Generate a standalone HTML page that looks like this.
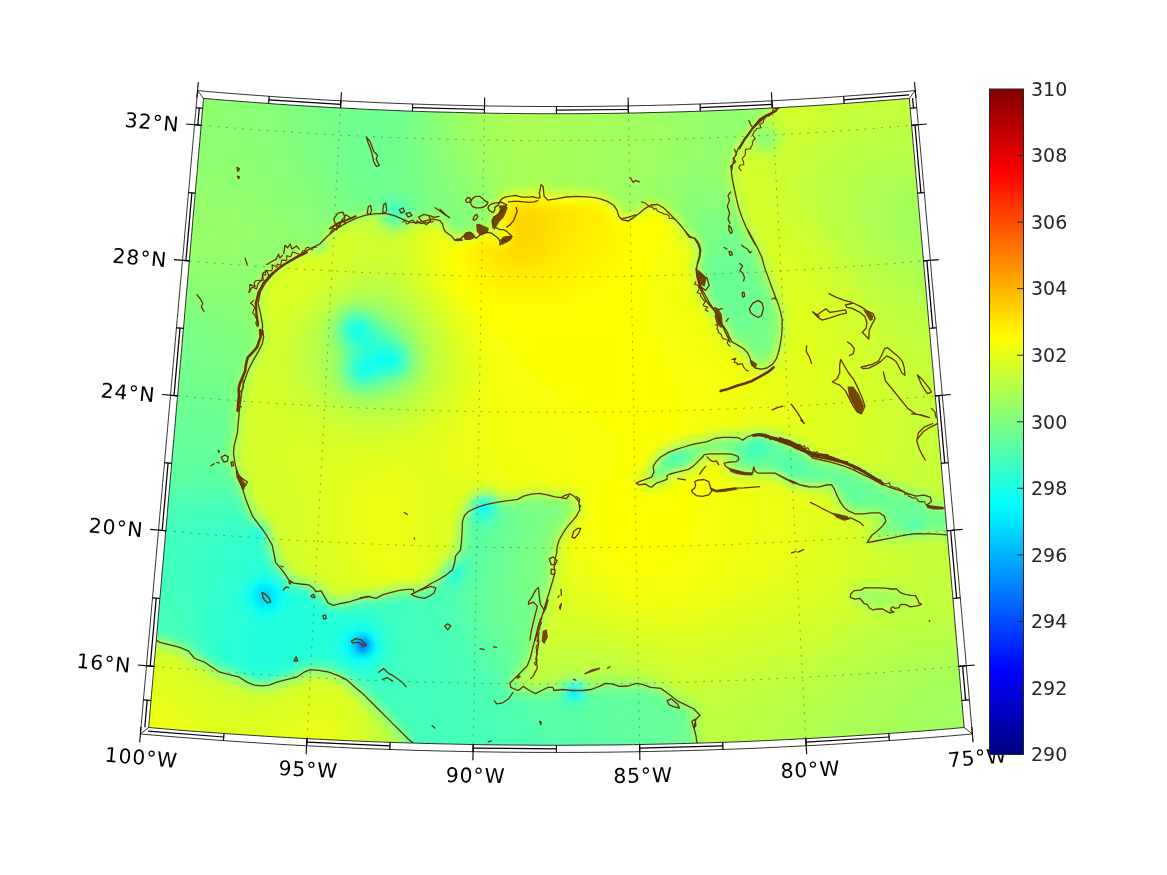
<!DOCTYPE html>
<html><head><meta charset="utf-8"><style>html,body{margin:0;padding:0;background:#fff;width:1167px;height:875px;overflow:hidden}svg{display:block}</style></head>
<body><svg width="1167" height="875" viewBox="0 0 1167 875">
<defs>
<linearGradient id="jet" x1="0" y1="0" x2="0" y2="1"><stop offset="0" stop-color="#800000"/><stop offset="0.125" stop-color="#ff0000"/><stop offset="0.375" stop-color="#ffff00"/><stop offset="0.625" stop-color="#00ffff"/><stop offset="0.875" stop-color="#0000ff"/><stop offset="1" stop-color="#000080"/></linearGradient>
<clipPath id="mc"><polygon points="203.5,98.4 215.4,99.4 227.4,100.4 239.3,101.3 251.2,102.2 263.2,103.1 275.1,104 287.1,104.8 299,105.6 311,106.3 323,107 334.9,107.7 346.9,108.3 358.8,108.9 370.8,109.5 382.8,110 394.7,110.5 406.7,111 418.7,111.4 430.7,111.8 442.6,112.1 454.6,112.4 466.6,112.7 478.5,113 490.5,113.2 502.5,113.4 514.5,113.5 526.5,113.6 538.4,113.7 550.4,113.7 562.4,113.7 574.4,113.7 586.3,113.6 598.3,113.5 610.3,113.4 622.3,113.2 634.3,113 646.2,112.7 658.2,112.4 670.2,112.1 682.1,111.8 694.1,111.4 706.1,111 718.1,110.5 730,110 742,109.5 754,108.9 765.9,108.3 777.9,107.7 789.8,107 801.8,106.3 813.8,105.6 825.7,104.8 837.7,104 849.6,103.1 861.6,102.2 873.5,101.3 885.4,100.4 897.4,99.4 909.3,98.4 909.3,98.4 910.2,109.1 911.2,119.8 912.1,130.6 913,141.3 914,152 914.9,162.7 915.8,173.4 916.8,184.1 917.7,194.7 918.6,205.4 919.6,216.1 920.5,226.7 921.4,237.4 922.4,248.1 923.3,258.7 924.2,269.3 925.1,280 926.1,290.6 927,301.2 927.9,311.9 928.8,322.5 929.8,333.1 930.7,343.7 931.6,354.4 932.6,365 933.5,375.6 934.4,386.2 935.3,396.8 936.3,407.5 937.2,418.1 938.1,428.7 939,439.3 940,449.9 940.9,460.5 941.8,471.2 942.7,481.8 943.7,492.4 944.6,503.1 945.5,513.7 946.4,524.3 947.4,535 948.3,545.6 949.2,556.3 950.2,566.9 951.1,577.6 952,588.2 953,598.9 953.9,609.6 954.8,620.3 955.7,631 956.7,641.7 957.6,652.4 958.5,663.1 959.5,673.8 960.4,684.5 961.4,695.3 962.3,706 963.2,716.8 964.2,727.5 964.2,727.5 950.4,728.7 936.6,729.9 922.8,731 909,732 895.2,733 881.4,734 867.6,734.9 853.8,735.8 839.9,736.7 826.1,737.5 812.3,738.3 798.5,739 784.7,739.7 770.8,740.4 757,741 743.2,741.6 729.4,742.1 715.5,742.6 701.7,743 687.9,743.4 674,743.8 660.2,744.1 646.4,744.4 632.5,744.7 618.7,744.9 604.8,745 591,745.1 577.2,745.2 563.3,745.3 549.5,745.3 535.6,745.2 521.8,745.1 508,745 494.1,744.9 480.3,744.7 466.4,744.4 452.6,744.1 438.8,743.8 424.9,743.4 411.1,743 397.3,742.6 383.4,742.1 369.6,741.6 355.8,741 342,740.4 328.1,739.7 314.3,739 300.5,738.3 286.7,737.5 272.9,736.7 259,735.8 245.2,734.9 231.4,734 217.6,733 203.8,732 190,731 176.2,729.9 162.4,728.7 148.6,727.5 148.6,727.5 149.6,716.8 150.5,706 151.4,695.3 152.4,684.5 153.3,673.8 154.3,663.1 155.2,652.4 156.1,641.7 157.1,631 158,620.3 158.9,609.6 159.8,598.9 160.8,588.2 161.7,577.6 162.6,566.9 163.6,556.3 164.5,545.6 165.4,535 166.4,524.3 167.3,513.7 168.2,503.1 169.1,492.4 170.1,481.8 171,471.2 171.9,460.5 172.8,449.9 173.8,439.3 174.7,428.7 175.6,418.1 176.5,407.5 177.5,396.8 178.4,386.2 179.3,375.6 180.2,365 181.2,354.4 182.1,343.7 183,333.1 184,322.5 184.9,311.9 185.8,301.2 186.7,290.6 187.7,280 188.6,269.3 189.5,258.7 190.4,248.1 191.4,237.4 192.3,226.7 193.2,216.1 194.2,205.4 195.1,194.7 196,184.1 197,173.4 197.9,162.7 198.8,152 199.8,141.3 200.7,130.6 201.6,119.8 202.6,109.1 203.5,98.4"/></clipPath>
<filter id="bl" x="-5%" y="-5%" width="110%" height="110%"><feGaussianBlur stdDeviation="3"/></filter>
</defs>
<g clip-path="url(#mc)"><g filter="url(#bl)"><path fill="#8fff70" d="M132 78h90v6h-90zM438 78h6v6h-6zM714 78h24v6h-24zM132 84h90v6h-90zM438 84h6v6h-6zM714 84h24v6h-24zM132 90h90v6h-90zM438 90h6v6h-6zM714 90h30v6h-30zM756 90h6v6h-6zM132 96h90v6h-90zM438 96h6v6h-6zM720 96h24v6h-24zM756 96h6v6h-6zM132 102h90v6h-90zM438 102h6v6h-6zM720 102h42v6h-42zM132 108h90v6h-90zM438 108h6v6h-6zM720 108h36v6h-36zM132 114h90v6h-90zM726 114h18v6h-18zM132 120h90v6h-90zM726 120h12v6h-12zM132 126h90v6h-90zM444 126h6v6h-6zM132 132h90v6h-90zM444 132h6v6h-6zM132 138h90v6h-90zM444 138h6v6h-6zM132 144h96v6h-96zM132 150h96v6h-96zM450 150h6v6h-6zM132 156h102v6h-102zM450 156h6v6h-6zM132 162h102v6h-102zM132 168h108v6h-108zM456 168h6v6h-6zM714 168h6v6h-6zM210 174h36v6h-36zM702 174h18v6h-18zM222 180h30v6h-30zM462 180h6v6h-6zM696 180h12v6h-12zM234 186h24v6h-24zM468 186h6v6h-6zM690 186h12v6h-12zM246 192h18v6h-18zM468 192h6v6h-6zM684 192h12v6h-12zM252 198h18v6h-18zM474 198h6v6h-6zM678 198h6v6h-6zM726 198h6v6h-6zM258 204h18v6h-18zM678 204h6v6h-6zM264 210h18v6h-18zM480 210h6v6h-6zM270 216h18v6h-18zM276 222h18v6h-18zM384 222h6v6h-6zM282 228h18v6h-18zM282 234h30v6h-30zM132 258h18v6h-18zM150 264h30v6h-30zM174 270h78v6h-78zM198 276h54v6h-54zM234 282h18v6h-18zM246 288h6v6h-6zM768 294h6v6h-6zM246 300h6v6h-6zM246 306h6v6h-6zM336 312h6v6h-6zM390 318h6v6h-6zM774 318h6v6h-6zM774 324h6v6h-6zM252 330h6v6h-6zM330 330h6v6h-6zM402 330h6v6h-6zM252 336h6v6h-6zM342 384h6v6h-6zM234 396h6v6h-6zM756 432h6v6h-6zM684 444h6v6h-6zM762 468h6v6h-6zM780 474h6v6h-6zM798 480h6v6h-6zM498 498h6v6h-6zM546 498h6v6h-6zM924 498h6v6h-6zM564 510h6v6h-6zM966 528h6v6h-6zM546 552h6v6h-6zM396 588h6v6h-6zM324 594h6v6h-6zM360 594h6v6h-6zM528 642h6v6h-6zM222 672h6v6h-6zM330 672h6v6h-6zM564 678h6v6h-6zM516 684h6v6h-6z"/><path fill="#8cff73" d="M222 78h24v6h-24zM738 78h18v6h-18zM222 84h24v6h-24zM738 84h18v6h-18zM222 90h24v6h-24zM744 90h12v6h-12zM222 96h24v6h-24zM744 96h12v6h-12zM222 102h24v6h-24zM222 108h24v6h-24zM222 114h24v6h-24zM438 114h6v6h-6zM222 120h24v6h-24zM438 120h6v6h-6zM222 126h24v6h-24zM438 126h6v6h-6zM222 132h30v6h-30zM438 132h6v6h-6zM222 138h30v6h-30zM228 144h24v6h-24zM444 144h6v6h-6zM228 150h24v6h-24zM444 150h6v6h-6zM234 156h24v6h-24zM234 162h24v6h-24zM450 162h6v6h-6zM240 168h24v6h-24zM450 168h6v6h-6zM246 174h24v6h-24zM456 174h6v6h-6zM252 180h18v6h-18zM456 180h6v6h-6zM708 180h12v6h-12zM258 186h18v6h-18zM462 186h6v6h-6zM702 186h12v6h-12zM720 186h6v6h-6zM264 192h18v6h-18zM696 192h6v6h-6zM270 198h18v6h-18zM468 198h6v6h-6zM684 198h12v6h-12zM276 204h18v6h-18zM474 204h6v6h-6zM282 210h18v6h-18zM288 216h18v6h-18zM336 216h6v6h-6zM684 216h6v6h-6zM294 222h12v6h-12zM324 222h6v6h-6zM300 228h18v6h-18zM312 234h6v6h-6zM696 234h6v6h-6zM750 246h6v6h-6zM132 264h18v6h-18zM150 270h24v6h-24zM168 276h30v6h-30zM192 282h42v6h-42zM702 282h6v6h-6zM216 288h30v6h-30zM240 294h6v6h-6zM378 312h6v6h-6zM396 324h6v6h-6zM240 366h6v6h-6zM336 372h6v6h-6zM234 390h6v6h-6zM372 390h6v6h-6zM714 438h6v6h-6zM726 450h6v6h-6zM810 456h6v6h-6zM732 462h6v6h-6zM888 486h6v6h-6zM906 492h6v6h-6zM522 498h6v6h-6zM840 498h6v6h-6zM246 504h6v6h-6zM564 504h6v6h-6zM846 504h6v6h-6zM930 504h6v6h-6zM948 504h6v6h-6zM552 528h6v6h-6zM930 528h18v6h-18zM954 528h12v6h-12zM546 546h6v6h-6zM534 612h6v6h-6zM144 636h6v6h-6zM168 642h6v6h-6zM522 660h6v6h-6zM210 666h6v6h-6zM282 678h6v6h-6zM690 720h6v6h-6zM690 726h6v6h-6z"/><path fill="#8aff75" d="M246 78h18v6h-18zM432 78h6v6h-6zM246 84h18v6h-18zM432 84h6v6h-6zM246 90h18v6h-18zM432 90h6v6h-6zM246 96h18v6h-18zM432 96h6v6h-6zM246 102h18v6h-18zM432 102h6v6h-6zM246 108h18v6h-18zM432 108h6v6h-6zM246 114h18v6h-18zM432 114h6v6h-6zM246 120h18v6h-18zM432 120h6v6h-6zM246 126h18v6h-18zM252 132h12v6h-12zM252 138h12v6h-12zM438 138h6v6h-6zM252 144h18v6h-18zM438 144h6v6h-6zM252 150h18v6h-18zM438 150h6v6h-6zM258 156h12v6h-12zM444 156h6v6h-6zM258 162h18v6h-18zM444 162h6v6h-6zM264 168h18v6h-18zM270 174h12v6h-12zM450 174h6v6h-6zM270 180h18v6h-18zM450 180h6v6h-6zM276 186h18v6h-18zM456 186h6v6h-6zM714 186h6v6h-6zM282 192h18v6h-18zM462 192h6v6h-6zM702 192h24v6h-24zM288 198h12v6h-12zM462 198h6v6h-6zM696 198h12v6h-12zM294 204h12v6h-12zM468 204h6v6h-6zM684 204h12v6h-12zM726 204h6v6h-6zM300 210h12v6h-12zM354 210h6v6h-6zM432 210h6v6h-6zM474 210h6v6h-6zM684 210h6v6h-6zM306 216h6v6h-6zM444 216h6v6h-6zM474 216h6v6h-6zM732 216h6v6h-6zM306 222h18v6h-18zM468 222h6v6h-6zM132 270h18v6h-18zM150 276h18v6h-18zM168 282h24v6h-24zM192 288h24v6h-24zM210 294h30v6h-30zM222 300h24v6h-24zM240 306h6v6h-6zM366 306h6v6h-6zM246 312h6v6h-6zM246 318h6v6h-6zM744 342h6v6h-6zM246 348h6v6h-6zM336 348h6v6h-6zM768 348h6v6h-6zM336 354h6v6h-6zM336 360h6v6h-6zM336 366h6v6h-6zM408 372h6v6h-6zM402 378h6v6h-6zM390 384h6v6h-6zM354 390h6v6h-6zM228 450h6v6h-6zM234 474h6v6h-6zM654 474h6v6h-6zM822 480h6v6h-6zM540 498h6v6h-6zM558 516h6v6h-6zM882 516h6v6h-6zM882 522h6v6h-6zM948 528h6v6h-6zM408 588h6v6h-6zM540 588h6v6h-6zM366 594h6v6h-6zM690 714h6v6h-6zM690 732h6v6h-6z"/><path fill="#87ff78" d="M264 78h12v6h-12zM426 78h6v6h-6zM264 84h12v6h-12zM264 90h12v6h-12zM264 96h12v6h-12zM264 102h12v6h-12zM264 108h12v6h-12zM264 114h12v6h-12zM264 120h12v6h-12zM264 126h12v6h-12zM432 126h6v6h-6zM264 132h18v6h-18zM432 132h6v6h-6zM264 138h18v6h-18zM432 138h6v6h-6zM270 144h12v6h-12zM270 150h12v6h-12zM270 156h18v6h-18zM438 156h6v6h-6zM276 162h12v6h-12zM438 162h6v6h-6zM282 168h12v6h-12zM444 168h6v6h-6zM282 174h12v6h-12zM444 174h6v6h-6zM288 180h12v6h-12zM294 186h12v6h-12zM450 186h6v6h-6zM300 192h6v6h-6zM456 192h6v6h-6zM300 198h12v6h-12zM456 198h6v6h-6zM708 198h18v6h-18zM306 204h6v6h-6zM462 204h6v6h-6zM696 204h12v6h-12zM312 210h6v6h-6zM426 210h6v6h-6zM438 210h6v6h-6zM468 210h6v6h-6zM690 210h6v6h-6zM312 216h12v6h-12zM330 216h6v6h-6zM468 216h6v6h-6zM450 222h6v6h-6zM690 222h6v6h-6zM738 228h6v6h-6zM132 276h18v6h-18zM150 282h18v6h-18zM168 288h24v6h-24zM186 294h24v6h-24zM204 300h18v6h-18zM216 306h24v6h-24zM234 312h12v6h-12zM240 318h6v6h-6zM246 324h6v6h-6zM408 342h6v6h-6zM750 348h6v6h-6zM234 384h6v6h-6zM366 390h6v6h-6zM228 444h6v6h-6zM690 444h6v6h-6zM666 450h6v6h-6zM228 456h6v6h-6zM768 468h6v6h-6zM804 480h6v6h-6zM816 480h6v6h-6zM528 498h12v6h-12zM954 504h6v6h-6zM462 516h6v6h-6zM882 528h6v6h-6zM924 528h6v6h-6zM546 540h6v6h-6zM306 582h6v6h-6zM540 582h6v6h-6zM402 588h6v6h-6zM414 588h6v6h-6zM528 636h6v6h-6zM510 678h6v6h-6zM588 684h12v6h-12zM642 684h6v6h-6zM660 690h6v6h-6zM678 702h6v6h-6z"/><path fill="#85ff7a" d="M276 78h12v6h-12zM276 84h12v6h-12zM426 84h6v6h-6zM276 90h12v6h-12zM426 90h6v6h-6zM276 96h12v6h-12zM426 96h6v6h-6zM276 102h12v6h-12zM426 102h6v6h-6zM276 108h12v6h-12zM426 108h6v6h-6zM276 114h12v6h-12zM426 114h6v6h-6zM276 120h12v6h-12zM426 120h6v6h-6zM276 126h12v6h-12zM426 126h6v6h-6zM282 132h6v6h-6zM426 132h6v6h-6zM762 132h6v6h-6zM282 138h12v6h-12zM762 138h6v6h-6zM282 144h12v6h-12zM432 144h6v6h-6zM282 150h12v6h-12zM432 150h6v6h-6zM288 156h12v6h-12zM432 156h6v6h-6zM288 162h12v6h-12zM294 168h12v6h-12zM438 168h6v6h-6zM294 174h12v6h-12zM438 174h6v6h-6zM300 180h12v6h-12zM444 180h6v6h-6zM306 186h6v6h-6zM444 186h6v6h-6zM306 192h12v6h-12zM450 192h6v6h-6zM312 198h6v6h-6zM450 198h6v6h-6zM312 204h12v6h-12zM456 204h6v6h-6zM708 204h18v6h-18zM318 210h6v6h-6zM348 210h6v6h-6zM462 210h6v6h-6zM696 210h12v6h-12zM324 216h6v6h-6zM408 216h6v6h-6zM690 216h6v6h-6zM462 222h6v6h-6zM756 264h6v6h-6zM702 276h6v6h-6zM138 282h12v6h-12zM762 282h6v6h-6zM156 288h12v6h-12zM168 294h18v6h-18zM186 300h18v6h-18zM768 300h6v6h-6zM198 306h18v6h-18zM348 306h6v6h-6zM210 312h24v6h-24zM222 318h18v6h-18zM384 318h6v6h-6zM234 324h12v6h-12zM726 324h6v6h-6zM246 330h6v6h-6zM246 336h6v6h-6zM246 342h6v6h-6zM768 342h6v6h-6zM756 354h12v6h-12zM240 360h6v6h-6zM384 384h6v6h-6zM360 390h6v6h-6zM228 438h6v6h-6zM720 438h6v6h-6zM774 438h6v6h-6zM732 456h6v6h-6zM684 462h6v6h-6zM828 462h6v6h-6zM846 468h6v6h-6zM810 480h6v6h-6zM240 492h6v6h-6zM486 492h6v6h-6zM558 504h6v6h-6zM960 504h6v6h-6zM558 510h6v6h-6zM552 522h6v6h-6zM546 534h6v6h-6zM270 546h6v6h-6zM288 576h6v6h-6zM372 594h6v6h-6zM534 606h6v6h-6zM240 678h6v6h-6zM402 750h6v6h-6zM402 756h6v6h-6z"/><path fill="#82ff7d" d="M288 78h12v6h-12zM420 78h6v6h-6zM288 84h12v6h-12zM420 84h6v6h-6zM288 90h12v6h-12zM420 90h6v6h-6zM288 96h12v6h-12zM420 96h6v6h-6zM288 102h12v6h-12zM420 102h6v6h-6zM288 108h12v6h-12zM288 114h12v6h-12zM288 120h12v6h-12zM288 126h12v6h-12zM288 132h12v6h-12zM294 138h6v6h-6zM426 138h6v6h-6zM294 144h12v6h-12zM426 144h6v6h-6zM294 150h12v6h-12zM426 150h6v6h-6zM300 156h6v6h-6zM426 156h6v6h-6zM300 162h12v6h-12zM432 162h6v6h-6zM306 168h6v6h-6zM432 168h6v6h-6zM306 174h6v6h-6zM432 174h6v6h-6zM312 180h6v6h-6zM438 180h6v6h-6zM312 186h6v6h-6zM438 186h6v6h-6zM318 192h6v6h-6zM444 192h6v6h-6zM318 198h6v6h-6zM444 198h6v6h-6zM324 204h6v6h-6zM450 204h6v6h-6zM324 210h6v6h-6zM420 210h6v6h-6zM444 210h6v6h-6zM456 210h6v6h-6zM708 210h12v6h-12zM726 210h6v6h-6zM450 216h18v6h-18zM696 216h12v6h-12zM396 222h6v6h-6zM456 222h6v6h-6zM696 228h6v6h-6zM318 240h6v6h-6zM744 240h6v6h-6zM702 246h6v6h-6zM702 252h6v6h-6zM132 282h6v6h-6zM138 288h18v6h-18zM156 294h12v6h-12zM708 294h6v6h-6zM168 300h18v6h-18zM186 306h12v6h-12zM360 306h6v6h-6zM198 312h12v6h-12zM720 312h6v6h-6zM210 318h12v6h-12zM216 324h18v6h-18zM390 324h6v6h-6zM228 330h18v6h-18zM240 336h6v6h-6zM738 336h6v6h-6zM240 354h6v6h-6zM234 378h6v6h-6zM726 438h12v6h-12zM696 444h6v6h-6zM228 462h6v6h-6zM858 474h6v6h-6zM870 480h6v6h-6zM834 486h6v6h-6zM900 492h6v6h-6zM552 504h6v6h-6zM966 504h6v6h-6zM252 516h6v6h-6zM552 516h6v6h-6zM546 528h6v6h-6zM888 528h6v6h-6zM450 558h6v6h-6zM540 558h6v6h-6zM444 564h6v6h-6zM540 564h6v6h-6zM282 570h6v6h-6zM540 570h6v6h-6zM540 576h6v6h-6zM528 630h6v6h-6zM192 654h6v6h-6zM516 666h6v6h-6zM618 684h12v6h-12zM690 738h6v6h-6zM402 744h6v6h-6z"/><path fill="#80ff80" d="M300 78h12v6h-12zM300 84h12v6h-12zM300 90h12v6h-12zM300 96h12v6h-12zM300 102h6v6h-6zM300 108h6v6h-6zM420 108h6v6h-6zM300 114h6v6h-6zM420 114h6v6h-6zM300 120h6v6h-6zM420 120h6v6h-6zM300 126h12v6h-12zM420 126h6v6h-6zM300 132h12v6h-12zM420 132h6v6h-6zM300 138h12v6h-12zM420 138h6v6h-6zM306 144h6v6h-6zM420 144h6v6h-6zM306 150h6v6h-6zM306 156h6v6h-6zM312 162h6v6h-6zM426 162h6v6h-6zM312 168h6v6h-6zM426 168h6v6h-6zM312 174h12v6h-12zM426 174h6v6h-6zM318 180h6v6h-6zM432 180h6v6h-6zM318 186h6v6h-6zM432 186h6v6h-6zM324 192h6v6h-6zM438 192h6v6h-6zM324 198h6v6h-6zM438 198h6v6h-6zM330 204h6v6h-6zM438 204h12v6h-12zM330 210h18v6h-18zM450 210h6v6h-6zM720 210h6v6h-6zM708 216h12v6h-12zM726 216h6v6h-6zM696 222h12v6h-12zM732 222h6v6h-6zM702 240h6v6h-6zM750 252h6v6h-6zM132 288h6v6h-6zM138 294h18v6h-18zM150 300h18v6h-18zM168 306h18v6h-18zM354 306h6v6h-6zM180 312h18v6h-18zM192 318h18v6h-18zM204 324h12v6h-12zM210 330h18v6h-18zM396 330h6v6h-6zM222 336h18v6h-18zM402 336h6v6h-6zM768 336h6v6h-6zM228 342h18v6h-18zM336 342h6v6h-6zM240 348h6v6h-6zM234 372h6v6h-6zM228 432h6v6h-6zM738 438h6v6h-6zM702 444h6v6h-6zM798 450h6v6h-6zM660 456h6v6h-6zM654 468h6v6h-6zM828 480h6v6h-6zM882 486h6v6h-6zM918 498h6v6h-6zM546 504h6v6h-6zM972 504h6v6h-6zM552 510h6v6h-6zM546 516h6v6h-6zM546 522h6v6h-6zM894 528h6v6h-6zM540 540h6v6h-6zM540 546h6v6h-6zM540 552h6v6h-6zM336 600h6v6h-6zM534 600h6v6h-6zM528 624h6v6h-6zM150 636h6v6h-6zM522 654h6v6h-6zM558 684h6v6h-6zM600 684h6v6h-6zM630 684h12v6h-12zM666 696h6v6h-6zM690 744h6v6h-6z"/><path fill="#7dff82" d="M312 78h6v6h-6zM414 78h6v6h-6zM312 84h6v6h-6zM414 84h6v6h-6zM312 90h6v6h-6zM414 90h6v6h-6zM312 96h6v6h-6zM414 96h6v6h-6zM306 102h12v6h-12zM414 102h6v6h-6zM306 108h12v6h-12zM414 108h6v6h-6zM306 114h12v6h-12zM414 114h6v6h-6zM306 120h12v6h-12zM414 120h6v6h-6zM312 126h6v6h-6zM414 126h6v6h-6zM312 132h6v6h-6zM414 132h6v6h-6zM312 138h6v6h-6zM414 138h6v6h-6zM312 144h6v6h-6zM312 150h6v6h-6zM420 150h6v6h-6zM312 156h12v6h-12zM420 156h6v6h-6zM318 162h6v6h-6zM420 162h6v6h-6zM318 168h6v6h-6zM420 168h6v6h-6zM324 174h6v6h-6zM324 180h6v6h-6zM426 180h6v6h-6zM324 186h6v6h-6zM426 186h6v6h-6zM330 192h6v6h-6zM432 192h6v6h-6zM330 198h6v6h-6zM432 198h6v6h-6zM336 204h6v6h-6zM432 204h6v6h-6zM378 210h6v6h-6zM720 216h6v6h-6zM708 222h12v6h-12zM702 228h6v6h-6zM702 234h6v6h-6zM738 234h6v6h-6zM312 240h6v6h-6zM702 258h6v6h-6zM702 270h6v6h-6zM756 270h6v6h-6zM762 288h6v6h-6zM132 294h6v6h-6zM132 300h18v6h-18zM144 306h24v6h-24zM768 306h6v6h-6zM162 312h18v6h-18zM372 312h6v6h-6zM174 318h18v6h-18zM186 324h18v6h-18zM192 330h18v6h-18zM732 330h6v6h-6zM768 330h6v6h-6zM204 336h18v6h-18zM216 342h12v6h-12zM222 348h18v6h-18zM762 348h6v6h-6zM234 354h6v6h-6zM234 360h6v6h-6zM234 366h6v6h-6zM342 378h6v6h-6zM708 444h6v6h-6zM786 444h6v6h-6zM666 468h6v6h-6zM480 492h6v6h-6zM540 504h6v6h-6zM852 504h6v6h-6zM978 504h6v6h-6zM540 510h12v6h-12zM882 510h6v6h-6zM540 516h6v6h-6zM462 522h6v6h-6zM540 522h6v6h-6zM540 528h6v6h-6zM540 534h6v6h-6zM534 540h6v6h-6zM534 546h6v6h-6zM534 552h6v6h-6zM534 558h6v6h-6zM534 564h6v6h-6zM534 570h6v6h-6zM534 576h6v6h-6zM534 582h6v6h-6zM534 588h6v6h-6zM534 594h6v6h-6zM228 672h6v6h-6zM576 678h6v6h-6zM510 684h6v6h-6zM612 684h6v6h-6zM360 690h6v6h-6zM534 690h6v6h-6zM366 696h6v6h-6zM372 702h6v6h-6zM378 708h6v6h-6zM684 708h6v6h-6zM384 714h6v6h-6zM402 738h6v6h-6z"/><path fill="#7aff85" d="M318 78h12v6h-12zM318 84h12v6h-12zM318 90h6v6h-6zM318 96h6v6h-6zM318 102h6v6h-6zM318 108h6v6h-6zM318 114h6v6h-6zM318 120h6v6h-6zM318 126h6v6h-6zM318 132h6v6h-6zM318 138h6v6h-6zM318 144h6v6h-6zM414 144h6v6h-6zM318 150h12v6h-12zM414 150h6v6h-6zM324 156h6v6h-6zM414 156h6v6h-6zM324 162h6v6h-6zM414 162h6v6h-6zM324 168h6v6h-6zM414 168h6v6h-6zM330 174h6v6h-6zM420 174h6v6h-6zM330 180h6v6h-6zM420 180h6v6h-6zM330 186h6v6h-6zM420 186h6v6h-6zM336 192h6v6h-6zM426 192h6v6h-6zM336 198h6v6h-6zM426 198h6v6h-6zM342 204h6v6h-6zM366 204h6v6h-6zM426 204h6v6h-6zM390 222h6v6h-6zM720 222h12v6h-12zM708 228h12v6h-12zM732 228h6v6h-6zM714 300h6v6h-6zM132 306h12v6h-12zM132 312h30v6h-30zM768 312h6v6h-6zM144 318h30v6h-30zM336 318h6v6h-6zM768 318h6v6h-6zM162 324h24v6h-24zM768 324h6v6h-6zM168 330h24v6h-24zM180 336h24v6h-24zM192 342h24v6h-24zM750 342h6v6h-6zM204 348h18v6h-18zM408 348h6v6h-6zM756 348h6v6h-6zM210 354h24v6h-24zM222 360h12v6h-12zM228 366h6v6h-6zM408 366h6v6h-6zM396 378h6v6h-6zM348 384h6v6h-6zM378 384h6v6h-6zM228 420h6v6h-6zM228 426h6v6h-6zM714 444h6v6h-6zM696 450h6v6h-6zM690 456h6v6h-6zM822 462h6v6h-6zM774 468h6v6h-6zM510 504h6v6h-6zM534 504h6v6h-6zM858 504h18v6h-18zM924 504h6v6h-6zM534 510h6v6h-6zM534 516h6v6h-6zM534 522h6v6h-6zM978 522h6v6h-6zM462 528h6v6h-6zM534 528h6v6h-6zM534 534h6v6h-6zM528 540h6v6h-6zM528 546h6v6h-6zM456 552h6v6h-6zM528 552h6v6h-6zM528 558h6v6h-6zM528 564h6v6h-6zM528 570h6v6h-6zM378 594h6v6h-6zM528 618h6v6h-6zM174 642h6v6h-6zM522 648h6v6h-6zM510 672h6v6h-6zM606 684h6v6h-6zM528 690h6v6h-6zM654 690h6v6h-6zM672 702h6v6h-6zM690 750h6v6h-6z"/><path fill="#78ff87" d="M330 78h6v6h-6zM408 78h6v6h-6zM330 84h6v6h-6zM408 84h6v6h-6zM324 90h12v6h-12zM408 90h6v6h-6zM324 96h12v6h-12zM408 96h6v6h-6zM324 102h6v6h-6zM408 102h6v6h-6zM324 108h6v6h-6zM408 108h6v6h-6zM324 114h6v6h-6zM408 114h6v6h-6zM324 120h6v6h-6zM408 120h6v6h-6zM324 126h6v6h-6zM408 126h6v6h-6zM324 132h6v6h-6zM408 132h6v6h-6zM324 138h6v6h-6zM408 138h6v6h-6zM324 144h12v6h-12zM408 144h6v6h-6zM330 150h6v6h-6zM408 150h6v6h-6zM330 156h6v6h-6zM408 156h6v6h-6zM330 162h6v6h-6zM408 162h6v6h-6zM330 168h6v6h-6zM408 168h6v6h-6zM336 174h6v6h-6zM414 174h6v6h-6zM336 180h6v6h-6zM414 180h6v6h-6zM336 186h6v6h-6zM414 186h6v6h-6zM420 192h6v6h-6zM342 198h6v6h-6zM420 198h6v6h-6zM348 204h18v6h-18zM420 204h6v6h-6zM414 210h6v6h-6zM720 228h12v6h-12zM708 234h12v6h-12zM744 246h6v6h-6zM750 258h6v6h-6zM702 264h6v6h-6zM132 318h12v6h-12zM378 318h6v6h-6zM726 318h6v6h-6zM132 324h30v6h-30zM132 330h36v6h-36zM144 336h36v6h-36zM744 336h6v6h-6zM762 336h6v6h-6zM156 342h36v6h-36zM756 342h12v6h-12zM168 348h36v6h-36zM186 354h24v6h-24zM198 360h24v6h-24zM210 366h18v6h-18zM222 372h12v6h-12zM228 378h6v6h-6zM228 384h6v6h-6zM228 390h6v6h-6zM228 396h6v6h-6zM228 408h6v6h-6zM228 414h6v6h-6zM840 468h6v6h-6zM894 492h6v6h-6zM912 498h6v6h-6zM516 504h18v6h-18zM528 510h6v6h-6zM936 510h12v6h-12zM528 516h6v6h-6zM528 522h6v6h-6zM888 522h6v6h-6zM972 522h6v6h-6zM528 528h6v6h-6zM900 528h6v6h-6zM462 534h6v6h-6zM528 534h6v6h-6zM522 546h6v6h-6zM522 552h6v6h-6zM522 558h6v6h-6zM522 564h6v6h-6zM522 570h6v6h-6zM522 576h12v6h-12zM528 582h6v6h-6zM420 588h6v6h-6zM528 588h6v6h-6zM528 594h6v6h-6zM330 600h6v6h-6zM342 600h6v6h-6zM528 600h6v6h-6zM528 606h6v6h-6zM528 612h6v6h-6zM186 648h6v6h-6zM204 660h6v6h-6zM336 672h6v6h-6zM276 678h6v6h-6zM540 690h6v6h-6zM390 720h6v6h-6zM690 756h6v6h-6z"/><path fill="#75ff8a" d="M336 78h6v6h-6zM402 78h6v6h-6zM336 84h6v6h-6zM402 84h6v6h-6zM336 90h6v6h-6zM402 90h6v6h-6zM336 96h6v6h-6zM402 96h6v6h-6zM330 102h12v6h-12zM402 102h6v6h-6zM330 108h12v6h-12zM402 108h6v6h-6zM330 114h12v6h-12zM402 114h6v6h-6zM330 120h12v6h-12zM402 120h6v6h-6zM330 126h12v6h-12zM402 126h6v6h-6zM330 132h12v6h-12zM402 132h6v6h-6zM330 138h12v6h-12zM402 138h6v6h-6zM336 144h6v6h-6zM402 144h6v6h-6zM336 150h6v6h-6zM402 150h6v6h-6zM336 156h6v6h-6zM402 156h6v6h-6zM336 162h6v6h-6zM402 162h6v6h-6zM336 168h6v6h-6zM402 168h6v6h-6zM342 174h6v6h-6zM402 174h12v6h-12zM342 180h6v6h-6zM408 180h6v6h-6zM342 186h6v6h-6zM408 186h6v6h-6zM342 192h6v6h-6zM414 192h6v6h-6zM348 198h6v6h-6zM414 198h6v6h-6zM372 204h6v6h-6zM720 234h18v6h-18zM708 240h12v6h-12zM738 240h6v6h-6zM708 246h6v6h-6zM756 276h6v6h-6zM708 288h6v6h-6zM762 294h6v6h-6zM720 306h6v6h-6zM342 312h6v6h-6zM762 324h6v6h-6zM756 330h12v6h-12zM132 336h12v6h-12zM336 336h6v6h-6zM750 336h12v6h-12zM132 342h24v6h-24zM132 348h36v6h-36zM132 354h54v6h-54zM144 360h54v6h-54zM168 366h42v6h-42zM192 372h30v6h-30zM210 378h18v6h-18zM228 402h6v6h-6zM768 438h6v6h-6zM720 444h6v6h-6zM732 450h6v6h-6zM804 456h6v6h-6zM228 468h6v6h-6zM234 480h6v6h-6zM840 492h6v6h-6zM504 504h6v6h-6zM876 504h6v6h-6zM522 510h6v6h-6zM930 510h6v6h-6zM948 510h6v6h-6zM522 516h6v6h-6zM888 516h6v6h-6zM522 522h6v6h-6zM930 522h18v6h-18zM960 522h12v6h-12zM522 528h6v6h-6zM522 534h6v6h-6zM522 540h6v6h-6zM516 558h6v6h-6zM516 564h6v6h-6zM516 570h6v6h-6zM516 576h6v6h-6zM522 582h6v6h-6zM522 588h6v6h-6zM522 594h6v6h-6zM522 600h6v6h-6zM522 642h6v6h-6zM294 672h6v6h-6zM354 684h6v6h-6zM396 726h6v6h-6z"/><path fill="#73ff8c" d="M342 78h12v6h-12zM396 78h6v6h-6zM342 84h12v6h-12zM396 84h6v6h-6zM342 90h6v6h-6zM396 90h6v6h-6zM342 96h6v6h-6zM396 96h6v6h-6zM342 102h6v6h-6zM396 102h6v6h-6zM342 108h6v6h-6zM396 108h6v6h-6zM342 114h6v6h-6zM396 114h6v6h-6zM342 120h6v6h-6zM396 120h6v6h-6zM342 126h6v6h-6zM396 126h6v6h-6zM342 132h6v6h-6zM396 132h6v6h-6zM342 138h6v6h-6zM396 138h6v6h-6zM342 144h6v6h-6zM396 144h6v6h-6zM342 150h6v6h-6zM396 150h6v6h-6zM342 156h6v6h-6zM396 156h6v6h-6zM342 162h6v6h-6zM396 162h6v6h-6zM342 168h12v6h-12zM396 168h6v6h-6zM348 174h6v6h-6zM396 174h6v6h-6zM348 180h6v6h-6zM396 180h12v6h-12zM348 186h6v6h-6zM402 186h6v6h-6zM348 192h12v6h-12zM408 192h6v6h-6zM354 198h6v6h-6zM414 204h6v6h-6zM384 216h6v6h-6zM720 240h18v6h-18zM714 246h6v6h-6zM738 246h6v6h-6zM708 252h6v6h-6zM744 252h6v6h-6zM750 264h6v6h-6zM756 282h6v6h-6zM762 300h6v6h-6zM762 306h6v6h-6zM762 312h6v6h-6zM756 318h12v6h-12zM384 324h6v6h-6zM732 324h6v6h-6zM750 324h12v6h-12zM738 330h18v6h-18zM342 354h6v6h-6zM408 354h6v6h-6zM132 360h12v6h-12zM132 366h36v6h-36zM132 372h60v6h-60zM156 378h54v6h-54zM192 384h36v6h-36zM222 390h6v6h-6zM738 462h6v6h-6zM816 462h6v6h-6zM852 474h6v6h-6zM864 480h6v6h-6zM876 486h6v6h-6zM888 492h6v6h-6zM240 498h6v6h-6zM846 498h6v6h-6zM906 498h6v6h-6zM468 504h6v6h-6zM246 510h6v6h-6zM516 510h6v6h-6zM954 510h12v6h-12zM516 522h6v6h-6zM948 522h12v6h-12zM516 528h6v6h-6zM918 528h6v6h-6zM516 534h6v6h-6zM462 540h6v6h-6zM516 540h6v6h-6zM516 546h6v6h-6zM270 552h6v6h-6zM516 552h6v6h-6zM276 564h6v6h-6zM510 570h6v6h-6zM510 576h6v6h-6zM300 582h6v6h-6zM516 582h6v6h-6zM516 588h6v6h-6zM516 594h6v6h-6zM516 600h6v6h-6zM516 606h12v6h-12zM522 612h6v6h-6zM522 618h6v6h-6zM522 624h6v6h-6zM522 630h6v6h-6zM156 636h6v6h-6zM522 636h6v6h-6zM516 660h6v6h-6zM570 678h6v6h-6zM522 690h6v6h-6zM546 690h6v6h-6zM648 690h6v6h-6zM660 696h6v6h-6zM684 714h6v6h-6zM684 720h6v6h-6zM684 726h6v6h-6z"/><path fill="#70ff8f" d="M354 78h12v6h-12zM390 78h6v6h-6zM354 84h12v6h-12zM390 84h6v6h-6zM348 90h12v6h-12zM390 90h6v6h-6zM348 96h12v6h-12zM390 96h6v6h-6zM348 102h12v6h-12zM390 102h6v6h-6zM348 108h12v6h-12zM390 108h6v6h-6zM348 114h12v6h-12zM384 114h12v6h-12zM348 120h12v6h-12zM384 120h12v6h-12zM348 126h12v6h-12zM384 126h12v6h-12zM348 132h12v6h-12zM384 132h12v6h-12zM348 138h12v6h-12zM384 138h12v6h-12zM348 144h12v6h-12zM384 144h12v6h-12zM348 150h12v6h-12zM384 150h12v6h-12zM348 156h12v6h-12zM384 156h12v6h-12zM348 162h12v6h-12zM384 162h12v6h-12zM354 168h6v6h-6zM384 168h12v6h-12zM354 174h6v6h-6zM384 174h12v6h-12zM354 180h12v6h-12zM390 180h6v6h-6zM354 186h12v6h-12zM396 186h6v6h-6zM360 192h6v6h-6zM360 198h12v6h-12zM720 246h18v6h-18zM714 252h30v6h-30zM708 258h6v6h-6zM744 258h6v6h-6zM750 270h6v6h-6zM708 282h6v6h-6zM756 288h6v6h-6zM756 300h6v6h-6zM756 306h6v6h-6zM726 312h6v6h-6zM750 312h12v6h-12zM744 318h12v6h-12zM738 324h12v6h-12zM390 330h6v6h-6zM342 348h6v6h-6zM408 360h6v6h-6zM342 372h6v6h-6zM402 372h6v6h-6zM132 378h24v6h-24zM132 384h60v6h-60zM372 384h6v6h-6zM168 390h54v6h-54zM204 396h24v6h-24zM222 402h6v6h-6zM726 444h6v6h-6zM786 474h6v6h-6zM918 504h6v6h-6zM888 510h6v6h-6zM924 510h6v6h-6zM966 510h18v6h-18zM516 516h6v6h-6zM936 516h6v6h-6zM894 522h6v6h-6zM924 522h6v6h-6zM510 534h6v6h-6zM510 540h6v6h-6zM510 546h6v6h-6zM510 552h6v6h-6zM510 558h6v6h-6zM510 564h6v6h-6zM438 576h6v6h-6zM432 582h6v6h-6zM510 582h6v6h-6zM510 588h6v6h-6zM510 594h6v6h-6zM510 600h6v6h-6zM510 606h6v6h-6zM510 612h12v6h-12zM516 618h6v6h-6zM516 624h6v6h-6zM312 666h6v6h-6zM552 690h6v6h-6zM678 708h6v6h-6zM684 732h6v6h-6z"/><path fill="#6eff91" d="M366 78h24v6h-24zM366 84h24v6h-24zM360 90h30v6h-30zM360 96h30v6h-30zM360 102h30v6h-30zM360 108h30v6h-30zM360 114h24v6h-24zM360 120h24v6h-24zM360 126h24v6h-24zM360 132h24v6h-24zM360 138h24v6h-24zM360 144h24v6h-24zM360 150h24v6h-24zM360 156h24v6h-24zM360 162h24v6h-24zM360 168h24v6h-24zM360 174h24v6h-24zM366 180h24v6h-24zM366 186h30v6h-30zM366 192h12v6h-12zM402 192h6v6h-6zM372 198h6v6h-6zM408 198h6v6h-6zM402 216h6v6h-6zM714 258h30v6h-30zM708 264h6v6h-6zM738 264h12v6h-12zM708 270h6v6h-6zM708 276h6v6h-6zM750 276h6v6h-6zM750 282h6v6h-6zM750 288h6v6h-6zM714 294h6v6h-6zM750 294h12v6h-12zM744 300h12v6h-12zM744 306h12v6h-12zM366 312h6v6h-6zM738 312h12v6h-12zM732 318h12v6h-12zM336 324h6v6h-6zM402 342h6v6h-6zM342 360h6v6h-6zM390 378h6v6h-6zM132 390h36v6h-36zM132 396h72v6h-72zM180 402h42v6h-42zM222 408h6v6h-6zM222 414h6v6h-6zM744 438h6v6h-6zM222 444h6v6h-6zM780 444h6v6h-6zM222 450h6v6h-6zM792 450h6v6h-6zM678 462h6v6h-6zM660 468h6v6h-6zM834 468h6v6h-6zM834 480h6v6h-6zM900 498h6v6h-6zM882 504h6v6h-6zM510 510h6v6h-6zM510 516h6v6h-6zM894 516h6v6h-6zM930 516h6v6h-6zM942 516h42v6h-42zM510 522h6v6h-6zM510 528h6v6h-6zM504 540h6v6h-6zM504 546h6v6h-6zM504 552h6v6h-6zM504 558h6v6h-6zM504 564h6v6h-6zM504 570h6v6h-6zM504 576h6v6h-6zM504 582h6v6h-6zM504 588h6v6h-6zM504 594h6v6h-6zM504 600h6v6h-6zM504 606h6v6h-6zM504 612h6v6h-6zM510 618h6v6h-6zM510 624h6v6h-6zM132 630h6v6h-6zM516 630h6v6h-6zM516 636h6v6h-6zM348 678h6v6h-6zM516 690h6v6h-6zM642 690h6v6h-6zM666 702h6v6h-6zM402 732h6v6h-6zM684 738h6v6h-6zM684 744h6v6h-6z"/><path fill="#94ff6b" d="M444 78h6v6h-6zM684 78h12v6h-12zM444 84h6v6h-6zM684 84h12v6h-12zM444 90h6v6h-6zM684 90h12v6h-12zM444 96h6v6h-6zM690 96h12v6h-12zM690 102h12v6h-12zM690 108h12v6h-12zM690 114h18v6h-18zM450 120h6v6h-6zM696 120h12v6h-12zM450 126h6v6h-6zM696 126h12v6h-12zM738 126h6v6h-6zM450 132h6v6h-6zM696 132h12v6h-12zM732 132h6v6h-6zM756 132h6v6h-6zM696 138h12v6h-12zM756 138h6v6h-6zM456 144h6v6h-6zM696 144h12v6h-12zM456 150h6v6h-6zM696 150h12v6h-12zM462 156h6v6h-6zM690 156h18v6h-18zM720 156h6v6h-6zM462 162h6v6h-6zM690 162h12v6h-12zM720 162h6v6h-6zM468 168h6v6h-6zM684 168h12v6h-12zM720 168h6v6h-6zM468 174h6v6h-6zM678 174h12v6h-12zM720 174h6v6h-6zM474 180h6v6h-6zM672 180h12v6h-12zM474 186h6v6h-6zM672 186h6v6h-6zM162 192h36v6h-36zM480 192h6v6h-6zM666 192h6v6h-6zM726 192h6v6h-6zM132 198h90v6h-90zM132 204h102v6h-102zM132 210h108v6h-108zM210 216h36v6h-36zM342 216h6v6h-6zM414 216h6v6h-6zM216 222h36v6h-36zM474 222h6v6h-6zM738 222h6v6h-6zM216 228h42v6h-42zM132 234h18v6h-18zM204 234h54v6h-54zM318 234h6v6h-6zM132 240h126v6h-126zM306 240h6v6h-6zM138 246h114v6h-114zM168 252h72v6h-72zM276 252h6v6h-6zM342 306h6v6h-6zM372 306h6v6h-6zM384 312h6v6h-6zM774 312h6v6h-6zM252 318h6v6h-6zM720 318h6v6h-6zM774 330h6v6h-6zM408 336h6v6h-6zM252 342h6v6h-6zM348 390h6v6h-6zM378 390h6v6h-6zM234 408h6v6h-6zM792 444h6v6h-6zM834 462h6v6h-6zM744 468h12v6h-12zM660 474h6v6h-6zM864 474h6v6h-6zM240 486h6v6h-6zM516 498h6v6h-6zM552 498h6v6h-6zM936 504h6v6h-6zM972 528h6v6h-6zM546 564h6v6h-6zM864 594h6v6h-6zM534 618h6v6h-6zM342 678h6v6h-6zM258 684h6v6h-6zM546 684h12v6h-12zM672 696h6v6h-6zM690 708h6v6h-6zM696 756h6v6h-6z"/><path fill="#99ff66" d="M450 78h6v6h-6zM660 78h12v6h-12zM450 84h6v6h-6zM660 84h12v6h-12zM666 90h6v6h-6zM666 96h12v6h-12zM762 96h6v6h-6zM456 102h6v6h-6zM666 102h12v6h-12zM762 102h6v6h-6zM456 108h6v6h-6zM666 108h12v6h-12zM456 114h6v6h-6zM666 114h12v6h-12zM456 120h6v6h-6zM672 120h6v6h-6zM672 126h12v6h-12zM462 132h6v6h-6zM672 132h12v6h-12zM462 138h6v6h-6zM672 138h12v6h-12zM732 138h6v6h-6zM672 144h12v6h-12zM468 150h6v6h-6zM666 150h12v6h-12zM726 150h6v6h-6zM468 156h6v6h-6zM666 156h12v6h-12zM474 162h6v6h-6zM666 162h12v6h-12zM474 168h6v6h-6zM660 168h12v6h-12zM480 174h6v6h-6zM654 174h12v6h-12zM480 180h6v6h-6zM654 180h12v6h-12zM486 186h6v6h-6zM648 186h12v6h-12zM486 192h6v6h-6zM666 198h6v6h-6zM486 210h6v6h-6zM378 216h6v6h-6zM252 312h6v6h-6zM330 318h6v6h-6zM396 318h6v6h-6zM402 324h6v6h-6zM774 336h6v6h-6zM750 354h6v6h-6zM768 354h6v6h-6zM408 378h6v6h-6zM384 390h6v6h-6zM234 414h6v6h-6zM762 432h6v6h-6zM708 438h6v6h-6zM894 486h6v6h-6zM558 498h6v6h-6zM876 528h6v6h-6zM270 540h6v6h-6zM390 588h6v6h-6zM540 600h6v6h-6zM138 636h6v6h-6zM528 648h6v6h-6zM516 672h6v6h-6zM582 678h6v6h-6zM252 684h6v6h-6zM522 684h6v6h-6zM390 726h6v6h-6z"/><path fill="#9cff63" d="M456 78h6v6h-6zM648 78h12v6h-12zM456 84h6v6h-6zM654 84h6v6h-6zM456 90h6v6h-6zM654 90h12v6h-12zM762 90h6v6h-6zM456 96h6v6h-6zM654 96h12v6h-12zM654 102h12v6h-12zM654 108h12v6h-12zM462 114h6v6h-6zM654 114h12v6h-12zM462 120h6v6h-6zM660 120h12v6h-12zM462 126h6v6h-6zM660 126h12v6h-12zM468 132h6v6h-6zM660 132h12v6h-12zM468 138h6v6h-6zM660 138h12v6h-12zM468 144h6v6h-6zM654 144h18v6h-18zM762 144h6v6h-6zM474 150h6v6h-6zM654 150h12v6h-12zM474 156h6v6h-6zM654 156h12v6h-12zM480 162h6v6h-6zM648 162h18v6h-18zM480 168h6v6h-6zM648 168h12v6h-12zM486 174h6v6h-6zM642 174h12v6h-12zM486 180h6v6h-6zM636 180h18v6h-18zM636 186h12v6h-12zM726 186h6v6h-6zM630 192h30v6h-30zM732 204h6v6h-6zM438 216h6v6h-6zM402 222h6v6h-6zM444 222h6v6h-6zM450 228h6v6h-6zM282 252h6v6h-6zM252 288h6v6h-6zM768 288h6v6h-6zM708 300h6v6h-6zM378 306h6v6h-6zM774 306h6v6h-6zM390 312h6v6h-6zM726 330h6v6h-6zM414 342h6v6h-6zM330 348h6v6h-6zM330 354h6v6h-6zM330 360h6v6h-6zM402 384h6v6h-6zM234 420h6v6h-6zM720 450h6v6h-6zM804 450h6v6h-6zM234 468h6v6h-6zM738 468h6v6h-6zM792 480h6v6h-6zM474 492h6v6h-6zM834 492h6v6h-6zM468 498h6v6h-6zM504 498h12v6h-12zM564 498h6v6h-6zM972 498h6v6h-6zM462 510h6v6h-6zM882 534h6v6h-6zM546 576h6v6h-6zM354 594h6v6h-6zM162 642h6v6h-6zM606 678h6v6h-6zM540 684h6v6h-6zM654 684h6v6h-6zM696 744h6v6h-6z"/><path fill="#a1ff5e" d="M462 78h6v6h-6zM624 78h18v6h-18zM762 78h6v6h-6zM624 84h18v6h-18zM468 90h6v6h-6zM624 90h18v6h-18zM468 96h6v6h-6zM624 96h18v6h-18zM468 102h6v6h-6zM624 102h18v6h-18zM468 108h6v6h-6zM624 108h18v6h-18zM474 114h6v6h-6zM624 114h18v6h-18zM474 120h6v6h-6zM624 120h18v6h-18zM474 126h6v6h-6zM624 126h18v6h-18zM744 126h6v6h-6zM474 132h12v6h-12zM618 132h24v6h-24zM480 138h6v6h-6zM618 138h24v6h-24zM480 144h6v6h-6zM618 144h24v6h-24zM486 150h6v6h-6zM612 150h24v6h-24zM486 156h6v6h-6zM612 156h24v6h-24zM492 162h6v6h-6zM606 162h24v6h-24zM492 168h6v6h-6zM606 168h24v6h-24zM498 174h6v6h-6zM600 174h24v6h-24zM498 180h6v6h-6zM600 180h18v6h-18zM726 180h6v6h-6zM612 186h6v6h-6zM492 192h6v6h-6zM618 192h6v6h-6zM636 198h6v6h-6zM660 198h6v6h-6zM954 210h30v6h-30zM936 216h48v6h-48zM936 222h48v6h-48zM468 228h6v6h-6zM936 228h48v6h-48zM948 234h36v6h-36zM756 252h6v6h-6zM276 258h6v6h-6zM696 258h6v6h-6zM252 294h6v6h-6zM348 300h6v6h-6zM366 300h6v6h-6zM384 306h6v6h-6zM738 342h6v6h-6zM774 342h6v6h-6zM330 372h6v6h-6zM336 384h6v6h-6zM342 390h6v6h-6zM354 396h6v6h-6zM372 396h6v6h-6zM234 426h6v6h-6zM714 450h6v6h-6zM840 462h6v6h-6zM648 474h6v6h-6zM570 504h6v6h-6zM858 510h12v6h-12zM876 534h6v6h-6zM912 534h6v6h-6zM456 540h6v6h-6zM552 540h6v6h-6zM876 594h6v6h-6zM528 654h6v6h-6zM522 666h6v6h-6zM324 672h6v6h-6zM234 678h6v6h-6zM630 678h6v6h-6zM528 684h12v6h-12zM966 696h18v6h-18zM954 702h30v6h-30zM948 708h36v6h-36zM942 714h42v6h-42zM936 720h48v6h-48zM930 726h48v6h-48zM930 732h42v6h-42zM396 738h6v6h-6zM924 738h42v6h-42zM924 744h36v6h-36zM924 750h36v6h-36zM918 756h36v6h-36z"/><path fill="#a3ff5c" d="M468 78h6v6h-6zM600 78h24v6h-24zM468 84h12v6h-12zM600 84h24v6h-24zM474 90h6v6h-6zM600 90h24v6h-24zM474 96h6v6h-6zM600 96h24v6h-24zM474 102h6v6h-6zM600 102h24v6h-24zM474 108h6v6h-6zM594 108h30v6h-30zM762 108h6v6h-6zM480 114h6v6h-6zM594 114h30v6h-30zM756 114h6v6h-6zM480 120h6v6h-6zM594 120h30v6h-30zM750 120h6v6h-6zM480 126h6v6h-6zM594 126h30v6h-30zM756 126h6v6h-6zM486 132h6v6h-6zM588 132h30v6h-30zM486 138h6v6h-6zM588 138h30v6h-30zM486 144h6v6h-6zM588 144h30v6h-30zM732 144h6v6h-6zM768 144h6v6h-6zM492 150h6v6h-6zM588 150h24v6h-24zM492 156h6v6h-6zM582 156h30v6h-30zM498 162h6v6h-6zM582 162h24v6h-24zM726 162h6v6h-6zM498 168h6v6h-6zM582 168h24v6h-24zM504 174h6v6h-6zM582 174h18v6h-18zM726 174h6v6h-6zM504 180h6v6h-6zM588 180h12v6h-12zM606 186h6v6h-6zM618 198h6v6h-6zM948 198h36v6h-36zM624 204h6v6h-6zM918 204h66v6h-66zM912 210h42v6h-42zM738 216h6v6h-6zM912 216h24v6h-24zM912 222h24v6h-24zM744 228h6v6h-6zM912 228h24v6h-24zM918 234h30v6h-30zM924 240h60v6h-60zM942 246h42v6h-42zM270 264h6v6h-6zM264 270h6v6h-6zM696 270h6v6h-6zM252 300h6v6h-6zM372 300h6v6h-6zM336 306h6v6h-6zM396 312h6v6h-6zM402 318h6v6h-6zM414 336h6v6h-6zM744 348h6v6h-6zM396 390h6v6h-6zM378 396h6v6h-6zM240 480h6v6h-6zM882 480h6v6h-6zM246 498h6v6h-6zM960 498h6v6h-6zM894 534h12v6h-12zM294 576h6v6h-6zM312 582h6v6h-6zM546 582h6v6h-6zM864 588h6v6h-6zM882 594h12v6h-12zM540 606h6v6h-6zM534 630h6v6h-6zM132 636h6v6h-6zM216 672h6v6h-6zM516 678h6v6h-6zM618 678h12v6h-12zM636 678h6v6h-6zM978 678h6v6h-6zM270 684h6v6h-6zM954 684h30v6h-30zM942 690h42v6h-42zM936 696h30v6h-30zM924 702h30v6h-30zM372 708h6v6h-6zM918 708h30v6h-30zM378 714h6v6h-6zM918 714h24v6h-24zM912 720h24v6h-24zM912 726h18v6h-18zM906 732h24v6h-24zM696 738h6v6h-6zM906 738h18v6h-18zM900 744h24v6h-24zM900 750h24v6h-24zM900 756h18v6h-18z"/><path fill="#a6ff59" d="M474 78h12v6h-12zM576 78h24v6h-24zM480 84h6v6h-6zM576 84h24v6h-24zM480 90h6v6h-6zM576 90h24v6h-24zM480 96h6v6h-6zM576 96h24v6h-24zM480 102h12v6h-12zM576 102h24v6h-24zM480 108h12v6h-12zM576 108h18v6h-18zM486 114h6v6h-6zM570 114h24v6h-24zM486 120h12v6h-12zM570 120h24v6h-24zM486 126h12v6h-12zM570 126h24v6h-24zM768 126h6v6h-6zM492 132h6v6h-6zM570 132h18v6h-18zM492 138h12v6h-12zM570 138h18v6h-18zM492 144h12v6h-12zM570 144h18v6h-18zM756 144h6v6h-6zM498 150h6v6h-6zM564 150h24v6h-24zM498 156h12v6h-12zM564 156h18v6h-18zM504 162h6v6h-6zM564 162h18v6h-18zM504 168h12v6h-12zM564 168h18v6h-18zM726 168h6v6h-6zM510 174h6v6h-6zM558 174h24v6h-24zM510 180h6v6h-6zM570 180h18v6h-18zM498 186h6v6h-6zM600 186h6v6h-6zM612 192h6v6h-6zM924 192h60v6h-60zM492 198h6v6h-6zM732 198h6v6h-6zM906 198h42v6h-42zM630 204h6v6h-6zM666 204h6v6h-6zM900 204h18v6h-18zM672 210h6v6h-6zM894 210h18v6h-18zM894 216h18v6h-18zM336 222h6v6h-6zM894 222h18v6h-18zM390 228h6v6h-6zM900 228h12v6h-12zM906 234h12v6h-12zM906 240h18v6h-18zM918 246h24v6h-24zM288 252h6v6h-6zM930 252h54v6h-54zM954 258h30v6h-30zM390 306h6v6h-6zM330 312h6v6h-6zM408 324h6v6h-6zM324 330h6v6h-6zM324 336h6v6h-6zM324 342h6v6h-6zM420 354h6v6h-6zM330 378h6v6h-6zM408 384h6v6h-6zM384 396h6v6h-6zM234 432h6v6h-6zM690 462h6v6h-6zM828 486h6v6h-6zM900 486h6v6h-6zM492 492h6v6h-6zM930 498h6v6h-6zM252 510h6v6h-6zM852 510h6v6h-6zM858 588h6v6h-6zM870 588h6v6h-6zM864 600h12v6h-12zM186 654h6v6h-6zM960 672h24v6h-24zM594 678h6v6h-6zM942 678h36v6h-36zM246 684h6v6h-6zM930 684h24v6h-24zM354 690h6v6h-6zM918 690h24v6h-24zM360 696h6v6h-6zM678 696h6v6h-6zM912 696h24v6h-24zM366 702h6v6h-6zM906 702h18v6h-18zM900 708h18v6h-18zM894 714h24v6h-24zM894 720h18v6h-18zM888 726h24v6h-24zM888 732h18v6h-18zM882 738h24v6h-24zM396 744h6v6h-6zM882 744h18v6h-18zM396 750h6v6h-6zM882 750h18v6h-18zM396 756h6v6h-6zM876 756h24v6h-24z"/><path fill="#a8ff57" d="M486 78h12v6h-12zM558 78h18v6h-18zM486 84h12v6h-12zM558 84h18v6h-18zM486 90h12v6h-12zM558 90h18v6h-18zM486 96h18v6h-18zM552 96h24v6h-24zM492 102h12v6h-12zM552 102h24v6h-24zM492 108h12v6h-12zM552 108h24v6h-24zM492 114h12v6h-12zM552 114h18v6h-18zM498 120h12v6h-12zM552 120h18v6h-18zM498 126h12v6h-12zM552 126h18v6h-18zM750 126h6v6h-6zM498 132h18v6h-18zM546 132h24v6h-24zM750 132h6v6h-6zM504 138h12v6h-12zM546 138h24v6h-24zM504 144h18v6h-18zM546 144h24v6h-24zM504 150h18v6h-18zM540 150h24v6h-24zM510 156h18v6h-18zM540 156h24v6h-24zM510 162h54v6h-54zM516 168h48v6h-48zM516 174h42v6h-42zM516 180h12v6h-12zM552 180h18v6h-18zM906 186h78v6h-78zM894 192h30v6h-30zM642 198h6v6h-6zM888 198h18v6h-18zM882 204h18v6h-18zM882 210h12v6h-12zM426 216h6v6h-6zM882 216h12v6h-12zM888 222h6v6h-6zM888 228h12v6h-12zM894 234h12v6h-12zM894 240h12v6h-12zM300 246h6v6h-6zM696 246h6v6h-6zM900 246h18v6h-18zM696 252h6v6h-6zM912 252h18v6h-18zM918 258h36v6h-36zM936 264h48v6h-48zM378 300h6v6h-6zM774 300h6v6h-6zM324 324h6v6h-6zM414 330h6v6h-6zM324 348h6v6h-6zM420 348h6v6h-6zM324 354h6v6h-6zM324 360h6v6h-6zM420 360h6v6h-6zM414 378h6v6h-6zM240 384h6v6h-6zM402 390h6v6h-6zM348 396h6v6h-6zM702 438h6v6h-6zM726 456h6v6h-6zM858 468h6v6h-6zM870 474h6v6h-6zM924 492h6v6h-6zM954 498h6v6h-6zM258 516h6v6h-6zM876 522h6v6h-6zM558 528h6v6h-6zM918 534h6v6h-6zM450 552h6v6h-6zM282 564h6v6h-6zM384 588h6v6h-6zM876 588h6v6h-6zM894 594h6v6h-6zM876 600h18v6h-18zM156 642h6v6h-6zM948 666h36v6h-36zM306 672h6v6h-6zM930 672h30v6h-30zM558 678h6v6h-6zM588 678h6v6h-6zM918 678h24v6h-24zM660 684h6v6h-6zM906 684h24v6h-24zM900 690h18v6h-18zM894 696h18v6h-18zM888 702h18v6h-18zM882 708h18v6h-18zM696 714h6v6h-6zM876 714h18v6h-18zM870 720h24v6h-24zM864 726h24v6h-24zM696 732h6v6h-6zM858 732h30v6h-30zM852 738h30v6h-30zM852 744h30v6h-30zM846 750h36v6h-36zM840 756h36v6h-36z"/><path fill="#abff54" d="M498 78h60v6h-60zM498 84h60v6h-60zM498 90h60v6h-60zM504 96h48v6h-48zM504 102h48v6h-48zM504 108h48v6h-48zM504 114h48v6h-48zM510 120h42v6h-42zM756 120h6v6h-6zM510 126h42v6h-42zM516 132h30v6h-30zM744 132h6v6h-6zM774 132h6v6h-6zM516 138h30v6h-30zM738 138h6v6h-6zM774 138h6v6h-6zM522 144h24v6h-24zM522 150h18v6h-18zM528 156h12v6h-12zM528 180h6v6h-6zM546 180h6v6h-6zM900 180h84v6h-84zM594 186h6v6h-6zM888 186h18v6h-18zM882 192h12v6h-12zM654 198h6v6h-6zM876 198h12v6h-12zM492 204h6v6h-6zM876 204h6v6h-6zM876 210h6v6h-6zM354 216h6v6h-6zM432 216h6v6h-6zM876 216h6v6h-6zM486 222h6v6h-6zM876 222h12v6h-12zM882 228h6v6h-6zM690 234h6v6h-6zM882 234h12v6h-12zM888 240h6v6h-6zM894 246h6v6h-6zM900 252h12v6h-12zM906 258h12v6h-12zM918 264h18v6h-18zM930 270h54v6h-54zM258 282h6v6h-6zM768 282h6v6h-6zM702 294h6v6h-6zM342 300h6v6h-6zM384 300h6v6h-6zM396 306h6v6h-6zM402 312h6v6h-6zM714 312h6v6h-6zM408 318h6v6h-6zM258 330h6v6h-6zM258 336h6v6h-6zM420 342h6v6h-6zM246 366h6v6h-6zM324 366h6v6h-6zM420 366h6v6h-6zM390 396h6v6h-6zM744 432h6v6h-6zM768 432h6v6h-6zM786 438h6v6h-6zM822 456h6v6h-6zM234 462h6v6h-6zM678 468h6v6h-6zM534 492h6v6h-6zM840 504h6v6h-6zM570 510h6v6h-6zM876 516h6v6h-6zM270 534h6v6h-6zM456 534h6v6h-6zM948 534h6v6h-6zM552 546h6v6h-6zM546 588h6v6h-6zM882 588h6v6h-6zM348 594h6v6h-6zM900 594h6v6h-6zM894 600h6v6h-6zM534 636h6v6h-6zM942 660h42v6h-42zM204 666h6v6h-6zM918 666h30v6h-30zM318 672h6v6h-6zM906 672h24v6h-24zM642 678h6v6h-6zM894 678h24v6h-24zM888 684h18v6h-18zM876 690h24v6h-24zM870 696h24v6h-24zM690 702h6v6h-6zM864 702h24v6h-24zM858 708h24v6h-24zM846 714h30v6h-30zM696 720h6v6h-6zM840 720h30v6h-30zM834 726h30v6h-30zM828 732h30v6h-30zM828 738h24v6h-24zM822 744h30v6h-30zM822 750h24v6h-24zM816 756h24v6h-24z"/><path fill="#9eff61" d="M642 78h6v6h-6zM462 84h6v6h-6zM642 84h12v6h-12zM762 84h6v6h-6zM462 90h6v6h-6zM642 90h12v6h-12zM462 96h6v6h-6zM642 96h12v6h-12zM462 102h6v6h-6zM642 102h12v6h-12zM462 108h6v6h-6zM642 108h12v6h-12zM468 114h6v6h-6zM642 114h12v6h-12zM468 120h6v6h-6zM642 120h18v6h-18zM468 126h6v6h-6zM642 126h18v6h-18zM762 126h6v6h-6zM642 132h18v6h-18zM738 132h6v6h-6zM474 138h6v6h-6zM642 138h18v6h-18zM474 144h6v6h-6zM642 144h12v6h-12zM480 150h6v6h-6zM636 150h18v6h-18zM480 156h6v6h-6zM636 156h18v6h-18zM726 156h6v6h-6zM486 162h6v6h-6zM630 162h18v6h-18zM486 168h6v6h-6zM630 168h18v6h-18zM492 174h6v6h-6zM624 174h18v6h-18zM492 180h6v6h-6zM618 180h18v6h-18zM492 186h6v6h-6zM618 186h18v6h-18zM624 192h6v6h-6zM624 198h12v6h-12zM348 216h6v6h-6zM420 216h6v6h-6zM486 216h6v6h-6zM678 216h6v6h-6zM480 222h6v6h-6zM324 228h6v6h-6zM696 240h6v6h-6zM750 240h6v6h-6zM294 246h6v6h-6zM696 264h6v6h-6zM762 270h6v6h-6zM258 276h6v6h-6zM354 300h12v6h-12zM252 306h6v6h-6zM408 330h6v6h-6zM252 348h6v6h-6zM246 360h6v6h-6zM756 360h12v6h-12zM330 366h6v6h-6zM414 372h6v6h-6zM240 378h6v6h-6zM390 390h6v6h-6zM360 396h12v6h-12zM678 444h6v6h-6zM708 450h6v6h-6zM696 456h6v6h-6zM816 456h6v6h-6zM918 492h6v6h-6zM966 498h6v6h-6zM870 510h6v6h-6zM564 516h6v6h-6zM888 534h6v6h-6zM906 534h6v6h-6zM432 576h6v6h-6zM870 594h6v6h-6zM534 624h6v6h-6zM288 678h6v6h-6zM600 678h6v6h-6zM612 678h6v6h-6zM348 684h6v6h-6zM666 690h6v6h-6zM384 720h6v6h-6zM978 726h6v6h-6zM972 732h12v6h-12zM966 738h18v6h-18zM960 744h24v6h-24zM960 750h24v6h-24zM954 756h30v6h-30z"/><path fill="#96ff69" d="M672 78h12v6h-12zM672 84h12v6h-12zM450 90h6v6h-6zM672 90h12v6h-12zM450 96h6v6h-6zM678 96h12v6h-12zM450 102h6v6h-6zM678 102h12v6h-12zM450 108h6v6h-6zM678 108h12v6h-12zM756 108h6v6h-6zM450 114h6v6h-6zM678 114h12v6h-12zM750 114h6v6h-6zM678 120h18v6h-18zM744 120h6v6h-6zM456 126h6v6h-6zM684 126h12v6h-12zM456 132h6v6h-6zM684 132h12v6h-12zM456 138h6v6h-6zM684 138h12v6h-12zM462 144h6v6h-6zM684 144h12v6h-12zM726 144h6v6h-6zM462 150h6v6h-6zM678 150h18v6h-18zM678 156h12v6h-12zM468 162h6v6h-6zM678 162h12v6h-12zM672 168h12v6h-12zM474 174h6v6h-6zM666 174h12v6h-12zM666 180h6v6h-6zM480 186h6v6h-6zM660 186h12v6h-12zM660 192h6v6h-6zM486 198h6v6h-6zM486 204h6v6h-6zM672 204h6v6h-6zM366 210h6v6h-6zM132 216h78v6h-78zM132 222h84v6h-84zM330 222h6v6h-6zM684 222h6v6h-6zM132 228h84v6h-84zM462 228h6v6h-6zM150 234h54v6h-54zM300 240h6v6h-6zM288 246h6v6h-6zM312 246h12v6h-12zM270 258h6v6h-6zM264 264h6v6h-6zM258 270h6v6h-6zM252 282h6v6h-6zM702 288h6v6h-6zM732 336h6v6h-6zM330 342h6v6h-6zM414 348h6v6h-6zM414 366h6v6h-6zM240 372h6v6h-6zM336 378h6v6h-6zM750 432h6v6h-6zM780 438h6v6h-6zM672 468h6v6h-6zM852 468h6v6h-6zM912 492h6v6h-6zM978 498h6v6h-6zM264 522h6v6h-6zM558 522h6v6h-6zM978 528h6v6h-6zM552 534h6v6h-6zM276 558h6v6h-6zM438 570h6v6h-6zM546 570h6v6h-6zM858 594h6v6h-6zM180 648h6v6h-6zM198 660h6v6h-6zM264 684h6v6h-6zM684 702h6v6h-6zM696 750h6v6h-6z"/><path fill="#91ff6e" d="M696 78h18v6h-18zM756 78h6v6h-6zM696 84h18v6h-18zM756 84h6v6h-6zM696 90h18v6h-18zM702 96h18v6h-18zM444 102h6v6h-6zM702 102h18v6h-18zM444 108h6v6h-6zM702 108h18v6h-18zM444 114h6v6h-6zM708 114h18v6h-18zM744 114h6v6h-6zM444 120h6v6h-6zM708 120h18v6h-18zM738 120h6v6h-6zM708 126h30v6h-30zM708 132h24v6h-24zM768 132h6v6h-6zM450 138h6v6h-6zM708 138h24v6h-24zM768 138h6v6h-6zM450 144h6v6h-6zM708 144h18v6h-18zM708 150h18v6h-18zM456 156h6v6h-6zM708 156h12v6h-12zM456 162h6v6h-6zM702 162h18v6h-18zM462 168h6v6h-6zM696 168h18v6h-18zM132 174h78v6h-78zM462 174h6v6h-6zM690 174h12v6h-12zM132 180h90v6h-90zM468 180h6v6h-6zM684 180h12v6h-12zM720 180h6v6h-6zM132 186h102v6h-102zM678 186h12v6h-12zM132 192h30v6h-30zM198 192h48v6h-48zM474 192h6v6h-6zM672 192h12v6h-12zM222 198h30v6h-30zM480 198h6v6h-6zM672 198h6v6h-6zM234 204h24v6h-24zM480 204h6v6h-6zM240 210h24v6h-24zM360 210h6v6h-6zM372 210h6v6h-6zM678 210h6v6h-6zM732 210h6v6h-6zM246 216h24v6h-24zM480 216h6v6h-6zM252 222h24v6h-24zM258 228h24v6h-24zM318 228h6v6h-6zM456 228h6v6h-6zM690 228h6v6h-6zM258 234h24v6h-24zM744 234h6v6h-6zM258 240h42v6h-42zM132 246h6v6h-6zM252 246h36v6h-36zM132 252h36v6h-36zM240 252h36v6h-36zM150 258h120v6h-120zM756 258h6v6h-6zM180 264h84v6h-84zM252 270h6v6h-6zM252 276h6v6h-6zM762 276h6v6h-6zM246 294h6v6h-6zM714 306h6v6h-6zM252 324h6v6h-6zM330 324h6v6h-6zM330 336h6v6h-6zM246 354h6v6h-6zM414 354h6v6h-6zM414 360h6v6h-6zM396 384h6v6h-6zM234 402h6v6h-6zM702 450h6v6h-6zM654 462h6v6h-6zM756 468h6v6h-6zM876 480h6v6h-6zM942 504h6v6h-6zM876 510h6v6h-6zM456 546h6v6h-6zM546 558h6v6h-6zM426 582h6v6h-6zM318 588h6v6h-6zM540 594h6v6h-6zM300 672h6v6h-6zM648 684h6v6h-6zM396 732h6v6h-6z"/><path fill="#baff45" d="M768 78h6v6h-6zM972 114h12v6h-12zM768 120h6v6h-6zM954 120h30v6h-30zM930 126h42v6h-42zM900 132h48v6h-48zM882 138h36v6h-36zM738 144h6v6h-6zM750 144h6v6h-6zM864 144h24v6h-24zM768 150h6v6h-6zM852 150h18v6h-18zM846 156h12v6h-12zM840 162h12v6h-12zM834 168h12v6h-12zM834 174h6v6h-6zM828 180h12v6h-12zM828 186h6v6h-6zM600 192h6v6h-6zM828 192h6v6h-6zM828 198h6v6h-6zM738 204h6v6h-6zM828 204h6v6h-6zM834 210h6v6h-6zM834 216h6v6h-6zM438 222h6v6h-6zM840 222h6v6h-6zM840 228h6v6h-6zM456 234h6v6h-6zM846 234h6v6h-6zM324 240h6v6h-6zM846 240h6v6h-6zM852 246h6v6h-6zM858 252h6v6h-6zM762 258h6v6h-6zM864 258h6v6h-6zM864 264h6v6h-6zM870 270h6v6h-6zM768 276h6v6h-6zM876 276h6v6h-6zM882 282h6v6h-6zM354 288h6v6h-6zM384 288h12v6h-12zM888 288h12v6h-12zM396 294h6v6h-6zM894 294h12v6h-12zM906 300h12v6h-12zM708 306h6v6h-6zM912 306h24v6h-24zM414 312h6v6h-6zM930 312h54v6h-54zM318 318h6v6h-6zM312 330h6v6h-6zM312 336h6v6h-6zM426 336h6v6h-6zM732 342h6v6h-6zM252 360h6v6h-6zM312 366h6v6h-6zM312 372h6v6h-6zM426 372h6v6h-6zM318 384h6v6h-6zM420 384h6v6h-6zM324 390h6v6h-6zM330 396h6v6h-6zM402 402h6v6h-6zM240 408h6v6h-6zM354 408h6v6h-6zM384 408h12v6h-12zM726 432h6v6h-6zM738 432h6v6h-6zM774 432h6v6h-6zM864 468h6v6h-6zM894 480h6v6h-6zM816 486h6v6h-6zM918 486h6v6h-6zM960 492h6v6h-6zM252 504h6v6h-6zM456 516h6v6h-6zM558 534h6v6h-6zM876 540h12v6h-12zM276 546h6v6h-6zM438 564h6v6h-6zM552 564h6v6h-6zM906 588h6v6h-6zM336 594h6v6h-6zM900 606h12v6h-12zM936 624h48v6h-48zM900 630h42v6h-42zM882 636h18v6h-18zM870 642h12v6h-12zM864 648h6v6h-6zM852 654h12v6h-12zM846 660h6v6h-6zM834 666h12v6h-12zM210 672h6v6h-6zM558 672h6v6h-6zM630 672h12v6h-12zM828 672h6v6h-6zM528 678h12v6h-12zM816 678h12v6h-12zM804 684h12v6h-12zM792 690h12v6h-12zM780 696h18v6h-18zM696 702h6v6h-6zM768 702h18v6h-18zM756 708h18v6h-18zM702 714h6v6h-6zM750 714h18v6h-18zM378 720h6v6h-6zM744 720h18v6h-18zM738 726h18v6h-18zM702 732h6v6h-6zM738 732h18v6h-18zM732 738h18v6h-18zM732 744h18v6h-18zM708 750h6v6h-6zM726 750h18v6h-18zM708 756h6v6h-6zM726 756h18v6h-18z"/><path fill="#ccff33" d="M774 78h6v6h-6zM834 78h24v6h-24zM828 84h24v6h-24zM828 90h18v6h-18zM822 96h18v6h-18zM816 102h18v6h-18zM816 108h12v6h-12zM810 114h12v6h-12zM780 120h6v6h-6zM804 120h12v6h-12zM786 126h6v6h-6zM804 126h12v6h-12zM786 132h24v6h-24zM792 138h12v6h-12zM792 144h6v6h-6zM744 150h6v6h-6zM786 150h12v6h-12zM738 156h6v6h-6zM756 156h6v6h-6zM780 156h12v6h-12zM774 162h18v6h-18zM780 168h6v6h-6zM774 174h12v6h-12zM774 180h12v6h-12zM738 186h6v6h-6zM774 186h12v6h-12zM504 192h6v6h-6zM780 192h6v6h-6zM606 198h6v6h-6zM780 198h6v6h-6zM612 204h6v6h-6zM780 204h12v6h-12zM744 210h6v6h-6zM786 210h6v6h-6zM792 216h6v6h-6zM798 222h6v6h-6zM342 228h6v6h-6zM408 228h6v6h-6zM798 228h12v6h-12zM372 234h6v6h-6zM804 234h6v6h-6zM378 240h18v6h-18zM810 240h6v6h-6zM378 246h6v6h-6zM816 246h6v6h-6zM312 252h12v6h-12zM366 252h24v6h-24zM822 252h6v6h-6zM360 258h36v6h-36zM822 258h6v6h-6zM354 264h12v6h-12zM390 264h6v6h-6zM690 264h6v6h-6zM828 264h6v6h-6zM276 270h6v6h-6zM348 270h6v6h-6zM396 270h6v6h-6zM834 270h6v6h-6zM270 276h6v6h-6zM342 276h6v6h-6zM402 276h6v6h-6zM840 276h6v6h-6zM408 282h6v6h-6zM840 282h6v6h-6zM324 288h6v6h-6zM846 288h6v6h-6zM318 294h6v6h-6zM852 294h6v6h-6zM312 300h6v6h-6zM420 300h6v6h-6zM780 300h6v6h-6zM852 300h6v6h-6zM306 306h6v6h-6zM858 306h6v6h-6zM858 312h12v6h-12zM264 318h6v6h-6zM300 318h6v6h-6zM864 318h6v6h-6zM294 324h6v6h-6zM870 324h6v6h-6zM870 330h6v6h-6zM288 336h6v6h-6zM438 336h6v6h-6zM876 336h6v6h-6zM288 342h6v6h-6zM876 342h12v6h-12zM264 348h6v6h-6zM282 348h6v6h-6zM882 348h6v6h-6zM282 354h6v6h-6zM882 354h12v6h-12zM258 360h6v6h-6zM282 360h6v6h-6zM882 360h12v6h-12zM282 366h6v6h-6zM888 366h12v6h-12zM252 372h6v6h-6zM288 372h6v6h-6zM888 372h12v6h-12zM288 378h6v6h-6zM438 378h6v6h-6zM888 378h12v6h-12zM288 384h6v6h-6zM894 384h12v6h-12zM246 390h6v6h-6zM294 390h6v6h-6zM894 390h12v6h-12zM300 396h6v6h-6zM894 396h12v6h-12zM306 402h6v6h-6zM426 402h6v6h-6zM894 402h12v6h-12zM312 408h6v6h-6zM420 408h6v6h-6zM900 408h12v6h-12zM318 414h12v6h-12zM414 414h6v6h-6zM900 414h12v6h-12zM336 420h6v6h-6zM402 420h6v6h-6zM900 420h12v6h-12zM354 426h36v6h-36zM756 426h6v6h-6zM900 426h12v6h-12zM900 432h12v6h-12zM240 438h6v6h-6zM900 438h12v6h-12zM666 444h6v6h-6zM900 444h12v6h-12zM894 450h18v6h-18zM894 456h12v6h-12zM696 462h6v6h-6zM894 462h12v6h-12zM876 468h30v6h-30zM246 474h6v6h-6zM252 492h6v6h-6zM504 492h6v6h-6zM570 492h6v6h-6zM276 534h6v6h-6zM450 540h6v6h-6zM864 540h6v6h-6zM876 546h12v6h-12zM282 552h6v6h-6zM444 552h6v6h-6zM888 552h12v6h-12zM888 558h12v6h-12zM888 564h12v6h-12zM882 570h18v6h-18zM864 576h12v6h-12zM354 588h6v6h-6zM552 588h6v6h-6zM846 600h6v6h-6zM852 612h6v6h-6zM840 618h12v6h-12zM834 624h6v6h-6zM822 630h12v6h-12zM546 636h6v6h-6zM810 636h12v6h-12zM546 642h18v6h-18zM594 642h18v6h-18zM798 642h12v6h-12zM156 648h6v6h-6zM618 648h12v6h-12zM774 648h24v6h-24zM174 654h6v6h-6zM636 654h6v6h-6zM750 654h24v6h-24zM648 660h6v6h-6zM732 660h18v6h-18zM192 666h6v6h-6zM660 666h6v6h-6zM720 666h18v6h-18zM672 672h12v6h-12zM702 672h18v6h-18zM306 678h6v6h-6zM324 678h6v6h-6zM684 678h24v6h-24zM228 684h6v6h-6zM366 714h6v6h-6z"/><path fill="#d1ff2e" d="M780 78h6v6h-6zM792 78h24v6h-24zM780 84h6v6h-6zM792 84h18v6h-18zM780 90h6v6h-6zM792 90h18v6h-18zM780 96h24v6h-24zM780 102h24v6h-24zM780 108h18v6h-18zM786 114h12v6h-12zM744 156h6v6h-6zM750 162h12v6h-12zM738 168h6v6h-6zM756 168h12v6h-12zM738 174h6v6h-6zM756 174h12v6h-12zM756 180h12v6h-12zM756 186h12v6h-12zM564 192h6v6h-6zM756 192h12v6h-12zM744 198h6v6h-6zM762 198h6v6h-6zM648 204h6v6h-6zM762 204h12v6h-12zM768 210h12v6h-12zM774 216h6v6h-6zM780 222h6v6h-6zM786 228h6v6h-6zM336 234h6v6h-6zM354 234h12v6h-12zM468 234h6v6h-6zM792 234h6v6h-6zM354 240h6v6h-6zM798 240h6v6h-6zM354 246h6v6h-6zM396 246h6v6h-6zM804 246h6v6h-6zM348 252h12v6h-12zM396 252h6v6h-6zM810 252h6v6h-6zM348 258h6v6h-6zM690 258h6v6h-6zM810 258h6v6h-6zM342 264h6v6h-6zM402 264h6v6h-6zM816 264h6v6h-6zM336 270h6v6h-6zM690 270h6v6h-6zM822 270h6v6h-6zM330 276h6v6h-6zM408 276h6v6h-6zM828 276h6v6h-6zM324 282h6v6h-6zM828 282h6v6h-6zM264 288h6v6h-6zM318 288h6v6h-6zM834 288h6v6h-6zM312 294h6v6h-6zM420 294h6v6h-6zM834 294h12v6h-12zM306 300h6v6h-6zM840 300h6v6h-6zM300 306h6v6h-6zM846 306h6v6h-6zM294 312h6v6h-6zM432 312h6v6h-6zM846 312h6v6h-6zM288 318h6v6h-6zM852 318h6v6h-6zM282 324h6v6h-6zM438 324h6v6h-6zM852 324h6v6h-6zM270 330h6v6h-6zM282 330h6v6h-6zM858 330h6v6h-6zM270 336h12v6h-12zM858 336h6v6h-6zM270 342h12v6h-12zM444 342h6v6h-6zM858 342h12v6h-12zM270 348h6v6h-6zM444 348h6v6h-6zM780 348h6v6h-6zM864 348h6v6h-6zM264 354h12v6h-12zM864 354h12v6h-12zM264 360h12v6h-12zM864 360h12v6h-12zM258 366h18v6h-18zM444 366h6v6h-6zM768 366h6v6h-6zM870 366h6v6h-6zM270 372h6v6h-6zM444 372h6v6h-6zM870 372h12v6h-12zM252 378h6v6h-6zM270 378h12v6h-12zM444 378h6v6h-6zM870 378h12v6h-12zM270 384h12v6h-12zM876 384h6v6h-6zM276 390h12v6h-12zM438 390h6v6h-6zM876 390h6v6h-6zM282 396h12v6h-12zM876 396h12v6h-12zM288 402h6v6h-6zM432 402h6v6h-6zM876 402h12v6h-12zM246 408h6v6h-6zM294 408h12v6h-12zM426 408h6v6h-6zM876 408h12v6h-12zM246 414h6v6h-6zM300 414h12v6h-12zM420 414h6v6h-6zM876 414h12v6h-12zM312 420h12v6h-12zM414 420h6v6h-6zM876 420h12v6h-12zM324 426h18v6h-18zM402 426h6v6h-6zM750 426h6v6h-6zM762 426h6v6h-6zM876 426h12v6h-12zM354 432h30v6h-30zM876 432h12v6h-12zM798 438h6v6h-6zM876 438h12v6h-12zM876 444h12v6h-12zM822 450h6v6h-6zM876 450h12v6h-12zM876 456h12v6h-12zM870 462h12v6h-12zM246 468h6v6h-6zM672 474h6v6h-6zM252 486h6v6h-6zM792 486h6v6h-6zM258 498h6v6h-6zM264 510h6v6h-6zM576 510h6v6h-6zM270 516h6v6h-6zM846 516h6v6h-6zM276 528h6v6h-6zM450 534h6v6h-6zM282 546h6v6h-6zM864 546h6v6h-6zM870 552h6v6h-6zM288 558h6v6h-6zM438 558h6v6h-6zM870 558h12v6h-12zM870 564h6v6h-6zM864 570h12v6h-12zM390 582h6v6h-6zM846 582h6v6h-6zM348 588h6v6h-6zM552 594h6v6h-6zM840 594h6v6h-6zM840 600h6v6h-6zM840 606h6v6h-6zM828 612h12v6h-12zM816 618h12v6h-12zM552 624h6v6h-6zM810 624h12v6h-12zM552 630h42v6h-42zM792 630h18v6h-18zM600 636h18v6h-18zM768 636h24v6h-24zM624 642h6v6h-6zM750 642h24v6h-24zM636 648h12v6h-12zM732 648h18v6h-18zM168 654h6v6h-6zM648 654h12v6h-12zM720 654h12v6h-12zM180 660h6v6h-6zM666 660h12v6h-12zM702 660h18v6h-18zM678 666h24v6h-24zM198 672h6v6h-6zM312 678h12v6h-12zM222 684h6v6h-6zM336 684h6v6h-6zM234 690h6v6h-6zM366 732h6v6h-6zM366 738h6v6h-6zM366 744h6v6h-6zM366 750h6v6h-6zM366 756h6v6h-6z"/><path fill="#d4ff2b" d="M786 78h6v6h-6zM786 84h6v6h-6zM786 90h6v6h-6zM744 162h6v6h-6zM744 168h12v6h-12zM744 174h12v6h-12zM744 180h12v6h-12zM744 186h12v6h-12zM546 192h6v6h-6zM570 192h18v6h-18zM744 192h12v6h-12zM750 198h12v6h-12zM750 204h12v6h-12zM636 210h6v6h-6zM750 210h18v6h-18zM750 216h6v6h-6zM762 216h12v6h-12zM768 222h12v6h-12zM756 228h6v6h-6zM774 228h12v6h-12zM342 234h12v6h-12zM786 234h6v6h-6zM330 240h6v6h-6zM342 240h12v6h-12zM402 240h6v6h-6zM762 240h6v6h-6zM792 240h6v6h-6zM342 246h12v6h-12zM402 246h6v6h-6zM690 246h6v6h-6zM792 246h12v6h-12zM342 252h6v6h-6zM402 252h6v6h-6zM798 252h12v6h-12zM336 258h12v6h-12zM402 258h6v6h-6zM768 258h6v6h-6zM804 258h6v6h-6zM336 264h6v6h-6zM810 264h6v6h-6zM330 270h6v6h-6zM408 270h6v6h-6zM816 270h6v6h-6zM324 276h6v6h-6zM816 276h12v6h-12zM318 282h6v6h-6zM414 282h6v6h-6zM822 282h6v6h-6zM312 288h6v6h-6zM420 288h6v6h-6zM828 288h6v6h-6zM306 294h6v6h-6zM696 294h6v6h-6zM780 294h6v6h-6zM828 294h6v6h-6zM300 300h6v6h-6zM426 300h6v6h-6zM834 300h6v6h-6zM264 306h6v6h-6zM294 306h6v6h-6zM834 306h12v6h-12zM288 312h6v6h-6zM708 312h6v6h-6zM840 312h6v6h-6zM282 318h6v6h-6zM438 318h6v6h-6zM840 318h12v6h-12zM270 324h12v6h-12zM714 324h6v6h-6zM846 324h6v6h-6zM276 330h6v6h-6zM846 330h12v6h-12zM444 336h6v6h-6zM852 336h6v6h-6zM852 342h6v6h-6zM852 348h12v6h-12zM858 354h6v6h-6zM858 360h6v6h-6zM750 366h6v6h-6zM858 366h12v6h-12zM258 372h12v6h-12zM864 372h6v6h-6zM258 378h12v6h-12zM864 378h6v6h-6zM252 384h18v6h-18zM444 384h6v6h-6zM864 384h12v6h-12zM252 390h24v6h-24zM864 390h12v6h-12zM252 396h6v6h-6zM264 396h18v6h-18zM438 396h6v6h-6zM864 396h12v6h-12zM270 402h18v6h-18zM870 402h6v6h-6zM276 408h18v6h-18zM432 408h6v6h-6zM870 408h6v6h-6zM282 414h18v6h-18zM426 414h6v6h-6zM870 414h6v6h-6zM246 420h6v6h-6zM294 420h18v6h-18zM420 420h6v6h-6zM870 420h6v6h-6zM246 426h6v6h-6zM306 426h18v6h-18zM408 426h6v6h-6zM870 426h6v6h-6zM246 432h6v6h-6zM324 432h30v6h-30zM384 432h18v6h-18zM786 432h6v6h-6zM870 432h6v6h-6zM870 438h6v6h-6zM870 444h6v6h-6zM828 450h6v6h-6zM870 450h6v6h-6zM246 456h6v6h-6zM708 456h12v6h-12zM852 456h24v6h-24zM246 462h6v6h-6zM252 468h6v6h-6zM252 474h6v6h-6zM252 480h12v6h-12zM258 486h12v6h-12zM492 486h6v6h-6zM258 492h18v6h-18zM264 498h12v6h-12zM828 498h6v6h-6zM264 504h12v6h-12zM270 510h12v6h-12zM276 516h6v6h-6zM276 522h6v6h-6zM450 522h6v6h-6zM570 522h6v6h-6zM858 522h6v6h-6zM450 528h6v6h-6zM858 528h6v6h-6zM282 534h6v6h-6zM858 534h6v6h-6zM282 540h6v6h-6zM858 540h6v6h-6zM558 546h6v6h-6zM858 546h6v6h-6zM864 552h6v6h-6zM858 558h12v6h-12zM294 564h6v6h-6zM858 564h12v6h-12zM306 570h6v6h-6zM858 570h6v6h-6zM318 576h6v6h-6zM852 576h6v6h-6zM840 588h6v6h-6zM552 600h6v6h-6zM834 600h6v6h-6zM828 606h12v6h-12zM816 612h12v6h-12zM552 618h6v6h-6zM804 618h12v6h-12zM558 624h30v6h-30zM792 624h18v6h-18zM594 630h12v6h-12zM768 630h24v6h-24zM618 636h6v6h-6zM744 636h24v6h-24zM630 642h12v6h-12zM732 642h18v6h-18zM150 648h6v6h-6zM648 648h6v6h-6zM714 648h18v6h-18zM660 654h12v6h-12zM702 654h18v6h-18zM678 660h24v6h-24zM186 666h6v6h-6zM192 672h6v6h-6zM204 678h6v6h-6zM216 684h6v6h-6zM228 690h6v6h-6zM282 690h6v6h-6zM342 690h6v6h-6zM240 696h30v6h-30zM348 696h6v6h-6zM354 702h6v6h-6zM360 714h6v6h-6zM360 720h6v6h-6zM360 726h6v6h-6z"/><path fill="#cfff30" d="M816 78h18v6h-18zM810 84h18v6h-18zM810 90h18v6h-18zM804 96h18v6h-18zM804 102h12v6h-12zM798 108h18v6h-18zM780 114h6v6h-6zM798 114h12v6h-12zM786 120h18v6h-18zM792 126h12v6h-12zM750 156h6v6h-6zM738 162h6v6h-6zM762 162h12v6h-12zM768 168h12v6h-12zM768 174h6v6h-6zM738 180h6v6h-6zM768 180h6v6h-6zM768 186h6v6h-6zM552 192h12v6h-12zM588 192h6v6h-6zM768 192h12v6h-12zM768 198h12v6h-12zM654 204h6v6h-6zM744 204h6v6h-6zM774 204h6v6h-6zM780 210h6v6h-6zM780 216h12v6h-12zM426 222h12v6h-12zM750 222h6v6h-6zM786 222h12v6h-12zM348 228h24v6h-24zM678 228h6v6h-6zM792 228h6v6h-6zM366 234h6v6h-6zM402 234h6v6h-6zM756 234h6v6h-6zM798 234h6v6h-6zM360 240h18v6h-18zM396 240h6v6h-6zM804 240h6v6h-6zM360 246h18v6h-18zM384 246h12v6h-12zM762 246h6v6h-6zM810 246h6v6h-6zM306 252h6v6h-6zM360 252h6v6h-6zM390 252h6v6h-6zM816 252h6v6h-6zM294 258h6v6h-6zM354 258h6v6h-6zM396 258h6v6h-6zM816 258h6v6h-6zM348 264h6v6h-6zM396 264h6v6h-6zM768 264h6v6h-6zM822 264h6v6h-6zM342 270h6v6h-6zM402 270h6v6h-6zM828 270h6v6h-6zM336 276h6v6h-6zM834 276h6v6h-6zM330 282h6v6h-6zM774 282h6v6h-6zM834 282h6v6h-6zM414 288h6v6h-6zM840 288h6v6h-6zM846 294h6v6h-6zM846 300h6v6h-6zM426 306h6v6h-6zM852 306h6v6h-6zM264 312h6v6h-6zM300 312h6v6h-6zM852 312h6v6h-6zM294 318h6v6h-6zM432 318h6v6h-6zM858 318h6v6h-6zM288 324h6v6h-6zM858 324h12v6h-12zM288 330h6v6h-6zM438 330h6v6h-6zM864 330h6v6h-6zM282 336h6v6h-6zM864 336h12v6h-12zM282 342h6v6h-6zM870 342h6v6h-6zM276 348h6v6h-6zM870 348h12v6h-12zM276 354h6v6h-6zM444 354h6v6h-6zM876 354h6v6h-6zM276 360h6v6h-6zM444 360h6v6h-6zM774 360h6v6h-6zM876 360h6v6h-6zM276 366h6v6h-6zM876 366h12v6h-12zM276 372h12v6h-12zM882 372h6v6h-6zM282 378h6v6h-6zM882 378h6v6h-6zM282 384h6v6h-6zM438 384h6v6h-6zM882 384h12v6h-12zM288 390h6v6h-6zM882 390h12v6h-12zM246 396h6v6h-6zM294 396h6v6h-6zM432 396h6v6h-6zM888 396h6v6h-6zM246 402h6v6h-6zM294 402h12v6h-12zM888 402h6v6h-6zM306 408h6v6h-6zM888 408h12v6h-12zM312 414h6v6h-6zM888 414h12v6h-12zM324 420h12v6h-12zM408 420h6v6h-6zM888 420h12v6h-12zM342 426h12v6h-12zM390 426h12v6h-12zM888 426h12v6h-12zM708 432h6v6h-6zM888 432h12v6h-12zM684 438h6v6h-6zM888 438h12v6h-12zM240 444h6v6h-6zM888 444h12v6h-12zM240 450h6v6h-6zM888 450h6v6h-6zM240 456h6v6h-6zM846 456h6v6h-6zM888 456h6v6h-6zM864 462h6v6h-6zM882 462h12v6h-12zM738 474h6v6h-6zM474 486h6v6h-6zM576 498h6v6h-6zM258 504h6v6h-6zM864 522h6v6h-6zM870 546h6v6h-6zM876 552h12v6h-12zM882 558h6v6h-6zM876 564h12v6h-12zM300 570h6v6h-6zM876 570h6v6h-6zM858 576h6v6h-6zM324 582h6v6h-6zM330 588h6v6h-6zM846 606h6v6h-6zM840 612h12v6h-12zM546 618h6v6h-6zM828 618h12v6h-12zM546 624h6v6h-6zM822 624h12v6h-12zM546 630h6v6h-6zM810 630h12v6h-12zM552 636h48v6h-48zM792 636h18v6h-18zM132 642h6v6h-6zM612 642h12v6h-12zM774 642h24v6h-24zM630 648h6v6h-6zM750 648h24v6h-24zM642 654h6v6h-6zM732 654h18v6h-18zM654 660h12v6h-12zM720 660h12v6h-12zM666 666h12v6h-12zM702 666h18v6h-18zM684 672h18v6h-18zM210 678h6v6h-6zM294 684h6v6h-6zM240 690h6v6h-6zM276 690h6v6h-6zM360 708h6v6h-6zM366 720h6v6h-6zM366 726h6v6h-6z"/><path fill="#c9ff36" d="M858 78h24v6h-24zM774 84h6v6h-6zM852 84h24v6h-24zM774 90h6v6h-6zM846 90h18v6h-18zM840 96h18v6h-18zM834 102h18v6h-18zM828 108h18v6h-18zM774 114h6v6h-6zM822 114h18v6h-18zM816 120h12v6h-12zM816 126h12v6h-12zM810 132h12v6h-12zM786 138h6v6h-6zM804 138h12v6h-12zM786 144h6v6h-6zM798 144h12v6h-12zM780 150h6v6h-6zM798 150h6v6h-6zM762 156h18v6h-18zM792 156h12v6h-12zM792 162h6v6h-6zM786 168h12v6h-12zM786 174h6v6h-6zM786 180h6v6h-6zM786 186h6v6h-6zM738 192h6v6h-6zM786 192h6v6h-6zM498 198h6v6h-6zM786 198h12v6h-12zM792 204h6v6h-6zM792 210h12v6h-12zM798 216h6v6h-6zM360 222h12v6h-12zM804 222h6v6h-6zM372 228h6v6h-6zM492 228h6v6h-6zM810 228h6v6h-6zM378 234h6v6h-6zM684 234h6v6h-6zM810 234h6v6h-6zM816 240h6v6h-6zM822 246h6v6h-6zM828 252h6v6h-6zM828 258h6v6h-6zM282 264h6v6h-6zM366 264h24v6h-24zM834 264h6v6h-6zM354 270h6v6h-6zM390 270h6v6h-6zM840 270h6v6h-6zM348 276h6v6h-6zM336 282h6v6h-6zM846 282h6v6h-6zM330 288h6v6h-6zM408 288h6v6h-6zM852 288h6v6h-6zM324 294h6v6h-6zM414 294h6v6h-6zM858 294h6v6h-6zM318 300h6v6h-6zM858 300h6v6h-6zM312 306h6v6h-6zM864 306h6v6h-6zM306 312h6v6h-6zM426 312h6v6h-6zM870 312h6v6h-6zM870 318h6v6h-6zM264 324h6v6h-6zM300 324h6v6h-6zM432 324h6v6h-6zM876 324h6v6h-6zM294 330h6v6h-6zM876 330h12v6h-12zM294 336h6v6h-6zM882 336h12v6h-12zM264 342h6v6h-6zM438 342h6v6h-6zM780 342h6v6h-6zM888 342h6v6h-6zM288 348h6v6h-6zM438 348h6v6h-6zM888 348h12v6h-12zM288 354h6v6h-6zM894 354h12v6h-12zM288 360h6v6h-6zM894 360h12v6h-12zM288 366h6v6h-6zM438 366h6v6h-6zM900 366h12v6h-12zM438 372h6v6h-6zM900 372h12v6h-12zM294 378h6v6h-6zM900 378h18v6h-18zM294 384h6v6h-6zM906 384h12v6h-12zM300 390h6v6h-6zM432 390h6v6h-6zM906 390h12v6h-12zM306 396h6v6h-6zM426 396h6v6h-6zM906 396h18v6h-18zM312 402h6v6h-6zM906 402h18v6h-18zM318 408h6v6h-6zM912 408h12v6h-12zM330 414h6v6h-6zM408 414h6v6h-6zM912 414h18v6h-18zM342 420h12v6h-12zM390 420h12v6h-12zM912 420h18v6h-18zM912 426h18v6h-18zM240 432h6v6h-6zM912 432h18v6h-18zM912 438h24v6h-24zM912 444h18v6h-18zM816 450h6v6h-6zM912 450h18v6h-18zM840 456h6v6h-6zM906 456h24v6h-24zM240 462h6v6h-6zM648 462h6v6h-6zM858 462h6v6h-6zM906 462h18v6h-18zM726 468h6v6h-6zM906 468h18v6h-18zM642 474h6v6h-6zM744 474h18v6h-18zM894 474h24v6h-24zM510 492h6v6h-6zM462 498h6v6h-6zM576 504h6v6h-6zM834 504h6v6h-6zM456 510h6v6h-6zM852 516h6v6h-6zM564 528h6v6h-6zM864 528h6v6h-6zM558 540h6v6h-6zM888 546h30v6h-30zM900 552h18v6h-18zM900 558h18v6h-18zM288 564h6v6h-6zM900 564h18v6h-18zM294 570h6v6h-6zM900 570h18v6h-18zM312 576h6v6h-6zM876 576h36v6h-36zM396 582h6v6h-6zM852 582h6v6h-6zM846 588h6v6h-6zM852 606h6v6h-6zM546 612h6v6h-6zM858 612h6v6h-6zM852 618h6v6h-6zM840 624h12v6h-12zM834 630h6v6h-6zM822 636h12v6h-12zM564 642h30v6h-30zM810 642h12v6h-12zM546 648h12v6h-12zM606 648h12v6h-12zM798 648h12v6h-12zM624 654h12v6h-12zM774 654h24v6h-24zM636 660h12v6h-12zM750 660h30v6h-30zM648 666h12v6h-12zM738 666h18v6h-18zM204 672h6v6h-6zM660 672h12v6h-12zM720 672h18v6h-18zM672 678h12v6h-12zM708 678h18v6h-18zM288 684h6v6h-6zM684 684h24v6h-24zM246 690h6v6h-6zM270 690h6v6h-6zM372 726h6v6h-6zM372 732h6v6h-6zM372 738h6v6h-6zM372 744h6v6h-6zM372 750h6v6h-6zM372 756h6v6h-6z"/><path fill="#c7ff38" d="M882 78h36v6h-36zM876 84h30v6h-30zM864 90h30v6h-30zM774 96h6v6h-6zM858 96h24v6h-24zM852 102h18v6h-18zM774 108h6v6h-6zM846 108h18v6h-18zM840 114h12v6h-12zM828 120h18v6h-18zM780 126h6v6h-6zM828 126h12v6h-12zM822 132h6v6h-6zM816 138h6v6h-6zM810 144h12v6h-12zM750 150h6v6h-6zM804 150h12v6h-12zM804 156h6v6h-6zM798 162h12v6h-12zM798 168h6v6h-6zM792 174h12v6h-12zM792 180h12v6h-12zM792 186h12v6h-12zM594 192h6v6h-6zM792 192h12v6h-12zM798 198h6v6h-6zM798 204h6v6h-6zM618 210h6v6h-6zM804 210h6v6h-6zM804 216h6v6h-6zM420 222h6v6h-6zM492 222h6v6h-6zM810 222h6v6h-6zM486 228h6v6h-6zM816 228h6v6h-6zM330 234h6v6h-6zM396 234h6v6h-6zM816 234h6v6h-6zM822 240h6v6h-6zM828 246h6v6h-6zM834 258h6v6h-6zM840 264h6v6h-6zM360 270h18v6h-18zM384 270h6v6h-6zM768 270h6v6h-6zM846 270h6v6h-6zM354 276h6v6h-6zM396 276h6v6h-6zM846 276h6v6h-6zM264 282h6v6h-6zM342 282h6v6h-6zM402 282h6v6h-6zM852 282h6v6h-6zM696 288h6v6h-6zM858 288h6v6h-6zM864 294h6v6h-6zM864 300h6v6h-6zM420 306h6v6h-6zM870 306h6v6h-6zM876 312h6v6h-6zM306 318h6v6h-6zM876 318h12v6h-12zM882 324h12v6h-12zM264 330h6v6h-6zM300 330h6v6h-6zM432 330h6v6h-6zM720 330h6v6h-6zM888 330h12v6h-12zM264 336h6v6h-6zM894 336h6v6h-6zM294 342h6v6h-6zM894 342h12v6h-12zM294 348h6v6h-6zM900 348h12v6h-12zM258 354h6v6h-6zM294 354h6v6h-6zM438 354h6v6h-6zM906 354h12v6h-12zM294 360h6v6h-6zM438 360h6v6h-6zM906 360h18v6h-18zM294 366h6v6h-6zM912 366h12v6h-12zM294 372h6v6h-6zM912 372h18v6h-18zM300 378h6v6h-6zM918 378h18v6h-18zM246 384h6v6h-6zM300 384h6v6h-6zM432 384h6v6h-6zM918 384h24v6h-24zM306 390h6v6h-6zM918 390h30v6h-30zM312 396h6v6h-6zM924 396h30v6h-30zM318 402h6v6h-6zM420 402h6v6h-6zM924 402h36v6h-36zM324 408h6v6h-6zM414 408h6v6h-6zM924 408h48v6h-48zM336 414h6v6h-6zM402 414h6v6h-6zM930 414h54v6h-54zM354 420h36v6h-36zM930 420h54v6h-54zM930 426h54v6h-54zM780 432h6v6h-6zM930 432h54v6h-54zM936 438h48v6h-48zM930 444h54v6h-54zM930 450h54v6h-54zM720 456h6v6h-6zM930 456h54v6h-54zM924 462h60v6h-60zM924 468h60v6h-60zM762 474h6v6h-6zM888 474h6v6h-6zM918 474h66v6h-66zM246 480h6v6h-6zM642 480h6v6h-6zM660 480h6v6h-6zM780 480h6v6h-6zM918 480h36v6h-36zM486 486h6v6h-6zM798 486h6v6h-6zM252 498h6v6h-6zM258 510h6v6h-6zM840 510h6v6h-6zM858 516h6v6h-6zM918 546h24v6h-24zM918 552h30v6h-30zM918 558h30v6h-30zM918 564h24v6h-24zM918 570h24v6h-24zM912 576h24v6h-24zM552 582h6v6h-6zM912 582h18v6h-18zM360 588h6v6h-6zM864 612h6v6h-6zM858 618h12v6h-12zM852 624h6v6h-6zM840 630h12v6h-12zM834 636h6v6h-6zM138 642h6v6h-6zM540 642h6v6h-6zM822 642h12v6h-12zM162 648h6v6h-6zM540 648h6v6h-6zM558 648h48v6h-48zM810 648h12v6h-12zM540 654h18v6h-18zM618 654h6v6h-6zM798 654h12v6h-12zM630 660h6v6h-6zM780 660h18v6h-18zM642 666h6v6h-6zM756 666h24v6h-24zM654 672h6v6h-6zM738 672h18v6h-18zM216 678h6v6h-6zM726 678h18v6h-18zM234 684h6v6h-6zM678 684h6v6h-6zM708 684h18v6h-18zM690 690h24v6h-24zM372 720h6v6h-6z"/><path fill="#c4ff3b" d="M918 78h36v6h-36zM906 84h36v6h-36zM894 90h36v6h-36zM882 96h30v6h-30zM774 102h6v6h-6zM870 102h30v6h-30zM864 108h18v6h-18zM852 114h18v6h-18zM774 120h6v6h-6zM846 120h12v6h-12zM840 126h12v6h-12zM828 132h12v6h-12zM822 138h12v6h-12zM780 144h6v6h-6zM822 144h6v6h-6zM738 150h6v6h-6zM816 150h6v6h-6zM810 156h12v6h-12zM810 162h6v6h-6zM804 168h6v6h-6zM804 174h6v6h-6zM804 180h6v6h-6zM804 186h6v6h-6zM804 192h6v6h-6zM738 198h6v6h-6zM804 198h6v6h-6zM642 204h6v6h-6zM804 204h6v6h-6zM810 210h6v6h-6zM492 216h6v6h-6zM810 216h6v6h-6zM354 222h6v6h-6zM816 222h6v6h-6zM480 228h6v6h-6zM750 228h6v6h-6zM384 234h6v6h-6zM822 234h6v6h-6zM690 240h6v6h-6zM828 240h6v6h-6zM324 246h6v6h-6zM834 246h6v6h-6zM300 252h6v6h-6zM762 252h6v6h-6zM834 252h6v6h-6zM840 258h6v6h-6zM846 264h6v6h-6zM378 270h6v6h-6zM852 270h6v6h-6zM360 276h6v6h-6zM390 276h6v6h-6zM852 276h6v6h-6zM348 282h6v6h-6zM396 282h6v6h-6zM858 282h6v6h-6zM336 288h6v6h-6zM402 288h6v6h-6zM774 288h6v6h-6zM864 288h6v6h-6zM330 294h6v6h-6zM408 294h6v6h-6zM870 294h6v6h-6zM324 300h6v6h-6zM414 300h6v6h-6zM702 300h6v6h-6zM870 300h6v6h-6zM318 306h6v6h-6zM780 306h6v6h-6zM876 306h6v6h-6zM312 312h6v6h-6zM882 312h6v6h-6zM426 318h6v6h-6zM888 318h6v6h-6zM306 324h6v6h-6zM894 324h6v6h-6zM900 330h12v6h-12zM300 336h6v6h-6zM432 336h6v6h-6zM900 336h18v6h-18zM906 342h18v6h-18zM738 348h6v6h-6zM912 348h24v6h-24zM918 354h24v6h-24zM924 360h30v6h-30zM252 366h6v6h-6zM756 366h12v6h-12zM924 366h48v6h-48zM300 372h6v6h-6zM930 372h54v6h-54zM432 378h6v6h-6zM936 378h48v6h-48zM306 384h6v6h-6zM942 384h42v6h-42zM426 390h6v6h-6zM948 390h36v6h-36zM954 396h30v6h-30zM324 402h6v6h-6zM960 402h24v6h-24zM330 408h6v6h-6zM408 408h6v6h-6zM972 408h12v6h-12zM342 414h12v6h-12zM396 414h6v6h-6zM240 426h6v6h-6zM714 432h6v6h-6zM804 444h6v6h-6zM870 468h6v6h-6zM906 480h12v6h-12zM954 480h30v6h-30zM480 486h6v6h-6zM936 486h30v6h-30zM864 516h6v6h-6zM270 522h6v6h-6zM864 534h6v6h-6zM276 540h6v6h-6zM942 546h42v6h-42zM948 552h36v6h-36zM948 558h36v6h-36zM942 564h42v6h-42zM432 570h6v6h-6zM942 570h42v6h-42zM936 576h48v6h-48zM402 582h12v6h-12zM900 582h12v6h-12zM930 582h48v6h-48zM366 588h6v6h-6zM918 588h48v6h-48zM846 594h6v6h-6zM924 594h24v6h-24zM546 606h6v6h-6zM858 606h6v6h-6zM870 612h6v6h-6zM870 618h12v6h-12zM858 624h12v6h-12zM852 630h6v6h-6zM540 636h6v6h-6zM840 636h12v6h-12zM834 642h6v6h-6zM822 648h12v6h-12zM558 654h60v6h-60zM810 654h12v6h-12zM186 660h6v6h-6zM540 660h18v6h-18zM624 660h6v6h-6zM798 660h12v6h-12zM636 666h6v6h-6zM780 666h18v6h-18zM756 672h24v6h-24zM666 678h6v6h-6zM744 678h18v6h-18zM726 684h18v6h-18zM252 690h18v6h-18zM348 690h6v6h-6zM684 690h6v6h-6zM714 690h18v6h-18zM354 696h6v6h-6zM702 696h24v6h-24zM360 702h6v6h-6zM378 732h6v6h-6zM378 738h6v6h-6zM378 744h6v6h-6zM378 750h6v6h-6zM378 756h6v6h-6z"/><path fill="#c2ff3d" d="M954 78h30v6h-30zM942 84h36v6h-36zM930 90h36v6h-36zM912 96h36v6h-36zM900 102h36v6h-36zM882 108h36v6h-36zM870 114h30v6h-30zM858 120h24v6h-24zM852 126h12v6h-12zM780 132h6v6h-6zM840 132h18v6h-18zM834 138h12v6h-12zM744 144h6v6h-6zM828 144h12v6h-12zM774 150h6v6h-6zM822 150h12v6h-12zM822 156h6v6h-6zM816 162h6v6h-6zM732 168h6v6h-6zM810 168h12v6h-12zM810 174h6v6h-6zM810 180h6v6h-6zM810 186h6v6h-6zM810 192h6v6h-6zM810 198h6v6h-6zM810 204h6v6h-6zM666 210h6v6h-6zM816 210h6v6h-6zM744 216h6v6h-6zM816 216h6v6h-6zM372 222h6v6h-6zM822 222h6v6h-6zM336 228h6v6h-6zM822 228h6v6h-6zM390 234h6v6h-6zM450 234h6v6h-6zM462 234h6v6h-6zM828 234h6v6h-6zM756 240h6v6h-6zM834 240h6v6h-6zM840 252h6v6h-6zM288 258h6v6h-6zM846 258h6v6h-6zM852 264h6v6h-6zM366 276h24v6h-24zM858 276h6v6h-6zM354 282h6v6h-6zM864 282h6v6h-6zM342 288h6v6h-6zM870 288h6v6h-6zM876 294h6v6h-6zM258 300h6v6h-6zM876 300h12v6h-12zM882 306h12v6h-12zM420 312h6v6h-6zM888 312h12v6h-12zM312 318h6v6h-6zM894 318h12v6h-12zM426 324h6v6h-6zM900 324h18v6h-18zM306 330h6v6h-6zM912 330h12v6h-12zM780 336h6v6h-6zM918 336h24v6h-24zM300 342h6v6h-6zM432 342h6v6h-6zM924 342h60v6h-60zM300 348h6v6h-6zM936 348h48v6h-48zM300 354h6v6h-6zM942 354h42v6h-42zM300 360h6v6h-6zM954 360h30v6h-30zM300 366h6v6h-6zM432 366h6v6h-6zM972 366h12v6h-12zM432 372h6v6h-6zM306 378h6v6h-6zM426 384h6v6h-6zM312 390h6v6h-6zM318 396h6v6h-6zM420 396h6v6h-6zM414 402h6v6h-6zM336 408h6v6h-6zM354 414h6v6h-6zM390 414h6v6h-6zM240 420h6v6h-6zM690 438h6v6h-6zM792 438h6v6h-6zM702 456h6v6h-6zM240 468h6v6h-6zM882 474h6v6h-6zM930 486h6v6h-6zM966 486h18v6h-18zM468 492h6v6h-6zM498 492h6v6h-6zM516 492h6v6h-6zM558 492h12v6h-12zM828 492h6v6h-6zM936 492h12v6h-12zM264 516h6v6h-6zM870 522h6v6h-6zM900 540h42v6h-42zM966 540h18v6h-18zM282 558h6v6h-6zM426 576h6v6h-6zM414 582h6v6h-6zM858 582h6v6h-6zM978 582h6v6h-6zM372 588h6v6h-6zM966 588h18v6h-18zM948 594h36v6h-36zM924 600h60v6h-60zM924 606h30v6h-30zM876 612h6v6h-6zM882 618h12v6h-12zM870 624h12v6h-12zM540 630h6v6h-6zM858 630h12v6h-12zM852 636h6v6h-6zM840 642h12v6h-12zM834 648h6v6h-6zM822 654h12v6h-12zM558 660h18v6h-18zM606 660h18v6h-18zM810 660h12v6h-12zM534 666h24v6h-24zM630 666h6v6h-6zM798 666h18v6h-18zM534 672h6v6h-6zM648 672h6v6h-6zM780 672h18v6h-18zM300 678h6v6h-6zM330 678h6v6h-6zM762 678h24v6h-24zM672 684h6v6h-6zM744 684h24v6h-24zM732 690h18v6h-18zM696 696h6v6h-6zM726 696h12v6h-12zM702 702h30v6h-30zM708 708h12v6h-12zM378 726h6v6h-6z"/><path fill="#b8ff47" d="M768 84h6v6h-6zM774 126h6v6h-6zM972 126h12v6h-12zM948 132h36v6h-36zM744 138h6v6h-6zM918 138h60v6h-60zM888 144h48v6h-48zM762 150h6v6h-6zM870 150h24v6h-24zM732 156h6v6h-6zM858 156h18v6h-18zM852 162h12v6h-12zM846 168h12v6h-12zM840 174h12v6h-12zM840 180h6v6h-6zM528 186h6v6h-6zM546 186h6v6h-6zM732 186h6v6h-6zM834 186h12v6h-12zM834 192h6v6h-6zM834 198h6v6h-6zM834 204h12v6h-12zM624 210h6v6h-6zM840 210h6v6h-6zM366 216h6v6h-6zM840 216h6v6h-6zM846 222h6v6h-6zM444 228h6v6h-6zM846 228h6v6h-6zM852 234h6v6h-6zM852 240h6v6h-6zM858 246h6v6h-6zM864 252h6v6h-6zM870 258h6v6h-6zM870 264h12v6h-12zM270 270h6v6h-6zM876 270h6v6h-6zM882 276h12v6h-12zM888 282h12v6h-12zM258 288h6v6h-6zM360 288h24v6h-24zM900 288h6v6h-6zM342 294h6v6h-6zM906 294h12v6h-12zM402 300h6v6h-6zM918 300h24v6h-24zM972 300h12v6h-12zM408 306h6v6h-6zM936 306h48v6h-48zM258 312h6v6h-6zM780 318h6v6h-6zM420 324h6v6h-6zM780 324h6v6h-6zM726 336h6v6h-6zM312 342h6v6h-6zM426 342h6v6h-6zM312 348h6v6h-6zM312 354h6v6h-6zM312 360h6v6h-6zM426 366h6v6h-6zM246 372h6v6h-6zM318 378h6v6h-6zM414 390h6v6h-6zM408 396h6v6h-6zM240 402h6v6h-6zM342 402h6v6h-6zM360 408h24v6h-24zM696 438h6v6h-6zM810 450h6v6h-6zM876 474h6v6h-6zM810 486h6v6h-6zM822 486h6v6h-6zM912 486h6v6h-6zM522 492h6v6h-6zM930 492h6v6h-6zM966 492h6v6h-6zM270 528h6v6h-6zM552 558h6v6h-6zM324 588h6v6h-6zM378 588h6v6h-6zM900 588h6v6h-6zM342 594h6v6h-6zM912 594h6v6h-6zM912 600h6v6h-6zM870 606h6v6h-6zM894 606h6v6h-6zM540 618h6v6h-6zM942 630h42v6h-42zM900 636h42v6h-42zM882 642h18v6h-18zM534 648h6v6h-6zM870 648h12v6h-12zM864 654h12v6h-12zM852 660h12v6h-12zM528 666h6v6h-6zM846 666h12v6h-12zM588 672h6v6h-6zM618 672h12v6h-12zM834 672h12v6h-12zM654 678h6v6h-6zM828 678h12v6h-12zM240 684h6v6h-6zM666 684h6v6h-6zM816 684h12v6h-12zM804 690h12v6h-12zM798 696h12v6h-12zM786 702h12v6h-12zM774 708h18v6h-18zM768 714h18v6h-18zM762 720h18v6h-18zM756 726h18v6h-18zM756 732h12v6h-12zM702 738h6v6h-6zM750 738h18v6h-18zM390 744h6v6h-6zM750 744h12v6h-12zM390 750h6v6h-6zM744 750h18v6h-18zM744 756h18v6h-18z"/><path fill="#bfff40" d="M978 84h6v6h-6zM966 90h18v6h-18zM948 96h36v6h-36zM936 102h30v6h-30zM918 108h36v6h-36zM768 114h6v6h-6zM900 114h36v6h-36zM882 120h30v6h-30zM864 126h30v6h-30zM858 132h18v6h-18zM780 138h6v6h-6zM846 138h12v6h-12zM840 144h12v6h-12zM834 150h6v6h-6zM828 156h6v6h-6zM822 162h12v6h-12zM822 168h6v6h-6zM732 174h6v6h-6zM816 174h12v6h-12zM816 180h6v6h-6zM534 186h12v6h-12zM816 186h6v6h-6zM816 192h6v6h-6zM816 198h6v6h-6zM816 204h6v6h-6zM630 210h6v6h-6zM822 210h6v6h-6zM822 216h6v6h-6zM348 222h6v6h-6zM828 222h6v6h-6zM378 228h6v6h-6zM828 228h6v6h-6zM834 234h6v6h-6zM840 240h6v6h-6zM840 246h6v6h-6zM846 252h6v6h-6zM852 258h6v6h-6zM858 264h6v6h-6zM858 270h6v6h-6zM864 276h6v6h-6zM360 282h6v6h-6zM384 282h12v6h-12zM870 282h6v6h-6zM396 288h6v6h-6zM876 288h6v6h-6zM258 294h6v6h-6zM336 294h6v6h-6zM402 294h6v6h-6zM882 294h6v6h-6zM408 300h6v6h-6zM888 300h6v6h-6zM414 306h6v6h-6zM894 306h6v6h-6zM318 312h6v6h-6zM900 312h12v6h-12zM714 318h6v6h-6zM906 318h18v6h-18zM312 324h6v6h-6zM918 324h24v6h-24zM924 330h60v6h-60zM306 336h6v6h-6zM942 336h42v6h-42zM432 348h6v6h-6zM432 354h6v6h-6zM744 354h6v6h-6zM432 360h6v6h-6zM306 366h6v6h-6zM306 372h6v6h-6zM246 378h6v6h-6zM312 384h6v6h-6zM318 390h6v6h-6zM420 390h6v6h-6zM324 396h6v6h-6zM330 402h6v6h-6zM408 402h6v6h-6zM342 408h6v6h-6zM402 408h6v6h-6zM240 414h6v6h-6zM360 414h30v6h-30zM834 456h6v6h-6zM684 468h6v6h-6zM768 474h6v6h-6zM900 480h6v6h-6zM246 486h6v6h-6zM948 492h6v6h-6zM570 516h6v6h-6zM870 540h6v6h-6zM894 540h6v6h-6zM942 540h24v6h-24zM450 546h6v6h-6zM552 576h6v6h-6zM894 582h6v6h-6zM912 588h6v6h-6zM918 594h6v6h-6zM918 600h6v6h-6zM918 606h6v6h-6zM954 606h30v6h-30zM882 612h102v6h-102zM894 618h36v6h-36zM540 624h6v6h-6zM882 624h18v6h-18zM870 630h12v6h-12zM858 636h12v6h-12zM144 642h6v6h-6zM852 642h6v6h-6zM840 648h12v6h-12zM180 654h6v6h-6zM834 654h12v6h-12zM534 660h6v6h-6zM576 660h30v6h-30zM822 660h12v6h-12zM198 666h6v6h-6zM558 666h12v6h-12zM618 666h12v6h-12zM816 666h6v6h-6zM540 672h6v6h-6zM642 672h6v6h-6zM798 672h18v6h-18zM222 678h6v6h-6zM660 678h6v6h-6zM786 678h18v6h-18zM282 684h6v6h-6zM342 684h6v6h-6zM768 684h18v6h-18zM750 690h24v6h-24zM738 696h24v6h-24zM732 702h18v6h-18zM366 708h6v6h-6zM720 708h18v6h-18zM708 714h24v6h-24zM708 720h18v6h-18zM708 726h12v6h-12zM384 738h6v6h-6zM384 744h6v6h-6zM384 750h6v6h-6z"/><path fill="#b3ff4c" d="M768 90h6v6h-6zM762 114h6v6h-6zM762 120h6v6h-6zM966 150h18v6h-18zM900 156h84v6h-84zM876 162h36v6h-36zM870 168h12v6h-12zM858 174h12v6h-12zM858 180h6v6h-6zM510 186h6v6h-6zM570 186h12v6h-12zM852 186h12v6h-12zM852 192h6v6h-6zM612 198h6v6h-6zM852 198h6v6h-6zM636 204h6v6h-6zM852 204h6v6h-6zM852 210h6v6h-6zM360 216h6v6h-6zM372 216h6v6h-6zM852 216h6v6h-6zM858 222h6v6h-6zM474 228h6v6h-6zM858 228h6v6h-6zM324 234h6v6h-6zM750 234h6v6h-6zM864 234h6v6h-6zM864 240h6v6h-6zM870 246h6v6h-6zM876 252h6v6h-6zM882 258h6v6h-6zM888 264h6v6h-6zM894 270h6v6h-6zM696 276h6v6h-6zM900 276h12v6h-12zM906 282h18v6h-18zM924 288h60v6h-60zM348 294h6v6h-6zM384 294h6v6h-6zM336 300h6v6h-6zM396 300h6v6h-6zM330 306h6v6h-6zM402 306h6v6h-6zM408 312h6v6h-6zM318 330h6v6h-6zM318 360h6v6h-6zM768 360h6v6h-6zM318 366h6v6h-6zM402 396h6v6h-6zM390 402h6v6h-6zM234 444h6v6h-6zM672 444h6v6h-6zM234 456h6v6h-6zM654 456h6v6h-6zM726 462h6v6h-6zM648 468h6v6h-6zM240 474h6v6h-6zM654 480h6v6h-6zM888 480h6v6h-6zM246 492h6v6h-6zM978 492h6v6h-6zM936 498h12v6h-12zM456 522h6v6h-6zM870 528h6v6h-6zM972 534h6v6h-6zM552 552h6v6h-6zM288 570h6v6h-6zM300 576h6v6h-6zM330 594h6v6h-6zM906 600h6v6h-6zM534 642h6v6h-6zM942 642h42v6h-42zM900 648h36v6h-36zM888 654h18v6h-18zM876 660h12v6h-12zM864 666h18v6h-18zM606 672h6v6h-6zM858 672h12v6h-12zM228 678h6v6h-6zM522 678h6v6h-6zM546 678h6v6h-6zM648 678h6v6h-6zM852 678h12v6h-12zM276 684h6v6h-6zM840 684h12v6h-12zM834 690h12v6h-12zM822 696h12v6h-12zM816 702h12v6h-12zM804 708h18v6h-18zM798 714h18v6h-18zM792 720h18v6h-18zM384 726h6v6h-6zM792 726h12v6h-12zM786 732h12v6h-12zM780 738h18v6h-18zM780 744h12v6h-12zM774 750h18v6h-18zM774 756h12v6h-12z"/><path fill="#b0ff4f" d="M768 96h6v6h-6zM912 162h72v6h-72zM882 168h42v6h-42zM870 174h18v6h-18zM864 180h12v6h-12zM552 186h18v6h-18zM582 186h6v6h-6zM864 186h6v6h-6zM732 192h6v6h-6zM858 192h12v6h-12zM858 198h6v6h-6zM618 204h6v6h-6zM858 204h6v6h-6zM738 210h6v6h-6zM858 210h6v6h-6zM858 216h6v6h-6zM408 222h6v6h-6zM864 222h6v6h-6zM330 228h6v6h-6zM384 228h6v6h-6zM864 228h6v6h-6zM870 234h6v6h-6zM870 240h12v6h-12zM756 246h6v6h-6zM876 246h6v6h-6zM882 252h6v6h-6zM282 258h6v6h-6zM888 258h6v6h-6zM894 264h12v6h-12zM900 270h12v6h-12zM912 276h18v6h-18zM924 282h60v6h-60zM354 294h6v6h-6zM372 294h12v6h-12zM258 318h6v6h-6zM414 324h6v6h-6zM318 336h6v6h-6zM420 336h6v6h-6zM258 342h6v6h-6zM318 342h6v6h-6zM318 348h6v6h-6zM318 354h6v6h-6zM324 378h6v6h-6zM414 384h6v6h-6zM240 390h6v6h-6zM408 390h6v6h-6zM342 396h6v6h-6zM354 402h6v6h-6zM378 402h12v6h-12zM846 462h6v6h-6zM648 480h6v6h-6zM786 480h6v6h-6zM906 486h6v6h-6zM870 534h6v6h-6zM930 534h6v6h-6zM966 534h6v6h-6zM444 558h6v6h-6zM420 582h6v6h-6zM894 588h6v6h-6zM906 594h6v6h-6zM900 600h6v6h-6zM936 648h48v6h-48zM906 654h36v6h-36zM192 660h6v6h-6zM888 660h24v6h-24zM882 666h12v6h-12zM312 672h6v6h-6zM522 672h6v6h-6zM570 672h12v6h-12zM870 672h18v6h-18zM294 678h6v6h-6zM336 678h6v6h-6zM552 678h6v6h-6zM864 678h12v6h-12zM852 684h18v6h-18zM672 690h6v6h-6zM846 690h18v6h-18zM834 696h18v6h-18zM828 702h18v6h-18zM822 708h12v6h-12zM816 714h12v6h-12zM810 720h12v6h-12zM804 726h12v6h-12zM798 732h12v6h-12zM798 738h12v6h-12zM792 744h12v6h-12zM702 750h6v6h-6zM792 750h12v6h-12zM786 756h18v6h-18z"/><path fill="#adff52" d="M768 102h6v6h-6zM750 138h6v6h-6zM732 150h6v6h-6zM924 168h60v6h-60zM888 174h96v6h-96zM534 180h12v6h-12zM876 180h24v6h-24zM504 186h6v6h-6zM588 186h6v6h-6zM870 186h18v6h-18zM606 192h6v6h-6zM870 192h12v6h-12zM648 198h6v6h-6zM864 198h12v6h-12zM864 204h12v6h-12zM864 210h12v6h-12zM864 216h12v6h-12zM378 222h6v6h-6zM870 222h6v6h-6zM396 228h6v6h-6zM684 228h6v6h-6zM870 228h12v6h-12zM876 234h6v6h-6zM882 240h6v6h-6zM306 246h6v6h-6zM882 246h12v6h-12zM888 252h12v6h-12zM894 258h12v6h-12zM762 264h6v6h-6zM906 264h12v6h-12zM912 270h18v6h-18zM930 276h54v6h-54zM360 294h12v6h-12zM390 300h6v6h-6zM324 318h6v6h-6zM258 324h6v6h-6zM720 324h6v6h-6zM774 348h6v6h-6zM252 354h6v6h-6zM324 372h6v6h-6zM420 372h6v6h-6zM330 384h6v6h-6zM336 390h6v6h-6zM396 396h6v6h-6zM360 402h18v6h-18zM234 438h6v6h-6zM798 444h6v6h-6zM732 468h6v6h-6zM774 474h6v6h-6zM528 492h6v6h-6zM540 492h6v6h-6zM570 498h6v6h-6zM948 498h6v6h-6zM456 528h6v6h-6zM924 534h6v6h-6zM936 534h12v6h-12zM954 534h12v6h-12zM276 552h6v6h-6zM888 588h6v6h-6zM852 594h6v6h-6zM858 600h6v6h-6zM540 612h6v6h-6zM174 648h6v6h-6zM942 654h42v6h-42zM528 660h6v6h-6zM912 660h30v6h-30zM894 666h24v6h-24zM888 672h18v6h-18zM876 678h18v6h-18zM870 684h18v6h-18zM864 690h12v6h-12zM852 696h18v6h-18zM846 702h18v6h-18zM696 708h6v6h-6zM834 708h24v6h-24zM828 714h18v6h-18zM822 720h18v6h-18zM696 726h6v6h-6zM816 726h18v6h-18zM390 732h6v6h-6zM810 732h18v6h-18zM810 738h18v6h-18zM804 744h18v6h-18zM804 750h18v6h-18zM702 756h6v6h-6zM804 756h12v6h-12z"/><path fill="#bdff42" d="M966 102h18v6h-18zM954 108h30v6h-30zM936 114h36v6h-36zM912 120h42v6h-42zM894 126h36v6h-36zM876 132h24v6h-24zM858 138h24v6h-24zM852 144h12v6h-12zM756 150h6v6h-6zM840 150h12v6h-12zM834 156h12v6h-12zM732 162h6v6h-6zM834 162h6v6h-6zM828 168h6v6h-6zM828 174h6v6h-6zM732 180h6v6h-6zM822 180h6v6h-6zM822 186h6v6h-6zM822 192h6v6h-6zM822 198h6v6h-6zM660 204h6v6h-6zM822 204h6v6h-6zM828 210h6v6h-6zM672 216h6v6h-6zM828 216h6v6h-6zM414 222h6v6h-6zM834 222h6v6h-6zM402 228h6v6h-6zM834 228h6v6h-6zM840 234h6v6h-6zM846 246h6v6h-6zM852 252h6v6h-6zM858 258h6v6h-6zM864 270h6v6h-6zM870 276h6v6h-6zM366 282h18v6h-18zM696 282h6v6h-6zM876 282h6v6h-6zM348 288h6v6h-6zM882 288h6v6h-6zM888 294h6v6h-6zM330 300h6v6h-6zM894 300h12v6h-12zM258 306h6v6h-6zM324 306h6v6h-6zM900 306h12v6h-12zM780 312h6v6h-6zM912 312h18v6h-18zM420 318h6v6h-6zM924 318h60v6h-60zM942 324h42v6h-42zM426 330h6v6h-6zM780 330h6v6h-6zM306 342h6v6h-6zM258 348h6v6h-6zM306 348h6v6h-6zM306 354h6v6h-6zM774 354h6v6h-6zM306 360h6v6h-6zM312 378h6v6h-6zM426 378h6v6h-6zM414 396h6v6h-6zM336 402h6v6h-6zM348 408h6v6h-6zM396 408h6v6h-6zM720 432h6v6h-6zM732 432h6v6h-6zM852 462h6v6h-6zM804 486h6v6h-6zM924 486h6v6h-6zM552 492h6v6h-6zM954 492h6v6h-6zM870 516h6v6h-6zM888 540h6v6h-6zM552 570h6v6h-6zM306 576h6v6h-6zM318 582h6v6h-6zM864 582h30v6h-30zM546 600h6v6h-6zM852 600h6v6h-6zM864 606h6v6h-6zM912 606h6v6h-6zM930 618h54v6h-54zM900 624h36v6h-36zM882 630h18v6h-18zM870 636h12v6h-12zM858 642h12v6h-12zM168 648h6v6h-6zM852 648h12v6h-12zM534 654h6v6h-6zM846 654h6v6h-6zM834 660h12v6h-12zM570 666h48v6h-48zM822 666h12v6h-12zM528 672h6v6h-6zM546 672h12v6h-12zM816 672h12v6h-12zM804 678h12v6h-12zM786 684h18v6h-18zM678 690h6v6h-6zM774 690h18v6h-18zM690 696h6v6h-6zM762 696h18v6h-18zM750 702h18v6h-18zM702 708h6v6h-6zM738 708h18v6h-18zM372 714h6v6h-6zM732 714h18v6h-18zM702 720h6v6h-6zM726 720h18v6h-18zM702 726h6v6h-6zM720 726h18v6h-18zM384 732h6v6h-6zM708 732h30v6h-30zM708 738h24v6h-24zM708 744h24v6h-24zM714 750h12v6h-12zM384 756h6v6h-6zM714 756h12v6h-12z"/><path fill="#b5ff4a" d="M768 108h6v6h-6zM978 138h6v6h-6zM774 144h6v6h-6zM936 144h48v6h-48zM894 150h72v6h-72zM876 156h24v6h-24zM864 162h12v6h-12zM858 168h12v6h-12zM852 174h6v6h-6zM846 180h12v6h-12zM516 186h12v6h-12zM846 186h6v6h-6zM498 192h6v6h-6zM840 192h12v6h-12zM840 198h12v6h-12zM846 204h6v6h-6zM492 210h6v6h-6zM846 210h6v6h-6zM846 216h6v6h-6zM342 222h6v6h-6zM678 222h6v6h-6zM744 222h6v6h-6zM852 222h6v6h-6zM852 228h6v6h-6zM858 234h6v6h-6zM858 240h6v6h-6zM864 246h6v6h-6zM294 252h6v6h-6zM870 252h6v6h-6zM876 258h6v6h-6zM276 264h6v6h-6zM882 264h6v6h-6zM882 270h12v6h-12zM264 276h6v6h-6zM894 276h6v6h-6zM900 282h6v6h-6zM906 288h18v6h-18zM390 294h6v6h-6zM774 294h6v6h-6zM918 294h66v6h-66zM942 300h30v6h-30zM324 312h6v6h-6zM414 318h6v6h-6zM318 324h6v6h-6zM420 330h6v6h-6zM426 348h6v6h-6zM426 354h6v6h-6zM426 360h6v6h-6zM750 360h6v6h-6zM318 372h6v6h-6zM420 378h6v6h-6zM324 384h6v6h-6zM330 390h6v6h-6zM240 396h6v6h-6zM336 396h6v6h-6zM348 402h6v6h-6zM396 402h6v6h-6zM234 450h6v6h-6zM660 450h6v6h-6zM828 456h6v6h-6zM666 474h6v6h-6zM546 492h6v6h-6zM972 492h6v6h-6zM834 498h6v6h-6zM462 504h6v6h-6zM846 510h6v6h-6zM564 522h6v6h-6zM978 534h6v6h-6zM852 588h6v6h-6zM546 594h6v6h-6zM876 606h18v6h-18zM942 636h42v6h-42zM150 642h6v6h-6zM900 642h42v6h-42zM882 648h18v6h-18zM876 654h12v6h-12zM864 660h12v6h-12zM858 666h6v6h-6zM564 672h6v6h-6zM582 672h6v6h-6zM594 672h12v6h-12zM612 672h6v6h-6zM846 672h12v6h-12zM540 678h6v6h-6zM840 678h12v6h-12zM828 684h12v6h-12zM816 690h18v6h-18zM684 696h6v6h-6zM810 696h12v6h-12zM798 702h18v6h-18zM792 708h12v6h-12zM786 714h12v6h-12zM780 720h12v6h-12zM774 726h18v6h-18zM768 732h18v6h-18zM390 738h6v6h-6zM768 738h12v6h-12zM702 744h6v6h-6zM762 744h18v6h-18zM762 750h12v6h-12zM390 756h6v6h-6zM762 756h12v6h-12z"/><path fill="#6bff94" d="M378 192h6v6h-6zM396 192h6v6h-6zM408 210h6v6h-6zM714 264h24v6h-24zM714 270h36v6h-36zM732 276h18v6h-18zM738 282h12v6h-12zM738 288h12v6h-12zM738 294h12v6h-12zM720 300h6v6h-6zM732 300h12v6h-12zM726 306h18v6h-18zM732 312h6v6h-6zM336 330h6v6h-6zM396 336h6v6h-6zM342 366h6v6h-6zM354 384h6v6h-6zM132 402h48v6h-48zM132 408h90v6h-90zM192 414h30v6h-30zM222 420h6v6h-6zM222 426h6v6h-6zM222 432h6v6h-6zM222 438h6v6h-6zM222 456h6v6h-6zM870 486h6v6h-6zM882 492h6v6h-6zM894 498h6v6h-6zM888 504h6v6h-6zM906 504h12v6h-12zM504 510h6v6h-6zM894 510h12v6h-12zM918 510h6v6h-6zM924 516h6v6h-6zM504 522h6v6h-6zM264 528h6v6h-6zM504 528h6v6h-6zM504 534h6v6h-6zM498 552h6v6h-6zM498 558h6v6h-6zM498 564h6v6h-6zM498 570h6v6h-6zM498 576h6v6h-6zM498 582h6v6h-6zM498 588h6v6h-6zM384 594h6v6h-6zM498 594h6v6h-6zM348 600h6v6h-6zM498 600h6v6h-6zM498 606h6v6h-6zM498 612h6v6h-6zM504 618h6v6h-6zM504 624h6v6h-6zM510 630h6v6h-6zM510 636h6v6h-6zM516 642h6v6h-6zM516 648h6v6h-6zM516 654h6v6h-6zM216 666h6v6h-6zM318 666h6v6h-6zM510 666h6v6h-6zM588 690h12v6h-12zM624 690h6v6h-6zM636 690h6v6h-6zM654 696h6v6h-6zM672 708h6v6h-6zM678 714h6v6h-6zM684 750h6v6h-6zM684 756h6v6h-6z"/><path fill="#69ff96" d="M384 192h12v6h-12zM378 204h6v6h-6zM408 204h6v6h-6zM714 276h18v6h-18zM714 282h24v6h-24zM714 288h24v6h-24zM720 294h18v6h-18zM726 300h6v6h-6zM132 414h60v6h-60zM132 420h90v6h-90zM144 426h78v6h-78zM216 432h6v6h-6zM732 444h6v6h-6zM672 450h6v6h-6zM690 450h6v6h-6zM222 462h6v6h-6zM744 462h6v6h-6zM810 462h6v6h-6zM228 474h6v6h-6zM822 474h6v6h-6zM846 474h6v6h-6zM858 480h6v6h-6zM234 486h6v6h-6zM840 486h6v6h-6zM876 492h6v6h-6zM852 498h6v6h-6zM864 498h30v6h-30zM498 504h6v6h-6zM894 504h12v6h-12zM906 510h12v6h-12zM504 516h6v6h-6zM900 516h6v6h-6zM498 534h6v6h-6zM498 540h6v6h-6zM462 546h6v6h-6zM498 546h6v6h-6zM492 564h6v6h-6zM492 570h6v6h-6zM492 576h6v6h-6zM492 582h6v6h-6zM312 588h6v6h-6zM492 588h6v6h-6zM492 594h6v6h-6zM492 600h6v6h-6zM492 606h6v6h-6zM492 612h6v6h-6zM498 618h6v6h-6zM498 624h6v6h-6zM504 630h6v6h-6zM162 636h6v6h-6zM504 636h6v6h-6zM510 642h6v6h-6zM306 666h6v6h-6zM246 678h6v6h-6zM504 678h6v6h-6zM600 690h6v6h-6zM612 690h12v6h-12zM630 690h6v6h-6zM648 696h6v6h-6zM660 702h6v6h-6zM666 708h6v6h-6zM672 714h6v6h-6zM672 720h12v6h-12zM672 726h12v6h-12zM678 732h6v6h-6zM678 738h6v6h-6zM678 744h6v6h-6zM678 750h6v6h-6zM678 756h6v6h-6z"/><path fill="#d9ff26" d="M510 192h12v6h-12zM672 222h6v6h-6zM444 234h6v6h-6zM768 234h6v6h-6zM408 240h6v6h-6zM768 240h12v6h-12zM408 246h6v6h-6zM768 246h18v6h-18zM330 252h6v6h-6zM408 252h6v6h-6zM768 252h6v6h-6zM780 252h12v6h-12zM318 258h12v6h-12zM786 258h12v6h-12zM318 264h12v6h-12zM792 264h12v6h-12zM282 270h6v6h-6zM312 270h12v6h-12zM414 270h6v6h-6zM774 270h6v6h-6zM798 270h12v6h-12zM276 276h6v6h-6zM306 276h12v6h-12zM804 276h6v6h-6zM270 282h6v6h-6zM300 282h12v6h-12zM420 282h6v6h-6zM810 282h6v6h-6zM294 288h12v6h-12zM780 288h6v6h-6zM810 288h12v6h-12zM288 294h12v6h-12zM816 294h6v6h-6zM282 300h12v6h-12zM432 300h6v6h-6zM816 300h12v6h-12zM270 306h18v6h-18zM822 306h6v6h-6zM270 312h12v6h-12zM438 312h6v6h-6zM786 312h6v6h-6zM822 312h12v6h-12zM828 318h6v6h-6zM444 324h6v6h-6zM828 324h12v6h-12zM786 330h6v6h-6zM834 330h6v6h-6zM834 336h6v6h-6zM450 342h6v6h-6zM834 342h12v6h-12zM834 348h12v6h-12zM780 354h6v6h-6zM840 354h6v6h-6zM840 360h12v6h-12zM840 366h12v6h-12zM840 372h12v6h-12zM450 378h6v6h-6zM846 378h6v6h-6zM450 384h6v6h-6zM846 384h6v6h-6zM846 390h12v6h-12zM444 396h6v6h-6zM846 396h12v6h-12zM444 402h6v6h-6zM846 402h12v6h-12zM438 408h6v6h-6zM846 408h12v6h-12zM432 414h6v6h-6zM846 414h12v6h-12zM426 420h6v6h-6zM846 420h12v6h-12zM420 426h6v6h-6zM852 426h6v6h-6zM408 432h12v6h-12zM846 432h12v6h-12zM294 438h18v6h-18zM384 438h18v6h-18zM846 438h12v6h-12zM282 444h72v6h-72zM846 444h12v6h-12zM282 450h36v6h-36zM840 450h18v6h-18zM282 456h24v6h-24zM282 462h24v6h-24zM288 468h18v6h-18zM288 474h18v6h-18zM732 474h6v6h-6zM294 480h12v6h-12zM774 480h6v6h-6zM294 486h12v6h-12zM468 486h6v6h-6zM528 486h6v6h-6zM540 486h6v6h-6zM648 486h6v6h-6zM294 492h12v6h-12zM462 492h6v6h-6zM816 492h6v6h-6zM300 498h12v6h-12zM300 504h12v6h-12zM300 510h12v6h-12zM834 510h6v6h-6zM300 516h12v6h-12zM450 516h6v6h-6zM300 522h12v6h-12zM846 522h6v6h-6zM300 528h12v6h-12zM846 528h12v6h-12zM300 534h12v6h-12zM846 534h6v6h-6zM300 540h18v6h-18zM846 540h6v6h-6zM300 546h18v6h-18zM444 546h6v6h-6zM846 546h6v6h-6zM306 552h12v6h-12zM846 552h6v6h-6zM306 558h12v6h-12zM558 558h6v6h-6zM840 558h12v6h-12zM312 564h12v6h-12zM432 564h6v6h-6zM840 564h12v6h-12zM318 570h12v6h-12zM840 570h6v6h-6zM324 576h6v6h-6zM834 576h12v6h-12zM330 582h6v6h-6zM384 582h6v6h-6zM834 582h6v6h-6zM828 588h6v6h-6zM816 594h12v6h-12zM810 600h12v6h-12zM558 606h6v6h-6zM798 606h18v6h-18zM564 612h12v6h-12zM786 612h18v6h-18zM582 618h12v6h-12zM762 618h24v6h-24zM600 624h12v6h-12zM744 624h24v6h-24zM618 630h12v6h-12zM732 630h12v6h-12zM636 636h12v6h-12zM714 636h18v6h-18zM654 642h12v6h-12zM702 642h12v6h-12zM666 648h36v6h-36zM156 654h6v6h-6zM162 660h12v6h-12zM174 666h6v6h-6zM180 672h6v6h-6zM186 678h12v6h-12zM192 684h12v6h-12zM306 684h24v6h-24zM204 690h12v6h-12zM294 690h6v6h-6zM210 696h12v6h-12zM282 696h6v6h-6zM222 702h18v6h-18zM264 702h18v6h-18zM348 702h6v6h-6zM234 708h30v6h-30zM354 714h6v6h-6zM354 720h6v6h-6zM354 726h6v6h-6zM354 732h6v6h-6z"/><path fill="#d6ff29" d="M522 192h6v6h-6zM498 204h6v6h-6zM756 216h6v6h-6zM756 222h12v6h-12zM414 228h6v6h-6zM438 228h6v6h-6zM762 228h12v6h-12zM408 234h6v6h-6zM762 234h6v6h-6zM774 234h12v6h-12zM336 240h6v6h-6zM780 240h12v6h-12zM330 246h12v6h-12zM786 246h6v6h-6zM324 252h6v6h-6zM336 252h6v6h-6zM690 252h6v6h-6zM792 252h6v6h-6zM300 258h6v6h-6zM330 258h6v6h-6zM408 258h6v6h-6zM798 258h6v6h-6zM288 264h6v6h-6zM330 264h6v6h-6zM408 264h6v6h-6zM804 264h6v6h-6zM324 270h6v6h-6zM810 270h6v6h-6zM318 276h6v6h-6zM414 276h6v6h-6zM774 276h6v6h-6zM810 276h6v6h-6zM312 282h6v6h-6zM816 282h6v6h-6zM306 288h6v6h-6zM822 288h6v6h-6zM264 294h6v6h-6zM300 294h6v6h-6zM426 294h6v6h-6zM822 294h6v6h-6zM264 300h6v6h-6zM294 300h6v6h-6zM828 300h6v6h-6zM288 306h6v6h-6zM432 306h6v6h-6zM828 306h6v6h-6zM282 312h6v6h-6zM834 312h6v6h-6zM270 318h12v6h-12zM786 318h6v6h-6zM834 318h6v6h-6zM786 324h6v6h-6zM840 324h6v6h-6zM444 330h6v6h-6zM840 330h6v6h-6zM840 336h12v6h-12zM726 342h6v6h-6zM846 342h6v6h-6zM450 348h6v6h-6zM846 348h6v6h-6zM450 354h6v6h-6zM846 354h12v6h-12zM450 360h6v6h-6zM744 360h6v6h-6zM852 360h6v6h-6zM450 366h6v6h-6zM852 366h6v6h-6zM450 372h6v6h-6zM852 372h12v6h-12zM852 378h12v6h-12zM852 384h12v6h-12zM444 390h6v6h-6zM858 390h6v6h-6zM258 396h6v6h-6zM858 396h6v6h-6zM252 402h18v6h-18zM438 402h6v6h-6zM858 402h12v6h-12zM252 408h24v6h-24zM858 408h12v6h-12zM252 414h30v6h-30zM858 414h12v6h-12zM252 420h42v6h-42zM858 420h12v6h-12zM252 426h54v6h-54zM414 426h6v6h-6zM768 426h6v6h-6zM858 426h12v6h-12zM252 432h72v6h-72zM402 432h6v6h-6zM858 432h12v6h-12zM246 438h48v6h-48zM312 438h72v6h-72zM858 438h12v6h-12zM246 444h36v6h-36zM810 444h6v6h-6zM858 444h12v6h-12zM246 450h36v6h-36zM834 450h6v6h-6zM858 450h12v6h-12zM252 456h30v6h-30zM252 462h30v6h-30zM720 462h6v6h-6zM258 468h30v6h-30zM690 468h6v6h-6zM258 474h30v6h-30zM264 480h30v6h-30zM270 486h24v6h-24zM534 486h6v6h-6zM276 492h18v6h-18zM822 492h6v6h-6zM276 498h24v6h-24zM276 504h24v6h-24zM456 504h6v6h-6zM282 510h18v6h-18zM282 516h18v6h-18zM840 516h6v6h-6zM282 522h18v6h-18zM852 522h6v6h-6zM282 528h18v6h-18zM288 534h12v6h-12zM852 534h6v6h-6zM288 540h12v6h-12zM852 540h6v6h-6zM288 546h12v6h-12zM852 546h6v6h-6zM288 552h18v6h-18zM558 552h6v6h-6zM852 552h12v6h-12zM294 558h12v6h-12zM852 558h6v6h-6zM300 564h12v6h-12zM852 564h6v6h-6zM312 570h6v6h-6zM846 570h12v6h-12zM420 576h6v6h-6zM846 576h6v6h-6zM840 582h6v6h-6zM336 588h12v6h-12zM834 588h6v6h-6zM828 594h12v6h-12zM822 600h12v6h-12zM552 606h6v6h-6zM816 606h12v6h-12zM552 612h12v6h-12zM804 612h12v6h-12zM558 618h24v6h-24zM786 618h18v6h-18zM588 624h12v6h-12zM768 624h24v6h-24zM606 630h12v6h-12zM744 630h24v6h-24zM624 636h12v6h-12zM732 636h12v6h-12zM642 642h12v6h-12zM714 642h18v6h-18zM144 648h6v6h-6zM654 648h12v6h-12zM702 648h12v6h-12zM162 654h6v6h-6zM672 654h30v6h-30zM174 660h6v6h-6zM180 666h6v6h-6zM186 672h6v6h-6zM198 678h6v6h-6zM204 684h12v6h-12zM300 684h6v6h-6zM330 684h6v6h-6zM216 690h12v6h-12zM288 690h6v6h-6zM222 696h18v6h-18zM270 696h12v6h-12zM240 702h24v6h-24zM354 708h6v6h-6zM360 732h6v6h-6zM360 738h6v6h-6zM360 744h6v6h-6zM360 750h6v6h-6zM360 756h6v6h-6z"/><path fill="#dbff24" d="M528 192h6v6h-6zM498 228h6v6h-6zM774 252h6v6h-6zM306 258h12v6h-12zM414 258h6v6h-6zM774 258h12v6h-12zM294 264h6v6h-6zM312 264h6v6h-6zM414 264h6v6h-6zM774 264h6v6h-6zM786 264h6v6h-6zM306 270h6v6h-6zM786 270h12v6h-12zM300 276h6v6h-6zM420 276h6v6h-6zM690 276h6v6h-6zM792 276h12v6h-12zM294 282h6v6h-6zM798 282h12v6h-12zM270 288h6v6h-6zM288 288h6v6h-6zM426 288h6v6h-6zM804 288h6v6h-6zM270 294h18v6h-18zM804 294h12v6h-12zM270 300h12v6h-12zM810 300h6v6h-6zM438 306h6v6h-6zM702 306h6v6h-6zM786 306h6v6h-6zM810 306h12v6h-12zM816 312h6v6h-6zM444 318h6v6h-6zM816 318h12v6h-12zM822 324h6v6h-6zM450 330h6v6h-6zM822 330h12v6h-12zM450 336h6v6h-6zM720 336h6v6h-6zM786 336h6v6h-6zM822 336h12v6h-12zM828 342h6v6h-6zM732 348h6v6h-6zM828 348h6v6h-6zM456 354h6v6h-6zM828 354h12v6h-12zM456 360h6v6h-6zM828 360h12v6h-12zM456 366h6v6h-6zM834 366h6v6h-6zM456 372h6v6h-6zM834 372h6v6h-6zM834 378h12v6h-12zM834 384h12v6h-12zM450 390h6v6h-6zM834 390h12v6h-12zM450 396h6v6h-6zM834 396h12v6h-12zM840 402h6v6h-6zM444 408h6v6h-6zM840 408h6v6h-6zM438 414h6v6h-6zM840 414h6v6h-6zM432 420h6v6h-6zM840 420h6v6h-6zM426 426h6v6h-6zM744 426h6v6h-6zM774 426h6v6h-6zM840 426h12v6h-12zM420 432h6v6h-6zM702 432h6v6h-6zM792 432h6v6h-6zM840 432h6v6h-6zM402 438h12v6h-12zM678 438h6v6h-6zM804 438h6v6h-6zM840 438h6v6h-6zM354 444h42v6h-42zM816 444h6v6h-6zM834 444h12v6h-12zM318 450h30v6h-30zM654 450h6v6h-6zM306 456h24v6h-24zM306 462h18v6h-18zM306 468h12v6h-12zM306 474h12v6h-12zM306 480h12v6h-12zM306 486h12v6h-12zM786 486h6v6h-6zM306 492h12v6h-12zM810 492h6v6h-6zM312 498h6v6h-6zM312 504h6v6h-6zM828 504h6v6h-6zM312 510h6v6h-6zM450 510h6v6h-6zM312 516h6v6h-6zM834 516h6v6h-6zM312 522h12v6h-12zM840 522h6v6h-6zM312 528h12v6h-12zM840 528h6v6h-6zM312 534h12v6h-12zM564 534h6v6h-6zM840 534h6v6h-6zM318 540h6v6h-6zM444 540h6v6h-6zM840 540h6v6h-6zM318 546h6v6h-6zM834 546h12v6h-12zM318 552h12v6h-12zM438 552h6v6h-6zM834 552h12v6h-12zM318 558h12v6h-12zM834 558h6v6h-6zM324 564h12v6h-12zM558 564h6v6h-6zM834 564h6v6h-6zM330 570h6v6h-6zM426 570h6v6h-6zM558 570h6v6h-6zM828 570h12v6h-12zM330 576h12v6h-12zM558 576h6v6h-6zM822 576h12v6h-12zM336 582h12v6h-12zM558 582h6v6h-6zM822 582h12v6h-12zM558 588h6v6h-6zM810 588h18v6h-18zM558 594h6v6h-6zM804 594h12v6h-12zM558 600h6v6h-6zM792 600h18v6h-18zM564 606h12v6h-12zM780 606h18v6h-18zM576 612h18v6h-18zM762 612h24v6h-24zM594 618h12v6h-12zM744 618h18v6h-18zM612 624h12v6h-12zM732 624h12v6h-12zM630 630h12v6h-12zM714 630h18v6h-18zM648 636h12v6h-12zM702 636h12v6h-12zM666 642h36v6h-36zM138 648h6v6h-6zM150 654h6v6h-6zM156 660h6v6h-6zM162 666h12v6h-12zM168 672h12v6h-12zM180 678h6v6h-6zM186 684h6v6h-6zM192 690h12v6h-12zM300 690h18v6h-18zM330 690h12v6h-12zM198 696h12v6h-12zM288 696h12v6h-12zM342 696h6v6h-6zM210 702h12v6h-12zM282 702h6v6h-6zM342 702h6v6h-6zM216 708h18v6h-18zM264 708h18v6h-18zM348 708h6v6h-6zM228 714h42v6h-42zM348 714h6v6h-6zM348 720h6v6h-6zM354 738h6v6h-6zM354 744h6v6h-6zM354 750h6v6h-6zM354 756h6v6h-6z"/><path fill="#e0ff1f" d="M534 192h12v6h-12zM600 198h6v6h-6zM684 240h6v6h-6zM420 258h6v6h-6zM420 264h6v6h-6zM426 276h6v6h-6zM690 282h6v6h-6zM432 288h6v6h-6zM438 300h6v6h-6zM696 300h6v6h-6zM792 300h6v6h-6zM792 306h12v6h-12zM444 312h6v6h-6zM792 312h12v6h-12zM708 318h6v6h-6zM792 318h12v6h-12zM450 324h6v6h-6zM792 324h18v6h-18zM792 330h18v6h-18zM456 336h6v6h-6zM804 336h12v6h-12zM804 342h12v6h-12zM786 348h6v6h-6zM804 348h12v6h-12zM804 354h12v6h-12zM462 360h6v6h-6zM780 360h6v6h-6zM810 360h12v6h-12zM462 366h6v6h-6zM810 366h12v6h-12zM462 372h6v6h-6zM756 372h12v6h-12zM810 372h12v6h-12zM462 378h6v6h-6zM810 378h12v6h-12zM810 384h12v6h-12zM810 390h12v6h-12zM456 396h6v6h-6zM810 396h18v6h-18zM816 402h12v6h-12zM450 408h6v6h-6zM816 408h12v6h-12zM450 414h6v6h-6zM816 414h12v6h-12zM444 420h6v6h-6zM816 420h12v6h-12zM438 426h6v6h-6zM780 426h6v6h-6zM816 426h12v6h-12zM432 432h6v6h-6zM798 432h6v6h-6zM810 432h18v6h-18zM426 438h6v6h-6zM810 438h18v6h-18zM414 444h12v6h-12zM390 450h24v6h-24zM354 456h30v6h-30zM648 456h6v6h-6zM336 462h18v6h-18zM330 468h18v6h-18zM642 468h6v6h-6zM330 474h12v6h-12zM678 474h6v6h-6zM330 480h6v6h-6zM480 480h6v6h-6zM666 480h6v6h-6zM330 486h6v6h-6zM462 486h6v6h-6zM498 486h6v6h-6zM642 486h6v6h-6zM654 486h6v6h-6zM330 492h6v6h-6zM456 492h6v6h-6zM576 492h6v6h-6zM798 492h6v6h-6zM330 498h6v6h-6zM450 498h6v6h-6zM330 504h6v6h-6zM444 504h12v6h-12zM822 504h6v6h-6zM330 510h6v6h-6zM438 510h12v6h-12zM822 510h6v6h-6zM330 516h6v6h-6zM438 516h6v6h-6zM576 516h6v6h-6zM822 516h12v6h-12zM330 522h6v6h-6zM438 522h6v6h-6zM822 522h12v6h-12zM330 528h6v6h-6zM432 528h12v6h-12zM822 528h6v6h-6zM330 534h6v6h-6zM432 534h12v6h-12zM822 534h6v6h-6zM330 540h12v6h-12zM432 540h12v6h-12zM816 540h12v6h-12zM336 546h6v6h-6zM432 546h6v6h-6zM816 546h12v6h-12zM336 552h6v6h-6zM432 552h6v6h-6zM816 552h12v6h-12zM342 558h6v6h-6zM810 558h12v6h-12zM342 564h6v6h-6zM810 564h12v6h-12zM348 570h6v6h-6zM804 570h12v6h-12zM348 576h12v6h-12zM414 576h6v6h-6zM798 576h12v6h-12zM366 582h12v6h-12zM792 582h12v6h-12zM564 588h6v6h-6zM786 588h12v6h-12zM570 594h6v6h-6zM774 594h12v6h-12zM576 600h12v6h-12zM756 600h18v6h-18zM588 606h12v6h-12zM744 606h18v6h-18zM600 612h12v6h-12zM726 612h18v6h-18zM618 618h12v6h-12zM714 618h18v6h-18zM636 624h12v6h-12zM702 624h12v6h-12zM654 630h48v6h-48zM132 654h12v6h-12zM138 660h12v6h-12zM144 666h12v6h-12zM156 672h6v6h-6zM162 678h6v6h-6zM168 684h6v6h-6zM174 690h12v6h-12zM180 696h12v6h-12zM186 702h12v6h-12zM306 702h30v6h-30zM198 708h6v6h-6zM294 708h12v6h-12zM330 708h12v6h-12zM204 714h12v6h-12zM282 714h12v6h-12zM336 714h6v6h-6zM210 720h12v6h-12zM270 720h12v6h-12zM342 720h6v6h-6zM222 726h18v6h-18zM252 726h24v6h-24zM342 726h6v6h-6zM228 732h30v6h-30zM342 732h6v6h-6zM348 744h6v6h-6zM348 750h6v6h-6zM348 756h6v6h-6z"/><path fill="#66ff99" d="M378 198h6v6h-6zM402 198h6v6h-6zM372 318h6v6h-6zM342 342h6v6h-6zM384 378h6v6h-6zM366 384h6v6h-6zM132 426h12v6h-12zM132 432h84v6h-84zM132 438h90v6h-90zM132 444h90v6h-90zM132 450h6v6h-6zM216 450h6v6h-6zM738 456h6v6h-6zM660 462h6v6h-6zM750 462h18v6h-18zM828 468h6v6h-6zM816 474h6v6h-6zM828 474h6v6h-6zM864 486h6v6h-6zM846 492h6v6h-6zM870 492h6v6h-6zM492 498h6v6h-6zM858 498h6v6h-6zM918 516h6v6h-6zM498 522h6v6h-6zM900 522h6v6h-6zM498 528h6v6h-6zM492 540h6v6h-6zM492 546h6v6h-6zM492 552h6v6h-6zM492 558h6v6h-6zM486 576h6v6h-6zM486 582h6v6h-6zM486 588h6v6h-6zM486 594h6v6h-6zM486 600h6v6h-6zM486 606h6v6h-6zM492 618h6v6h-6zM492 624h6v6h-6zM138 630h6v6h-6zM498 630h6v6h-6zM498 636h6v6h-6zM180 642h6v6h-6zM504 642h6v6h-6zM510 648h6v6h-6zM510 654h6v6h-6zM510 660h6v6h-6zM234 672h6v6h-6zM504 684h6v6h-6zM582 684h6v6h-6zM510 690h6v6h-6zM606 690h6v6h-6zM642 696h6v6h-6zM648 702h12v6h-12zM648 708h18v6h-18zM648 714h24v6h-24zM654 720h18v6h-18zM654 726h18v6h-18zM654 732h24v6h-24zM654 738h24v6h-24zM654 744h24v6h-24zM660 750h18v6h-18zM660 756h18v6h-18z"/><path fill="#5effa1" d="M384 198h6v6h-6zM348 312h6v6h-6zM360 312h6v6h-6zM762 438h6v6h-6zM738 444h6v6h-6zM678 450h6v6h-6zM738 450h6v6h-6zM684 456h6v6h-6zM672 462h6v6h-6zM774 462h6v6h-6zM192 468h30v6h-30zM810 468h6v6h-6zM132 474h60v6h-60zM222 474h6v6h-6zM228 480h6v6h-6zM234 492h6v6h-6zM240 504h6v6h-6zM498 510h6v6h-6zM492 522h6v6h-6zM486 528h6v6h-6zM912 528h6v6h-6zM480 540h6v6h-6zM480 546h6v6h-6zM462 552h6v6h-6zM480 552h6v6h-6zM270 558h6v6h-6zM480 558h6v6h-6zM474 576h6v6h-6zM474 582h6v6h-6zM474 588h6v6h-6zM390 594h6v6h-6zM474 594h6v6h-6zM474 600h6v6h-6zM474 606h6v6h-6zM474 612h6v6h-6zM480 624h6v6h-6zM144 630h6v6h-6zM480 630h6v6h-6zM486 636h6v6h-6zM492 648h6v6h-6zM498 654h6v6h-6zM504 660h6v6h-6zM324 666h6v6h-6zM504 666h6v6h-6zM528 696h6v6h-6zM546 696h12v6h-12zM588 696h6v6h-6zM594 702h18v6h-18zM594 708h24v6h-24zM600 714h18v6h-18zM606 720h12v6h-12zM606 726h18v6h-18zM606 732h18v6h-18zM612 738h12v6h-12zM612 744h12v6h-12zM612 750h12v6h-12zM612 756h18v6h-18z"/><path fill="#57ffa8" d="M390 198h6v6h-6zM402 204h6v6h-6zM396 216h6v6h-6zM354 312h6v6h-6zM342 318h6v6h-6zM348 348h6v6h-6zM768 450h6v6h-6zM666 456h6v6h-6zM762 456h6v6h-6zM780 462h6v6h-6zM792 462h6v6h-6zM798 468h6v6h-6zM162 486h42v6h-42zM228 486h6v6h-6zM132 492h12v6h-12zM468 516h6v6h-6zM474 528h6v6h-6zM468 558h6v6h-6zM468 564h6v6h-6zM468 570h6v6h-6zM282 576h6v6h-6zM468 576h6v6h-6zM438 582h6v6h-6zM462 588h6v6h-6zM396 594h6v6h-6zM408 594h12v6h-12zM462 594h6v6h-6zM462 600h6v6h-6zM462 606h6v6h-6zM468 624h6v6h-6zM150 630h6v6h-6zM474 636h6v6h-6zM474 642h6v6h-6zM192 648h6v6h-6zM480 648h6v6h-6zM486 660h6v6h-6zM492 666h6v6h-6zM252 678h6v6h-6zM498 684h6v6h-6zM510 696h6v6h-6zM528 702h12v6h-12zM558 702h6v6h-6zM582 702h6v6h-6zM540 708h12v6h-12zM570 708h6v6h-6zM546 714h18v6h-18zM552 720h18v6h-18zM402 726h6v6h-6zM558 726h18v6h-18zM564 732h12v6h-12zM408 738h6v6h-6zM564 738h18v6h-18zM570 744h12v6h-12zM570 750h12v6h-12zM570 756h12v6h-12z"/><path fill="#5cffa3" d="M396 198h6v6h-6zM384 210h6v6h-6zM378 378h6v6h-6zM780 450h6v6h-6zM792 456h6v6h-6zM804 468h6v6h-6zM192 474h30v6h-30zM132 480h48v6h-48zM468 510h6v6h-6zM918 522h6v6h-6zM468 528h6v6h-6zM468 534h6v6h-6zM480 534h6v6h-6zM264 540h6v6h-6zM468 540h6v6h-6zM474 552h6v6h-6zM456 558h6v6h-6zM474 558h6v6h-6zM474 564h6v6h-6zM474 570h6v6h-6zM468 588h6v6h-6zM318 594h6v6h-6zM468 594h6v6h-6zM324 600h6v6h-6zM354 600h6v6h-6zM468 600h6v6h-6zM474 618h6v6h-6zM474 624h6v6h-6zM168 636h6v6h-6zM480 636h6v6h-6zM486 642h6v6h-6zM486 648h6v6h-6zM492 654h6v6h-6zM498 660h6v6h-6zM288 672h6v6h-6zM342 672h6v6h-6zM558 690h6v6h-6zM522 696h6v6h-6zM378 702h6v6h-6zM588 702h6v6h-6zM384 708h6v6h-6zM582 708h12v6h-12zM390 714h6v6h-6zM582 714h18v6h-18zM588 720h18v6h-18zM588 726h18v6h-18zM594 732h12v6h-12zM594 738h18v6h-18zM408 744h6v6h-6zM594 744h18v6h-18zM408 750h6v6h-6zM600 750h12v6h-12zM408 756h6v6h-6zM600 756h12v6h-12z"/><path fill="#f2ff0d" d="M504 198h6v6h-6zM636 216h6v6h-6zM660 216h6v6h-6zM498 222h6v6h-6zM480 234h12v6h-12zM672 234h6v6h-6zM672 240h6v6h-6zM438 246h6v6h-6zM672 246h6v6h-6zM438 252h6v6h-6zM672 252h6v6h-6zM438 258h6v6h-6zM666 258h12v6h-12zM438 264h6v6h-6zM666 264h6v6h-6zM666 270h6v6h-6zM444 276h6v6h-6zM666 276h6v6h-6zM666 282h6v6h-6zM450 288h6v6h-6zM666 288h6v6h-6zM666 294h6v6h-6zM456 300h6v6h-6zM666 300h12v6h-12zM462 306h6v6h-6zM666 306h12v6h-12zM672 312h12v6h-12zM468 318h6v6h-6zM672 318h18v6h-18zM474 324h6v6h-6zM678 324h18v6h-18zM480 330h6v6h-6zM684 330h18v6h-18zM480 336h6v6h-6zM690 336h18v6h-18zM486 342h6v6h-6zM696 342h18v6h-18zM486 348h6v6h-6zM702 348h18v6h-18zM492 354h6v6h-6zM708 354h18v6h-18zM492 360h6v6h-6zM714 360h18v6h-18zM492 366h12v6h-12zM720 366h12v6h-12zM492 372h12v6h-12zM720 372h12v6h-12zM498 378h6v6h-6zM720 378h18v6h-18zM498 384h6v6h-6zM720 384h18v6h-18zM498 390h12v6h-12zM720 390h12v6h-12zM498 396h12v6h-12zM720 396h12v6h-12zM498 402h12v6h-12zM720 402h12v6h-12zM498 408h12v6h-12zM720 408h12v6h-12zM498 414h18v6h-18zM720 414h12v6h-12zM498 420h18v6h-18zM714 420h12v6h-12zM498 426h24v6h-24zM702 426h6v6h-6zM498 432h24v6h-24zM504 438h24v6h-24zM504 444h30v6h-30zM654 444h6v6h-6zM510 450h30v6h-30zM516 456h24v6h-24zM522 462h24v6h-24zM522 468h24v6h-24zM636 468h6v6h-6zM702 468h12v6h-12zM528 474h24v6h-24zM714 474h6v6h-6zM552 480h18v6h-18zM714 480h12v6h-12zM714 486h12v6h-12zM582 492h6v6h-6zM714 492h18v6h-18zM714 498h18v6h-18zM714 504h18v6h-18zM714 510h18v6h-18zM582 516h6v6h-6zM714 516h18v6h-18zM714 522h18v6h-18zM582 528h6v6h-6zM714 528h18v6h-18zM582 534h6v6h-6zM714 534h18v6h-18zM714 540h18v6h-18zM576 546h12v6h-12zM714 546h12v6h-12zM582 552h6v6h-6zM708 552h18v6h-18zM588 558h6v6h-6zM708 558h12v6h-12zM594 564h6v6h-6zM702 564h18v6h-18zM600 570h12v6h-12zM696 570h18v6h-18zM606 576h12v6h-12zM690 576h18v6h-18zM618 582h12v6h-12zM684 582h12v6h-12zM624 588h18v6h-18zM666 588h24v6h-24zM642 594h30v6h-30zM132 714h6v6h-6zM132 720h12v6h-12zM132 726h18v6h-18zM138 732h18v6h-18zM144 738h12v6h-12zM150 744h12v6h-12zM156 750h12v6h-12zM156 756h18v6h-18z"/><path fill="#fffa00" d="M510 198h6v6h-6zM504 204h6v6h-6zM624 228h12v6h-12zM624 234h12v6h-12zM474 240h6v6h-6zM624 240h6v6h-6zM462 246h6v6h-6zM618 246h12v6h-12zM618 252h6v6h-6zM612 258h12v6h-12zM462 264h6v6h-6zM606 264h12v6h-12zM600 270h12v6h-12zM468 276h6v6h-6zM594 276h18v6h-18zM474 282h6v6h-6zM588 282h18v6h-18zM480 288h6v6h-6zM576 288h18v6h-18zM486 294h12v6h-12zM558 294h30v6h-30zM498 300h72v6h-72zM516 306h30v6h-30z"/><path fill="#fff700" d="M516 198h18v6h-18zM540 198h6v6h-6zM612 222h6v6h-6zM618 228h6v6h-6zM618 234h6v6h-6zM498 240h6v6h-6zM612 240h12v6h-12zM612 246h6v6h-6zM462 252h6v6h-6zM606 252h12v6h-12zM462 258h6v6h-6zM600 258h12v6h-12zM468 264h6v6h-6zM594 264h12v6h-12zM468 270h6v6h-6zM588 270h12v6h-12zM474 276h6v6h-6zM576 276h18v6h-18zM480 282h6v6h-6zM564 282h24v6h-24zM486 288h12v6h-12zM552 288h24v6h-24zM498 294h60v6h-60z"/><path fill="#fff500" d="M534 198h6v6h-6zM594 204h6v6h-6zM606 216h6v6h-6zM612 228h6v6h-6zM606 234h12v6h-12zM492 240h6v6h-6zM606 240h6v6h-6zM468 246h6v6h-6zM600 246h12v6h-12zM594 252h12v6h-12zM468 258h6v6h-6zM588 258h12v6h-12zM582 264h12v6h-12zM474 270h6v6h-6zM576 270h12v6h-12zM480 276h6v6h-6zM564 276h12v6h-12zM486 282h12v6h-12zM552 282h12v6h-12zM498 288h54v6h-54z"/><path fill="#fcff03" d="M546 198h6v6h-6zM564 198h6v6h-6zM582 198h6v6h-6zM648 216h6v6h-6zM624 222h12v6h-12zM654 222h6v6h-6zM504 228h6v6h-6zM654 228h6v6h-6zM648 234h6v6h-6zM648 240h6v6h-6zM642 246h12v6h-12zM450 252h6v6h-6zM642 252h6v6h-6zM450 258h6v6h-6zM636 258h12v6h-12zM636 264h6v6h-6zM636 270h6v6h-6zM456 276h6v6h-6zM630 276h12v6h-12zM462 282h6v6h-6zM630 282h6v6h-6zM624 288h12v6h-12zM468 294h6v6h-6zM624 294h12v6h-12zM474 300h6v6h-6zM624 300h12v6h-12zM480 306h6v6h-6zM618 306h18v6h-18zM486 312h6v6h-6zM618 312h18v6h-18zM492 318h12v6h-12zM612 318h18v6h-18zM498 324h18v6h-18zM606 324h30v6h-30zM510 330h24v6h-24zM600 330h36v6h-36zM516 336h120v6h-120zM528 342h108v6h-108zM534 348h102v6h-102zM552 354h84v6h-84zM564 360h72v6h-72zM576 366h60v6h-60zM588 372h42v6h-42zM624 498h54v6h-54zM618 504h60v6h-60zM618 510h60v6h-60zM612 516h66v6h-66zM612 522h66v6h-66zM612 528h66v6h-66zM612 534h66v6h-66zM618 540h54v6h-54zM624 546h48v6h-48zM630 552h36v6h-36zM642 558h12v6h-12z"/><path fill="#faff05" d="M552 198h12v6h-12zM612 216h6v6h-6zM642 216h6v6h-6zM654 216h6v6h-6zM660 228h6v6h-6zM504 234h6v6h-6zM654 234h12v6h-12zM468 240h6v6h-6zM654 240h6v6h-6zM450 246h6v6h-6zM654 246h6v6h-6zM648 252h6v6h-6zM648 258h6v6h-6zM450 264h6v6h-6zM642 264h12v6h-12zM450 270h6v6h-6zM642 270h6v6h-6zM642 276h6v6h-6zM456 282h6v6h-6zM636 282h12v6h-12zM462 288h6v6h-6zM636 288h12v6h-12zM636 294h12v6h-12zM468 300h6v6h-6zM636 300h12v6h-12zM474 306h6v6h-6zM636 306h12v6h-12zM480 312h6v6h-6zM636 312h12v6h-12zM486 318h6v6h-6zM630 318h18v6h-18zM492 324h6v6h-6zM636 324h12v6h-12zM498 330h12v6h-12zM636 330h18v6h-18zM504 336h12v6h-12zM636 336h18v6h-18zM510 342h18v6h-18zM636 342h24v6h-24zM516 348h18v6h-18zM636 348h24v6h-24zM522 354h30v6h-30zM636 354h30v6h-30zM522 360h42v6h-42zM636 360h30v6h-30zM528 366h48v6h-48zM636 366h36v6h-36zM534 372h54v6h-54zM630 372h42v6h-42zM540 378h138v6h-138zM552 384h126v6h-126zM558 390h120v6h-120zM564 396h120v6h-120zM576 402h108v6h-108zM582 408h102v6h-102zM594 414h84v6h-84zM600 420h78v6h-78zM606 426h72v6h-72zM612 432h54v6h-54zM618 438h36v6h-36zM618 444h30v6h-30zM618 450h24v6h-24zM618 456h24v6h-24zM612 462h24v6h-24zM612 468h18v6h-18zM606 474h24v6h-24zM606 480h24v6h-24zM600 486h30v6h-30zM672 486h18v6h-18zM600 492h42v6h-42zM660 492h30v6h-30zM594 498h30v6h-30zM678 498h12v6h-12zM594 504h24v6h-24zM678 504h18v6h-18zM594 510h24v6h-24zM678 510h18v6h-18zM594 516h18v6h-18zM678 516h18v6h-18zM594 522h18v6h-18zM678 522h18v6h-18zM594 528h18v6h-18zM678 528h12v6h-12zM600 534h12v6h-12zM678 534h12v6h-12zM600 540h18v6h-18zM672 540h18v6h-18zM606 546h18v6h-18zM672 546h18v6h-18zM612 552h18v6h-18zM666 552h18v6h-18zM618 558h24v6h-24zM654 558h24v6h-24zM624 564h48v6h-48zM636 570h24v6h-24z"/><path fill="#ffff00" d="M570 198h12v6h-12zM600 204h6v6h-6zM606 210h6v6h-6zM618 222h6v6h-6zM636 222h18v6h-18zM642 228h12v6h-12zM642 234h6v6h-6zM642 240h6v6h-6zM456 246h6v6h-6zM636 246h6v6h-6zM636 252h6v6h-6zM630 258h6v6h-6zM456 264h6v6h-6zM630 264h6v6h-6zM456 270h6v6h-6zM624 270h12v6h-12zM462 276h6v6h-6zM624 276h6v6h-6zM618 282h12v6h-12zM468 288h6v6h-6zM612 288h12v6h-12zM474 294h6v6h-6zM606 294h18v6h-18zM480 300h6v6h-6zM606 300h18v6h-18zM486 306h12v6h-12zM594 306h24v6h-24zM492 312h18v6h-18zM582 312h36v6h-36zM504 318h108v6h-108zM516 324h90v6h-90zM534 330h66v6h-66z"/><path fill="#f7ff08" d="M588 198h6v6h-6zM660 222h6v6h-6zM666 234h6v6h-6zM660 240h6v6h-6zM444 246h6v6h-6zM660 246h6v6h-6zM444 252h6v6h-6zM654 252h12v6h-12zM444 258h6v6h-6zM654 258h6v6h-6zM444 264h6v6h-6zM654 264h6v6h-6zM648 270h12v6h-12zM450 276h6v6h-6zM648 276h6v6h-6zM648 282h6v6h-6zM456 288h6v6h-6zM648 288h6v6h-6zM462 294h6v6h-6zM648 294h6v6h-6zM648 300h6v6h-6zM468 306h6v6h-6zM648 306h6v6h-6zM474 312h6v6h-6zM648 312h12v6h-12zM480 318h6v6h-6zM648 318h12v6h-12zM486 324h6v6h-6zM648 324h18v6h-18zM492 330h6v6h-6zM654 330h12v6h-12zM492 336h12v6h-12zM654 336h18v6h-18zM498 342h12v6h-12zM660 342h18v6h-18zM504 348h12v6h-12zM660 348h24v6h-24zM504 354h18v6h-18zM666 354h24v6h-24zM510 360h12v6h-12zM666 360h24v6h-24zM510 366h18v6h-18zM672 366h24v6h-24zM516 372h18v6h-18zM672 372h30v6h-30zM516 378h24v6h-24zM678 378h24v6h-24zM522 384h30v6h-30zM678 384h24v6h-24zM522 390h36v6h-36zM678 390h30v6h-30zM528 396h36v6h-36zM684 396h24v6h-24zM534 402h42v6h-42zM684 402h24v6h-24zM540 408h42v6h-42zM684 408h18v6h-18zM546 414h48v6h-48zM678 414h24v6h-24zM552 420h48v6h-48zM678 420h24v6h-24zM558 426h48v6h-48zM678 426h18v6h-18zM564 432h48v6h-48zM666 432h12v6h-12zM570 438h48v6h-48zM654 438h6v6h-6zM570 444h48v6h-48zM648 444h6v6h-6zM576 450h42v6h-42zM642 450h6v6h-6zM576 456h42v6h-42zM576 462h36v6h-36zM636 462h6v6h-6zM576 468h36v6h-36zM630 468h6v6h-6zM576 474h30v6h-30zM582 480h24v6h-24zM684 480h18v6h-18zM588 486h12v6h-12zM630 486h6v6h-6zM690 486h12v6h-12zM588 492h12v6h-12zM654 492h6v6h-6zM690 492h12v6h-12zM588 498h6v6h-6zM690 498h12v6h-12zM588 504h6v6h-6zM696 504h6v6h-6zM588 510h6v6h-6zM696 510h6v6h-6zM588 516h6v6h-6zM696 516h6v6h-6zM588 522h6v6h-6zM696 522h6v6h-6zM588 528h6v6h-6zM690 528h12v6h-12zM588 534h12v6h-12zM690 534h12v6h-12zM588 540h12v6h-12zM690 540h12v6h-12zM594 546h12v6h-12zM690 546h12v6h-12zM600 552h12v6h-12zM684 552h12v6h-12zM606 558h12v6h-12zM678 558h18v6h-18zM612 564h12v6h-12zM672 564h18v6h-18zM618 570h18v6h-18zM660 570h24v6h-24zM630 576h42v6h-42zM132 750h6v6h-6zM132 756h12v6h-12z"/><path fill="#f0ff0f" d="M594 198h6v6h-6zM648 210h6v6h-6zM438 240h12v6h-12zM462 240h6v6h-6zM678 246h6v6h-6zM678 252h6v6h-6zM678 258h6v6h-6zM672 264h12v6h-12zM438 270h6v6h-6zM672 270h12v6h-12zM672 276h12v6h-12zM444 282h6v6h-6zM672 282h12v6h-12zM672 288h12v6h-12zM450 294h6v6h-6zM672 294h12v6h-12zM678 300h12v6h-12zM678 306h12v6h-12zM462 312h6v6h-6zM684 312h12v6h-12zM690 318h12v6h-12zM468 324h6v6h-6zM696 324h12v6h-12zM474 330h6v6h-6zM702 330h6v6h-6zM708 336h6v6h-6zM480 342h6v6h-6zM714 342h6v6h-6zM480 348h6v6h-6zM720 348h6v6h-6zM486 354h6v6h-6zM726 354h6v6h-6zM486 360h6v6h-6zM732 360h6v6h-6zM486 366h6v6h-6zM732 366h6v6h-6zM486 372h6v6h-6zM732 372h12v6h-12zM486 378h12v6h-12zM738 378h6v6h-6zM486 384h12v6h-12zM738 384h12v6h-12zM486 390h12v6h-12zM732 390h12v6h-12zM486 396h12v6h-12zM732 396h12v6h-12zM486 402h12v6h-12zM732 402h12v6h-12zM486 408h12v6h-12zM732 408h12v6h-12zM486 414h12v6h-12zM732 414h12v6h-12zM486 420h12v6h-12zM726 420h12v6h-12zM486 426h12v6h-12zM486 432h12v6h-12zM684 432h6v6h-6zM486 438h18v6h-18zM666 438h6v6h-6zM486 444h18v6h-18zM492 450h18v6h-18zM648 450h6v6h-6zM498 456h18v6h-18zM498 462h24v6h-24zM504 468h18v6h-18zM714 468h6v6h-6zM510 474h18v6h-18zM690 474h6v6h-6zM546 480h6v6h-6zM672 480h6v6h-6zM726 480h6v6h-6zM576 486h6v6h-6zM636 486h6v6h-6zM726 486h18v6h-18zM732 492h18v6h-18zM732 498h24v6h-24zM732 504h24v6h-24zM732 510h24v6h-24zM732 516h24v6h-24zM732 522h24v6h-24zM732 528h24v6h-24zM732 534h18v6h-18zM576 540h6v6h-6zM732 540h18v6h-18zM570 546h6v6h-6zM726 546h24v6h-24zM576 552h6v6h-6zM726 552h18v6h-18zM582 558h6v6h-6zM720 558h18v6h-18zM588 564h6v6h-6zM720 564h12v6h-12zM594 570h6v6h-6zM714 570h12v6h-12zM600 576h6v6h-6zM708 576h12v6h-12zM606 582h12v6h-12zM696 582h18v6h-18zM612 588h12v6h-12zM690 588h12v6h-12zM624 594h18v6h-18zM672 594h18v6h-18zM642 600h36v6h-36zM132 702h6v6h-6zM132 708h12v6h-12zM138 714h12v6h-12zM144 720h12v6h-12zM150 726h12v6h-12zM156 732h12v6h-12zM156 738h18v6h-18zM162 744h12v6h-12zM168 750h12v6h-12zM300 750h18v6h-18zM174 756h12v6h-12zM288 756h36v6h-36z"/><path fill="#54ffab" d="M384 204h6v6h-6zM402 210h6v6h-6zM390 216h6v6h-6zM342 336h6v6h-6zM396 342h6v6h-6zM348 354h6v6h-6zM750 438h6v6h-6zM750 456h12v6h-12zM786 462h6v6h-6zM204 486h24v6h-24zM144 492h36v6h-36zM486 522h6v6h-6zM906 522h6v6h-6zM444 570h6v6h-6zM432 588h6v6h-6zM402 594h6v6h-6zM456 594h6v6h-6zM456 600h6v6h-6zM462 612h6v6h-6zM462 618h6v6h-6zM462 624h6v6h-6zM468 630h6v6h-6zM468 636h6v6h-6zM474 648h6v6h-6zM480 654h6v6h-6zM480 660h6v6h-6zM222 666h6v6h-6zM300 666h6v6h-6zM486 666h6v6h-6zM492 672h6v6h-6zM264 678h6v6h-6zM492 678h6v6h-6zM360 684h6v6h-6zM558 696h6v6h-6zM516 702h12v6h-12zM528 708h12v6h-12zM534 714h12v6h-12zM540 720h12v6h-12zM546 726h12v6h-12zM552 732h12v6h-12zM552 738h12v6h-12zM558 744h12v6h-12zM558 750h12v6h-12zM558 756h12v6h-12z"/><path fill="#42ffbd" d="M390 204h6v6h-6zM384 372h6v6h-6zM210 510h18v6h-18zM234 510h6v6h-6zM180 516h24v6h-24zM240 516h6v6h-6zM156 522h24v6h-24zM246 522h6v6h-6zM138 528h24v6h-24zM132 534h24v6h-24zM132 540h24v6h-24zM132 546h24v6h-24zM138 552h18v6h-18zM138 558h24v6h-24zM144 564h18v6h-18zM150 570h18v6h-18zM462 570h6v6h-6zM156 576h12v6h-12zM156 582h12v6h-12zM162 588h12v6h-12zM162 594h12v6h-12zM168 600h6v6h-6zM390 600h18v6h-18zM168 606h6v6h-6zM330 606h6v6h-6zM408 606h12v6h-12zM168 612h12v6h-12zM408 612h18v6h-18zM168 618h12v6h-12zM414 618h12v6h-12zM174 624h6v6h-6zM414 624h12v6h-12zM414 630h12v6h-12zM186 636h6v6h-6zM414 636h18v6h-18zM192 642h6v6h-6zM414 642h18v6h-18zM198 648h6v6h-6zM414 648h18v6h-18zM414 654h18v6h-18zM414 660h24v6h-24zM336 666h6v6h-6zM414 666h24v6h-24zM348 672h6v6h-6zM414 672h24v6h-24zM408 678h30v6h-30zM366 684h6v6h-6zM408 684h30v6h-30zM408 690h30v6h-30zM408 696h30v6h-30zM390 702h6v6h-6zM402 702h42v6h-42zM396 708h48v6h-48zM402 714h42v6h-42zM408 720h30v6h-30zM414 726h24v6h-24zM420 732h18v6h-18zM420 738h18v6h-18zM420 744h18v6h-18zM420 750h18v6h-18zM420 756h18v6h-18z"/><path fill="#45ffba" d="M396 204h6v6h-6zM342 324h6v6h-6zM342 330h6v6h-6zM348 366h6v6h-6zM750 450h12v6h-12zM222 504h12v6h-12zM492 504h6v6h-6zM186 510h24v6h-24zM492 510h6v6h-6zM150 516h30v6h-30zM132 522h24v6h-24zM132 528h6v6h-6zM132 552h6v6h-6zM132 558h6v6h-6zM132 564h12v6h-12zM270 564h6v6h-6zM132 570h18v6h-18zM138 576h18v6h-18zM138 582h18v6h-18zM444 582h6v6h-6zM144 588h18v6h-18zM150 594h12v6h-12zM150 600h18v6h-18zM384 600h6v6h-6zM408 600h24v6h-24zM156 606h12v6h-12zM336 606h6v6h-6zM420 606h12v6h-12zM156 612h12v6h-12zM426 612h6v6h-6zM156 618h12v6h-12zM426 618h12v6h-12zM162 624h12v6h-12zM426 624h12v6h-12zM174 630h6v6h-6zM426 630h12v6h-12zM432 636h12v6h-12zM432 642h12v6h-12zM432 648h12v6h-12zM432 654h18v6h-18zM438 660h12v6h-12zM228 666h6v6h-6zM438 666h12v6h-12zM438 672h18v6h-18zM438 678h18v6h-18zM438 684h18v6h-18zM372 690h6v6h-6zM438 690h24v6h-24zM438 696h24v6h-24zM444 702h18v6h-18zM444 708h18v6h-18zM444 714h24v6h-24zM438 720h30v6h-30zM438 726h30v6h-30zM414 732h6v6h-6zM438 732h30v6h-30zM438 738h30v6h-30zM438 744h30v6h-30zM438 750h24v6h-24zM438 756h24v6h-24z"/><path fill="#ffe300" d="M510 204h6v6h-6zM540 204h6v6h-6zM558 210h6v6h-6zM558 216h6v6h-6zM558 222h6v6h-6zM510 228h6v6h-6zM558 228h6v6h-6zM552 240h6v6h-6zM498 246h6v6h-6zM546 246h6v6h-6zM492 252h6v6h-6zM498 258h12v6h-12zM534 258h6v6h-6zM516 264h6v6h-6z"/><path fill="#ffde00" d="M516 204h18v6h-18zM546 210h6v6h-6zM546 216h6v6h-6zM546 222h6v6h-6zM546 228h6v6h-6zM546 234h6v6h-6zM510 240h6v6h-6zM540 240h6v6h-6zM540 246h6v6h-6zM504 252h6v6h-6zM528 252h6v6h-6z"/><path fill="#ffe000" d="M534 204h6v6h-6zM552 210h6v6h-6zM552 216h6v6h-6zM552 222h6v6h-6zM552 228h6v6h-6zM552 234h6v6h-6zM546 240h6v6h-6zM504 246h6v6h-6zM498 252h6v6h-6zM534 252h12v6h-12zM510 258h24v6h-24z"/><path fill="#ffe500" d="M546 204h6v6h-6zM564 210h12v6h-12zM504 216h6v6h-6zM564 216h12v6h-12zM564 222h6v6h-6zM564 228h6v6h-6zM510 234h6v6h-6zM558 234h6v6h-6zM558 240h6v6h-6zM486 246h12v6h-12zM552 246h6v6h-6zM546 252h6v6h-6zM492 258h6v6h-6zM540 258h6v6h-6zM504 264h12v6h-12zM522 264h18v6h-18z"/><path fill="#ffe800" d="M552 204h12v6h-12zM576 210h6v6h-6zM576 216h6v6h-6zM570 222h6v6h-6zM570 228h6v6h-6zM564 234h12v6h-12zM564 240h6v6h-6zM558 246h6v6h-6zM486 252h6v6h-6zM552 252h6v6h-6zM546 258h6v6h-6zM498 264h6v6h-6zM540 264h6v6h-6zM510 270h18v6h-18z"/><path fill="#ffeb00" d="M564 204h12v6h-12zM582 210h6v6h-6zM582 216h6v6h-6zM576 222h12v6h-12zM576 228h6v6h-6zM576 234h6v6h-6zM570 240h6v6h-6zM480 246h6v6h-6zM564 246h6v6h-6zM480 252h6v6h-6zM558 252h12v6h-12zM486 258h6v6h-6zM552 258h12v6h-12zM492 264h6v6h-6zM546 264h6v6h-6zM498 270h12v6h-12zM528 270h12v6h-12z"/><path fill="#ffed00" d="M576 204h12v6h-12zM504 210h6v6h-6zM588 210h12v6h-12zM588 216h12v6h-12zM504 222h6v6h-6zM588 222h6v6h-6zM582 228h12v6h-12zM582 234h6v6h-6zM486 240h6v6h-6zM504 240h6v6h-6zM576 240h12v6h-12zM570 246h12v6h-12zM570 252h6v6h-6zM480 258h6v6h-6zM564 258h6v6h-6zM486 264h6v6h-6zM552 264h12v6h-12zM492 270h6v6h-6zM540 270h12v6h-12zM504 276h36v6h-36z"/><path fill="#fff000" d="M588 204h6v6h-6zM600 216h6v6h-6zM594 222h12v6h-12zM594 228h6v6h-6zM588 234h12v6h-12zM480 240h6v6h-6zM588 240h6v6h-6zM474 246h6v6h-6zM582 246h6v6h-6zM474 252h6v6h-6zM576 252h6v6h-6zM474 258h6v6h-6zM570 258h6v6h-6zM480 264h6v6h-6zM564 264h6v6h-6zM486 270h6v6h-6zM552 270h12v6h-12zM492 276h12v6h-12zM540 276h12v6h-12zM510 282h24v6h-24z"/><path fill="#ebff14" d="M606 204h6v6h-6zM432 234h6v6h-6zM450 240h6v6h-6zM684 246h6v6h-6zM684 252h6v6h-6zM432 264h6v6h-6zM432 270h6v6h-6zM684 276h6v6h-6zM438 282h6v6h-6zM444 294h6v6h-6zM696 306h6v6h-6zM456 312h6v6h-6zM462 324h6v6h-6zM468 336h6v6h-6zM714 336h6v6h-6zM474 348h6v6h-6zM726 348h6v6h-6zM474 354h6v6h-6zM732 354h6v6h-6zM474 360h6v6h-6zM474 366h6v6h-6zM756 378h12v6h-12zM474 384h6v6h-6zM756 384h18v6h-18zM474 390h6v6h-6zM756 390h18v6h-18zM474 396h6v6h-6zM756 396h18v6h-18zM474 402h6v6h-6zM756 402h18v6h-18zM474 408h6v6h-6zM756 408h12v6h-12zM468 414h12v6h-12zM756 414h12v6h-12zM468 420h6v6h-6zM744 420h6v6h-6zM468 426h6v6h-6zM462 432h12v6h-12zM690 432h6v6h-6zM462 438h12v6h-12zM462 444h12v6h-12zM462 450h12v6h-12zM462 456h18v6h-18zM468 462h18v6h-18zM714 462h6v6h-6zM474 468h18v6h-18zM696 468h6v6h-6zM486 474h12v6h-12zM498 480h12v6h-12zM738 480h6v6h-6zM768 486h6v6h-6zM372 492h18v6h-18zM774 492h12v6h-12zM366 498h30v6h-30zM774 498h18v6h-18zM360 504h36v6h-36zM582 504h6v6h-6zM774 504h18v6h-18zM360 510h42v6h-42zM774 510h18v6h-18zM360 516h42v6h-42zM774 516h18v6h-18zM360 522h42v6h-42zM774 522h18v6h-18zM360 528h18v6h-18zM384 528h18v6h-18zM576 528h6v6h-6zM774 528h12v6h-12zM360 534h18v6h-18zM384 534h18v6h-18zM774 534h12v6h-12zM366 540h12v6h-12zM390 540h18v6h-18zM768 540h18v6h-18zM366 546h42v6h-42zM768 546h12v6h-12zM366 552h42v6h-42zM762 552h18v6h-18zM372 558h36v6h-36zM756 558h18v6h-18zM378 564h36v6h-36zM570 564h6v6h-6zM750 564h18v6h-18zM378 570h30v6h-30zM576 570h6v6h-6zM744 570h18v6h-18zM582 576h6v6h-6zM738 576h18v6h-18zM588 582h12v6h-12zM726 582h18v6h-18zM600 588h6v6h-6zM720 588h12v6h-12zM606 594h12v6h-12zM708 594h12v6h-12zM618 600h12v6h-12zM696 600h12v6h-12zM630 606h18v6h-18zM678 606h18v6h-18zM654 612h24v6h-24zM132 684h6v6h-6zM138 690h6v6h-6zM144 696h6v6h-6zM150 702h6v6h-6zM156 708h6v6h-6zM162 714h12v6h-12zM168 720h12v6h-12zM174 726h12v6h-12zM180 732h12v6h-12zM306 732h18v6h-18zM186 738h12v6h-12zM288 738h42v6h-42zM192 744h12v6h-12zM282 744h12v6h-12zM324 744h6v6h-6zM192 750h18v6h-18zM270 750h12v6h-12zM330 750h6v6h-6zM198 756h18v6h-18zM264 756h12v6h-12zM330 756h6v6h-6z"/><path fill="#40ffbf" d="M390 210h12v6h-12zM372 330h6v6h-6zM378 336h6v6h-6zM354 348h6v6h-6zM366 378h6v6h-6zM228 510h6v6h-6zM204 516h18v6h-18zM180 522h24v6h-24zM162 528h24v6h-24zM156 534h24v6h-24zM156 540h18v6h-18zM156 546h18v6h-18zM156 552h18v6h-18zM264 552h6v6h-6zM162 558h12v6h-12zM162 564h12v6h-12zM168 570h12v6h-12zM168 576h12v6h-12zM444 576h6v6h-6zM168 582h12v6h-12zM174 588h6v6h-6zM174 594h12v6h-12zM174 600h12v6h-12zM174 606h12v6h-12zM342 606h6v6h-6zM396 606h12v6h-12zM180 612h6v6h-6zM396 612h12v6h-12zM180 618h6v6h-6zM402 618h12v6h-12zM180 624h6v6h-6zM402 624h12v6h-12zM180 630h6v6h-6zM402 630h12v6h-12zM402 636h12v6h-12zM402 642h12v6h-12zM402 648h12v6h-12zM402 654h12v6h-12zM216 660h6v6h-6zM402 660h12v6h-12zM294 666h6v6h-6zM396 666h18v6h-18zM276 672h6v6h-6zM396 672h18v6h-18zM396 678h12v6h-12zM390 684h18v6h-18zM564 684h6v6h-6zM378 690h6v6h-6zM390 690h18v6h-18zM384 696h24v6h-24zM396 702h6v6h-6z"/><path fill="#e5ff1a" d="M498 210h6v6h-6zM612 210h6v6h-6zM642 210h6v6h-6zM630 216h6v6h-6zM492 234h6v6h-6zM426 264h6v6h-6zM432 282h6v6h-6zM444 300h6v6h-6zM450 312h6v6h-6zM456 324h6v6h-6zM462 336h6v6h-6zM468 354h6v6h-6zM468 360h6v6h-6zM786 360h6v6h-6zM468 366h6v6h-6zM744 366h6v6h-6zM780 366h18v6h-18zM468 372h6v6h-6zM774 372h24v6h-24zM468 378h6v6h-6zM786 378h12v6h-12zM468 384h6v6h-6zM786 384h12v6h-12zM468 390h6v6h-6zM786 390h12v6h-12zM786 396h12v6h-12zM462 402h6v6h-6zM786 402h12v6h-12zM462 408h6v6h-6zM786 408h12v6h-12zM456 414h6v6h-6zM786 414h12v6h-12zM456 420h6v6h-6zM756 420h18v6h-18zM780 420h18v6h-18zM450 426h6v6h-6zM720 426h6v6h-6zM450 432h6v6h-6zM696 432h6v6h-6zM444 438h6v6h-6zM672 438h6v6h-6zM438 444h12v6h-12zM432 450h12v6h-12zM420 456h24v6h-24zM390 462h54v6h-54zM702 462h6v6h-6zM366 468h84v6h-84zM354 474h24v6h-24zM408 474h54v6h-54zM726 474h6v6h-6zM348 480h18v6h-18zM414 480h54v6h-54zM492 480h6v6h-6zM756 480h12v6h-12zM348 486h12v6h-12zM414 486h42v6h-42zM504 486h12v6h-12zM558 486h12v6h-12zM342 492h12v6h-12zM414 492h24v6h-24zM792 492h6v6h-6zM342 498h12v6h-12zM414 498h18v6h-18zM804 498h6v6h-6zM342 504h6v6h-6zM414 504h12v6h-12zM804 504h12v6h-12zM342 510h6v6h-6zM414 510h12v6h-12zM804 510h12v6h-12zM342 516h6v6h-6zM414 516h12v6h-12zM804 516h6v6h-6zM342 522h6v6h-6zM414 522h12v6h-12zM804 522h6v6h-6zM342 528h12v6h-12zM414 528h12v6h-12zM798 528h12v6h-12zM348 534h6v6h-6zM414 534h12v6h-12zM570 534h6v6h-6zM798 534h12v6h-12zM348 540h6v6h-6zM414 540h12v6h-12zM564 540h6v6h-6zM798 540h12v6h-12zM348 546h6v6h-6zM420 546h6v6h-6zM792 546h12v6h-12zM354 552h6v6h-6zM420 552h6v6h-6zM792 552h12v6h-12zM354 558h6v6h-6zM420 558h6v6h-6zM786 558h12v6h-12zM360 564h6v6h-6zM420 564h6v6h-6zM786 564h12v6h-12zM360 570h12v6h-12zM564 570h6v6h-6zM780 570h12v6h-12zM366 576h6v6h-6zM396 576h6v6h-6zM570 576h6v6h-6zM768 576h18v6h-18zM570 582h12v6h-12zM762 582h18v6h-18zM582 588h6v6h-6zM750 588h18v6h-18zM588 594h12v6h-12zM738 594h18v6h-18zM600 600h6v6h-6zM726 600h12v6h-12zM612 606h6v6h-6zM714 606h12v6h-12zM624 612h12v6h-12zM702 612h12v6h-12zM642 618h18v6h-18zM678 618h24v6h-24zM132 666h6v6h-6zM138 672h6v6h-6zM144 678h6v6h-6zM150 684h6v6h-6zM156 690h6v6h-6zM162 696h12v6h-12zM168 702h12v6h-12zM174 708h12v6h-12zM180 714h12v6h-12zM312 714h12v6h-12zM186 720h12v6h-12zM294 720h36v6h-36zM192 726h12v6h-12zM288 726h12v6h-12zM330 726h6v6h-6zM204 732h12v6h-12zM276 732h12v6h-12zM330 732h12v6h-12zM210 738h12v6h-12zM264 738h12v6h-12zM336 738h6v6h-6zM216 744h24v6h-24zM246 744h24v6h-24zM336 744h6v6h-6zM222 750h36v6h-36zM342 756h6v6h-6z"/><path fill="#ffdb00" d="M510 210h6v6h-6zM540 210h6v6h-6zM540 216h6v6h-6zM510 222h6v6h-6zM540 222h6v6h-6zM540 228h6v6h-6zM540 234h6v6h-6zM510 246h6v6h-6zM534 246h6v6h-6zM510 252h18v6h-18z"/><path fill="#ffd900" d="M516 210h24v6h-24zM510 216h6v6h-6zM534 216h6v6h-6zM534 222h6v6h-6zM534 228h6v6h-6zM534 234h6v6h-6zM528 240h12v6h-12zM516 246h18v6h-18z"/><path fill="#fff200" d="M600 210h6v6h-6zM606 222h6v6h-6zM600 228h12v6h-12zM600 234h6v6h-6zM594 240h12v6h-12zM588 246h12v6h-12zM468 252h6v6h-6zM582 252h12v6h-12zM576 258h12v6h-12zM474 264h6v6h-6zM570 264h12v6h-12zM480 270h6v6h-6zM564 270h12v6h-12zM486 276h6v6h-6zM552 276h12v6h-12zM498 282h12v6h-12zM534 282h18v6h-18z"/><path fill="#edff12" d="M654 210h6v6h-6zM666 222h6v6h-6zM432 240h6v6h-6zM678 240h6v6h-6zM432 246h6v6h-6zM432 252h6v6h-6zM432 258h6v6h-6zM438 276h6v6h-6zM684 282h6v6h-6zM444 288h6v6h-6zM684 288h6v6h-6zM684 294h6v6h-6zM450 300h6v6h-6zM690 300h6v6h-6zM456 306h6v6h-6zM690 306h6v6h-6zM696 312h6v6h-6zM462 318h6v6h-6zM702 318h6v6h-6zM468 330h6v6h-6zM708 330h6v6h-6zM474 336h6v6h-6zM474 342h6v6h-6zM480 354h6v6h-6zM480 360h6v6h-6zM480 366h6v6h-6zM738 366h6v6h-6zM480 372h6v6h-6zM744 372h6v6h-6zM480 378h6v6h-6zM744 378h12v6h-12zM480 384h6v6h-6zM750 384h6v6h-6zM480 390h6v6h-6zM744 390h12v6h-12zM480 396h6v6h-6zM744 396h12v6h-12zM480 402h6v6h-6zM744 402h12v6h-12zM480 408h6v6h-6zM744 408h12v6h-12zM480 414h6v6h-6zM744 414h12v6h-12zM474 420h12v6h-12zM738 420h6v6h-6zM474 426h12v6h-12zM708 426h6v6h-6zM474 432h12v6h-12zM474 438h12v6h-12zM474 444h12v6h-12zM474 450h18v6h-18zM480 456h18v6h-18zM486 462h12v6h-12zM642 462h6v6h-6zM708 462h6v6h-6zM492 468h12v6h-12zM498 474h12v6h-12zM720 474h6v6h-6zM510 480h36v6h-36zM732 480h6v6h-6zM660 486h6v6h-6zM744 486h24v6h-24zM750 492h24v6h-24zM582 498h6v6h-6zM756 498h18v6h-18zM756 504h18v6h-18zM582 510h6v6h-6zM756 510h18v6h-18zM756 516h18v6h-18zM756 522h18v6h-18zM378 528h6v6h-6zM756 528h18v6h-18zM378 534h6v6h-6zM576 534h6v6h-6zM750 534h24v6h-24zM378 540h12v6h-12zM570 540h6v6h-6zM750 540h18v6h-18zM750 546h18v6h-18zM570 552h6v6h-6zM744 552h18v6h-18zM570 558h12v6h-12zM738 558h18v6h-18zM576 564h12v6h-12zM732 564h18v6h-18zM582 570h12v6h-12zM726 570h18v6h-18zM588 576h12v6h-12zM720 576h18v6h-18zM600 582h6v6h-6zM714 582h12v6h-12zM606 588h6v6h-6zM702 588h18v6h-18zM618 594h6v6h-6zM690 594h18v6h-18zM630 600h12v6h-12zM678 600h18v6h-18zM648 606h30v6h-30zM132 690h6v6h-6zM132 696h12v6h-12zM138 702h12v6h-12zM144 708h12v6h-12zM150 714h12v6h-12zM156 720h12v6h-12zM162 726h12v6h-12zM168 732h12v6h-12zM174 738h12v6h-12zM174 744h18v6h-18zM294 744h30v6h-30zM180 750h12v6h-12zM282 750h18v6h-18zM318 750h12v6h-12zM186 756h12v6h-12zM276 756h12v6h-12zM324 756h6v6h-6z"/><path fill="#deff21" d="M660 210h6v6h-6zM624 216h6v6h-6zM666 216h6v6h-6zM420 228h6v6h-6zM414 234h6v6h-6zM414 240h6v6h-6zM414 246h6v6h-6zM414 252h6v6h-6zM300 264h12v6h-12zM780 264h6v6h-6zM288 270h18v6h-18zM420 270h6v6h-6zM780 270h6v6h-6zM282 276h18v6h-18zM780 276h12v6h-12zM276 282h18v6h-18zM426 282h6v6h-6zM780 282h18v6h-18zM276 288h12v6h-12zM786 288h18v6h-18zM432 294h6v6h-6zM786 294h18v6h-18zM786 300h6v6h-6zM798 300h12v6h-12zM804 306h6v6h-6zM804 312h12v6h-12zM804 318h12v6h-12zM810 324h12v6h-12zM810 330h12v6h-12zM816 336h6v6h-6zM456 342h6v6h-6zM786 342h6v6h-6zM816 342h12v6h-12zM456 348h6v6h-6zM816 348h12v6h-12zM738 354h6v6h-6zM816 354h12v6h-12zM822 360h6v6h-6zM774 366h6v6h-6zM822 366h12v6h-12zM822 372h12v6h-12zM456 378h6v6h-6zM822 378h12v6h-12zM456 384h6v6h-6zM822 384h12v6h-12zM456 390h6v6h-6zM822 390h12v6h-12zM828 396h6v6h-6zM450 402h6v6h-6zM828 402h12v6h-12zM828 408h12v6h-12zM444 414h6v6h-6zM828 414h12v6h-12zM438 420h6v6h-6zM828 420h12v6h-12zM432 426h6v6h-6zM828 426h12v6h-12zM426 432h6v6h-6zM828 432h12v6h-12zM414 438h12v6h-12zM828 438h12v6h-12zM396 444h18v6h-18zM822 444h12v6h-12zM348 450h42v6h-42zM330 456h24v6h-24zM324 462h12v6h-12zM318 468h12v6h-12zM318 474h12v6h-12zM318 480h12v6h-12zM318 486h12v6h-12zM522 486h6v6h-6zM546 486h6v6h-6zM318 492h12v6h-12zM804 492h6v6h-6zM318 498h12v6h-12zM456 498h6v6h-6zM822 498h6v6h-6zM318 504h12v6h-12zM318 510h12v6h-12zM828 510h6v6h-6zM318 516h12v6h-12zM444 516h6v6h-6zM324 522h6v6h-6zM444 522h6v6h-6zM834 522h6v6h-6zM324 528h6v6h-6zM444 528h6v6h-6zM570 528h6v6h-6zM828 528h12v6h-12zM324 534h6v6h-6zM444 534h6v6h-6zM828 534h12v6h-12zM324 540h6v6h-6zM828 540h12v6h-12zM324 546h12v6h-12zM438 546h6v6h-6zM828 546h6v6h-6zM330 552h6v6h-6zM828 552h6v6h-6zM330 558h12v6h-12zM432 558h6v6h-6zM822 558h12v6h-12zM336 564h6v6h-6zM822 564h12v6h-12zM336 570h12v6h-12zM816 570h12v6h-12zM342 576h6v6h-6zM810 576h12v6h-12zM348 582h18v6h-18zM378 582h6v6h-6zM804 582h18v6h-18zM798 588h12v6h-12zM564 594h6v6h-6zM786 594h18v6h-18zM564 600h12v6h-12zM774 600h18v6h-18zM576 606h12v6h-12zM762 606h18v6h-18zM594 612h6v6h-6zM744 612h18v6h-18zM606 618h12v6h-12zM732 618h12v6h-12zM624 624h12v6h-12zM714 624h18v6h-18zM642 630h12v6h-12zM702 630h12v6h-12zM660 636h42v6h-42zM132 648h6v6h-6zM144 654h6v6h-6zM150 660h6v6h-6zM156 666h6v6h-6zM162 672h6v6h-6zM168 678h12v6h-12zM174 684h12v6h-12zM186 690h6v6h-6zM318 690h12v6h-12zM192 696h6v6h-6zM300 696h42v6h-42zM198 702h12v6h-12zM288 702h18v6h-18zM336 702h6v6h-6zM204 708h12v6h-12zM282 708h12v6h-12zM342 708h6v6h-6zM216 714h12v6h-12zM270 714h12v6h-12zM342 714h6v6h-6zM222 720h48v6h-48zM240 726h12v6h-12zM348 726h6v6h-6zM348 732h6v6h-6zM348 738h6v6h-6z"/><path fill="#f5ff0a" d="M498 216h6v6h-6zM666 228h6v6h-6zM666 240h6v6h-6zM666 246h6v6h-6zM666 252h6v6h-6zM660 258h6v6h-6zM660 264h6v6h-6zM444 270h6v6h-6zM660 270h6v6h-6zM654 276h12v6h-12zM450 282h6v6h-6zM654 282h12v6h-12zM654 288h12v6h-12zM456 294h6v6h-6zM654 294h12v6h-12zM462 300h6v6h-6zM654 300h12v6h-12zM654 306h12v6h-12zM468 312h6v6h-6zM660 312h12v6h-12zM474 318h6v6h-6zM660 318h12v6h-12zM480 324h6v6h-6zM666 324h12v6h-12zM486 330h6v6h-6zM666 330h18v6h-18zM486 336h6v6h-6zM672 336h18v6h-18zM492 342h6v6h-6zM678 342h18v6h-18zM492 348h12v6h-12zM684 348h18v6h-18zM498 354h6v6h-6zM690 354h18v6h-18zM498 360h12v6h-12zM690 360h24v6h-24zM504 366h6v6h-6zM696 366h24v6h-24zM504 372h12v6h-12zM702 372h18v6h-18zM504 378h12v6h-12zM702 378h18v6h-18zM504 384h18v6h-18zM702 384h18v6h-18zM510 390h12v6h-12zM708 390h12v6h-12zM510 396h18v6h-18zM708 396h12v6h-12zM510 402h24v6h-24zM708 402h12v6h-12zM510 408h30v6h-30zM702 408h18v6h-18zM516 414h30v6h-30zM702 414h18v6h-18zM516 420h36v6h-36zM702 420h12v6h-12zM522 426h36v6h-36zM696 426h6v6h-6zM522 432h42v6h-42zM678 432h6v6h-6zM528 438h42v6h-42zM660 438h6v6h-6zM534 444h36v6h-36zM540 450h36v6h-36zM540 456h36v6h-36zM642 456h6v6h-6zM546 462h30v6h-30zM546 468h30v6h-30zM552 474h24v6h-24zM630 474h6v6h-6zM696 474h18v6h-18zM570 480h12v6h-12zM630 480h6v6h-6zM678 480h6v6h-6zM702 480h12v6h-12zM582 486h6v6h-6zM666 486h6v6h-6zM702 486h12v6h-12zM642 492h12v6h-12zM702 492h12v6h-12zM702 498h12v6h-12zM702 504h12v6h-12zM702 510h12v6h-12zM702 516h12v6h-12zM582 522h6v6h-6zM702 522h12v6h-12zM702 528h12v6h-12zM702 534h12v6h-12zM582 540h6v6h-6zM702 540h12v6h-12zM588 546h6v6h-6zM702 546h12v6h-12zM588 552h12v6h-12zM696 552h12v6h-12zM594 558h12v6h-12zM696 558h12v6h-12zM600 564h12v6h-12zM690 564h12v6h-12zM612 570h6v6h-6zM684 570h12v6h-12zM618 576h12v6h-12zM672 576h18v6h-18zM630 582h54v6h-54zM642 588h24v6h-24zM132 732h6v6h-6zM132 738h12v6h-12zM132 744h18v6h-18zM138 750h18v6h-18zM144 756h12v6h-12z"/><path fill="#ffd600" d="M516 216h18v6h-18zM516 222h6v6h-6zM528 222h6v6h-6zM516 228h6v6h-6zM528 228h6v6h-6zM516 234h6v6h-6zM528 234h6v6h-6zM516 240h12v6h-12z"/><path fill="#e8ff17" d="M618 216h6v6h-6zM672 228h6v6h-6zM426 234h6v6h-6zM438 234h6v6h-6zM426 240h6v6h-6zM456 240h6v6h-6zM426 246h6v6h-6zM426 252h6v6h-6zM426 258h6v6h-6zM684 258h6v6h-6zM684 264h6v6h-6zM684 270h6v6h-6zM432 276h6v6h-6zM438 288h6v6h-6zM690 294h6v6h-6zM450 306h6v6h-6zM702 312h6v6h-6zM456 318h6v6h-6zM708 324h6v6h-6zM462 330h6v6h-6zM468 342h6v6h-6zM720 342h6v6h-6zM468 348h6v6h-6zM738 360h6v6h-6zM474 372h6v6h-6zM750 372h6v6h-6zM474 378h6v6h-6zM768 378h18v6h-18zM774 384h12v6h-12zM774 390h12v6h-12zM468 396h6v6h-6zM774 396h12v6h-12zM468 402h6v6h-6zM774 402h12v6h-12zM468 408h6v6h-6zM768 408h18v6h-18zM462 414h6v6h-6zM768 414h18v6h-18zM462 420h6v6h-6zM750 420h6v6h-6zM774 420h6v6h-6zM456 426h12v6h-12zM714 426h6v6h-6zM456 432h6v6h-6zM450 438h12v6h-12zM450 444h12v6h-12zM444 450h18v6h-18zM444 456h18v6h-18zM444 462h24v6h-24zM450 468h24v6h-24zM378 474h30v6h-30zM462 474h24v6h-24zM636 474h6v6h-6zM684 474h6v6h-6zM366 480h48v6h-48zM744 480h12v6h-12zM360 486h54v6h-54zM570 486h6v6h-6zM774 486h6v6h-6zM354 492h18v6h-18zM390 492h24v6h-24zM786 492h6v6h-6zM354 498h12v6h-12zM396 498h18v6h-18zM792 498h12v6h-12zM348 504h12v6h-12zM396 504h18v6h-18zM792 504h12v6h-12zM348 510h12v6h-12zM402 510h12v6h-12zM792 510h12v6h-12zM348 516h12v6h-12zM402 516h12v6h-12zM792 516h12v6h-12zM348 522h12v6h-12zM402 522h12v6h-12zM576 522h6v6h-6zM792 522h12v6h-12zM354 528h6v6h-6zM402 528h12v6h-12zM786 528h12v6h-12zM354 534h6v6h-6zM402 534h12v6h-12zM786 534h12v6h-12zM354 540h12v6h-12zM408 540h6v6h-6zM786 540h12v6h-12zM354 546h12v6h-12zM408 546h12v6h-12zM564 546h6v6h-6zM780 546h12v6h-12zM360 552h6v6h-6zM408 552h12v6h-12zM564 552h6v6h-6zM780 552h12v6h-12zM360 558h12v6h-12zM408 558h12v6h-12zM564 558h6v6h-6zM774 558h12v6h-12zM366 564h12v6h-12zM414 564h6v6h-6zM564 564h6v6h-6zM768 564h18v6h-18zM372 570h6v6h-6zM408 570h12v6h-12zM570 570h6v6h-6zM762 570h18v6h-18zM372 576h24v6h-24zM576 576h6v6h-6zM756 576h12v6h-12zM582 582h6v6h-6zM744 582h18v6h-18zM588 588h12v6h-12zM732 588h18v6h-18zM600 594h6v6h-6zM720 594h18v6h-18zM606 600h12v6h-12zM708 600h18v6h-18zM618 606h12v6h-12zM696 606h18v6h-18zM636 612h18v6h-18zM678 612h24v6h-24zM660 618h18v6h-18zM132 672h6v6h-6zM132 678h12v6h-12zM138 684h12v6h-12zM144 690h12v6h-12zM150 696h12v6h-12zM156 702h12v6h-12zM162 708h12v6h-12zM174 714h6v6h-6zM180 720h6v6h-6zM186 726h6v6h-6zM300 726h30v6h-30zM192 732h12v6h-12zM288 732h18v6h-18zM324 732h6v6h-6zM198 738h12v6h-12zM276 738h12v6h-12zM330 738h6v6h-6zM204 744h12v6h-12zM270 744h12v6h-12zM330 744h6v6h-6zM210 750h12v6h-12zM258 750h12v6h-12zM336 750h6v6h-6zM216 756h48v6h-48zM336 756h6v6h-6z"/><path fill="#ffd400" d="M522 222h6v6h-6zM522 228h6v6h-6zM522 234h6v6h-6z"/><path fill="#e3ff1c" d="M426 228h12v6h-12zM420 234h6v6h-6zM474 234h6v6h-6zM498 234h6v6h-6zM678 234h6v6h-6zM420 240h6v6h-6zM420 246h6v6h-6zM420 252h6v6h-6zM426 270h6v6h-6zM690 288h6v6h-6zM438 294h6v6h-6zM444 306h6v6h-6zM450 318h6v6h-6zM456 330h6v6h-6zM714 330h6v6h-6zM792 336h12v6h-12zM462 342h6v6h-6zM792 342h12v6h-12zM462 348h6v6h-6zM792 348h12v6h-12zM462 354h6v6h-6zM786 354h18v6h-18zM792 360h18v6h-18zM798 366h12v6h-12zM768 372h6v6h-6zM798 372h12v6h-12zM798 378h12v6h-12zM462 384h6v6h-6zM798 384h12v6h-12zM462 390h6v6h-6zM798 390h12v6h-12zM462 396h6v6h-6zM798 396h12v6h-12zM456 402h6v6h-6zM798 402h18v6h-18zM456 408h6v6h-6zM798 408h18v6h-18zM798 414h18v6h-18zM450 420h6v6h-6zM798 420h18v6h-18zM444 426h6v6h-6zM726 426h18v6h-18zM786 426h30v6h-30zM438 432h12v6h-12zM804 432h6v6h-6zM432 438h12v6h-12zM426 444h12v6h-12zM660 444h6v6h-6zM414 450h18v6h-18zM384 456h36v6h-36zM354 462h36v6h-36zM348 468h18v6h-18zM720 468h6v6h-6zM342 474h12v6h-12zM336 480h12v6h-12zM468 480h12v6h-12zM486 480h6v6h-6zM636 480h6v6h-6zM768 480h6v6h-6zM336 486h12v6h-12zM456 486h6v6h-6zM516 486h6v6h-6zM552 486h6v6h-6zM780 486h6v6h-6zM336 492h6v6h-6zM438 492h18v6h-18zM336 498h6v6h-6zM432 498h18v6h-18zM810 498h12v6h-12zM336 504h6v6h-6zM426 504h18v6h-18zM816 504h6v6h-6zM336 510h6v6h-6zM426 510h12v6h-12zM816 510h6v6h-6zM336 516h6v6h-6zM426 516h12v6h-12zM810 516h12v6h-12zM336 522h6v6h-6zM426 522h12v6h-12zM810 522h12v6h-12zM336 528h6v6h-6zM426 528h6v6h-6zM810 528h12v6h-12zM336 534h12v6h-12zM426 534h6v6h-6zM810 534h12v6h-12zM342 540h6v6h-6zM426 540h6v6h-6zM810 540h6v6h-6zM342 546h6v6h-6zM426 546h6v6h-6zM804 546h12v6h-12zM342 552h12v6h-12zM426 552h6v6h-6zM804 552h12v6h-12zM348 558h6v6h-6zM426 558h6v6h-6zM798 558h12v6h-12zM348 564h12v6h-12zM426 564h6v6h-6zM798 564h12v6h-12zM354 570h6v6h-6zM420 570h6v6h-6zM792 570h12v6h-12zM360 576h6v6h-6zM402 576h12v6h-12zM564 576h6v6h-6zM786 576h12v6h-12zM564 582h6v6h-6zM780 582h12v6h-12zM570 588h12v6h-12zM768 588h18v6h-18zM576 594h12v6h-12zM756 594h18v6h-18zM588 600h12v6h-12zM738 600h18v6h-18zM600 606h12v6h-12zM726 606h18v6h-18zM612 612h12v6h-12zM714 612h12v6h-12zM630 618h12v6h-12zM702 618h12v6h-12zM648 624h54v6h-54zM132 660h6v6h-6zM138 666h6v6h-6zM144 672h12v6h-12zM150 678h12v6h-12zM156 684h12v6h-12zM162 690h12v6h-12zM174 696h6v6h-6zM180 702h6v6h-6zM186 708h12v6h-12zM306 708h24v6h-24zM192 714h12v6h-12zM294 714h18v6h-18zM324 714h12v6h-12zM198 720h12v6h-12zM282 720h12v6h-12zM330 720h12v6h-12zM204 726h18v6h-18zM276 726h12v6h-12zM336 726h6v6h-6zM216 732h12v6h-12zM258 732h18v6h-18zM222 738h42v6h-42zM342 738h6v6h-6zM240 744h6v6h-6zM342 744h6v6h-6zM342 750h6v6h-6z"/><path fill="#fffc00" d="M636 228h6v6h-6zM636 234h6v6h-6zM630 240h12v6h-12zM630 246h6v6h-6zM456 252h6v6h-6zM624 252h12v6h-12zM456 258h6v6h-6zM624 258h6v6h-6zM618 264h12v6h-12zM462 270h6v6h-6zM612 270h12v6h-12zM612 276h12v6h-12zM468 282h6v6h-6zM606 282h12v6h-12zM474 288h6v6h-6zM594 288h18v6h-18zM480 294h6v6h-6zM588 294h18v6h-18zM486 300h12v6h-12zM570 300h36v6h-36zM498 306h18v6h-18zM546 306h48v6h-48zM510 312h72v6h-72z"/><path fill="#38ffc7" d="M348 318h6v6h-6zM360 318h6v6h-6zM354 342h6v6h-6zM396 348h6v6h-6zM756 444h6v6h-6zM222 528h18v6h-18zM216 534h12v6h-12zM210 540h12v6h-12zM204 546h12v6h-12zM204 552h12v6h-12zM198 558h12v6h-12zM264 558h6v6h-6zM198 564h12v6h-12zM198 570h12v6h-12zM198 576h12v6h-12zM198 582h12v6h-12zM198 588h12v6h-12zM198 594h12v6h-12zM198 600h6v6h-6zM198 606h6v6h-6zM372 606h6v6h-6zM198 612h6v6h-6zM378 612h6v6h-6zM198 618h6v6h-6zM384 618h6v6h-6zM198 624h6v6h-6zM198 630h6v6h-6zM198 636h6v6h-6zM390 636h6v6h-6zM390 642h6v6h-6zM204 648h6v6h-6zM390 648h6v6h-6zM306 660h6v6h-6zM318 660h6v6h-6zM234 666h6v6h-6zM246 672h6v6h-6zM378 672h6v6h-6zM366 678h12v6h-12z"/><path fill="#2effd1" d="M354 318h6v6h-6zM360 342h6v6h-6zM378 342h6v6h-6zM372 372h6v6h-6zM252 540h6v6h-6zM252 552h6v6h-6zM246 558h18v6h-18zM240 564h12v6h-12zM264 564h6v6h-6zM240 570h6v6h-6zM270 570h6v6h-6zM234 576h6v6h-6zM276 576h6v6h-6zM234 582h6v6h-6zM228 588h6v6h-6zM228 594h6v6h-6zM228 600h6v6h-6zM228 606h6v6h-6zM222 612h6v6h-6zM222 618h6v6h-6zM372 618h6v6h-6zM222 624h6v6h-6zM222 630h6v6h-6zM222 636h6v6h-6zM216 642h6v6h-6zM384 642h6v6h-6zM216 648h6v6h-6zM228 660h6v6h-6zM330 660h6v6h-6zM378 660h6v6h-6zM240 666h6v6h-6zM372 666h6v6h-6zM252 672h6v6h-6zM264 672h6v6h-6z"/><path fill="#4fffb0" d="M366 318h6v6h-6zM372 324h6v6h-6zM372 378h6v6h-6zM756 438h6v6h-6zM744 450h6v6h-6zM678 456h6v6h-6zM210 492h24v6h-24zM156 498h30v6h-30zM132 504h6v6h-6zM240 510h6v6h-6zM474 522h12v6h-12zM288 582h6v6h-6zM450 594h6v6h-6zM366 600h12v6h-12zM450 600h6v6h-6zM450 606h6v6h-6zM450 612h6v6h-6zM132 624h6v6h-6zM456 624h6v6h-6zM456 630h6v6h-6zM462 636h6v6h-6zM462 642h6v6h-6zM468 654h6v6h-6zM474 660h6v6h-6zM474 666h6v6h-6zM480 672h6v6h-6zM480 678h12v6h-12zM486 684h6v6h-6zM492 690h6v6h-6zM492 696h12v6h-12zM498 702h12v6h-12zM564 702h6v6h-6zM504 708h12v6h-12zM510 714h12v6h-12zM510 720h18v6h-18zM516 726h12v6h-12zM408 732h6v6h-6zM522 732h12v6h-12zM522 738h18v6h-18zM522 744h18v6h-18zM528 750h12v6h-12zM528 756h18v6h-18z"/><path fill="#21ffde" d="M348 324h6v6h-6zM348 330h6v6h-6zM354 336h12v6h-12zM372 348h6v6h-6zM354 366h6v6h-6zM384 366h6v6h-6zM480 498h6v6h-6zM486 510h6v6h-6zM294 600h12v6h-12zM288 606h24v6h-24zM288 612h24v6h-24zM252 618h6v6h-6zM276 618h36v6h-36zM354 618h6v6h-6zM258 624h48v6h-48zM336 624h6v6h-6zM264 630h42v6h-42zM258 636h42v6h-42zM330 636h6v6h-6zM378 636h6v6h-6zM258 642h42v6h-42zM330 642h6v6h-6zM258 648h36v6h-36zM330 648h6v6h-6zM252 654h36v6h-36zM252 660h30v6h-30zM342 660h6v6h-6z"/><path fill="#14ffeb" d="M354 324h6v6h-6zM258 576h6v6h-6zM246 600h6v6h-6zM276 606h6v6h-6zM264 612h6v6h-6zM354 624h12v6h-12zM342 630h6v6h-6zM342 654h6v6h-6zM372 654h6v6h-6z"/><path fill="#1fffe0" d="M360 324h6v6h-6zM366 354h6v6h-6zM378 366h6v6h-6zM366 372h6v6h-6zM288 594h6v6h-6zM288 600h6v6h-6zM282 612h6v6h-6zM258 618h18v6h-18zM342 624h6v6h-6zM336 630h6v6h-6zM378 648h6v6h-6zM336 654h6v6h-6z"/><path fill="#36ffc9" d="M366 324h6v6h-6zM372 336h6v6h-6zM240 528h6v6h-6zM228 534h18v6h-18zM222 540h12v6h-12zM258 540h6v6h-6zM216 546h12v6h-12zM216 552h12v6h-12zM210 558h12v6h-12zM210 564h12v6h-12zM210 570h6v6h-6zM210 576h6v6h-6zM210 582h6v6h-6zM210 588h6v6h-6zM210 594h6v6h-6zM204 600h12v6h-12zM204 606h6v6h-6zM324 606h6v6h-6zM354 606h18v6h-18zM204 612h6v6h-6zM204 618h6v6h-6zM378 618h6v6h-6zM204 624h6v6h-6zM384 624h6v6h-6zM204 630h6v6h-6zM204 636h6v6h-6zM204 642h6v6h-6zM384 660h6v6h-6zM378 666h6v6h-6zM372 672h6v6h-6zM564 696h6v6h-6z"/><path fill="#63ff9c" d="M378 324h6v6h-6zM774 444h6v6h-6zM138 450h78v6h-78zM132 456h90v6h-90zM798 456h6v6h-6zM132 462h36v6h-36zM768 462h6v6h-6zM222 468h6v6h-6zM780 468h6v6h-6zM822 468h6v6h-6zM792 474h24v6h-24zM834 474h12v6h-12zM840 480h6v6h-6zM852 480h6v6h-6zM858 486h6v6h-6zM852 492h18v6h-18zM906 516h6v6h-6zM492 528h6v6h-6zM906 528h6v6h-6zM264 534h6v6h-6zM492 534h6v6h-6zM486 552h6v6h-6zM486 558h6v6h-6zM486 564h6v6h-6zM486 570h6v6h-6zM294 582h6v6h-6zM480 582h6v6h-6zM426 588h6v6h-6zM480 588h6v6h-6zM480 594h6v6h-6zM480 600h6v6h-6zM486 612h6v6h-6zM486 618h6v6h-6zM486 624h6v6h-6zM492 630h6v6h-6zM492 636h6v6h-6zM498 642h6v6h-6zM504 648h6v6h-6zM198 654h6v6h-6zM504 672h6v6h-6zM270 678h6v6h-6zM624 696h18v6h-18zM630 702h18v6h-18zM630 708h18v6h-18zM636 714h12v6h-12zM636 720h18v6h-18zM636 726h18v6h-18zM636 732h18v6h-18zM642 738h12v6h-12zM642 744h12v6h-12zM642 750h18v6h-18zM642 756h18v6h-18z"/><path fill="#12ffed" d="M354 330h6v6h-6zM366 360h12v6h-12zM264 576h6v6h-6zM246 588h6v6h-6zM354 660h12v6h-12z"/><path fill="#17ffe8" d="M360 330h6v6h-6zM372 354h6v6h-6zM360 360h6v6h-6zM276 582h6v6h-6zM282 594h6v6h-6zM282 600h6v6h-6zM258 612h6v6h-6zM270 612h6v6h-6zM372 630h6v6h-6zM348 660h6v6h-6zM366 660h6v6h-6z"/><path fill="#29ffd6" d="M366 330h6v6h-6zM366 336h6v6h-6zM366 348h6v6h-6zM360 354h6v6h-6zM258 534h6v6h-6zM258 564h6v6h-6zM240 582h6v6h-6zM312 600h6v6h-6zM318 606h6v6h-6zM330 612h6v6h-6zM348 612h6v6h-6zM234 618h6v6h-6zM366 618h6v6h-6zM234 624h6v6h-6zM234 630h6v6h-6zM378 630h6v6h-6zM234 636h6v6h-6zM228 642h6v6h-6zM228 648h6v6h-6zM228 654h6v6h-6zM312 654h18v6h-18zM234 660h6v6h-6zM294 660h6v6h-6zM336 660h6v6h-6zM348 666h6v6h-6zM366 666h6v6h-6zM576 696h6v6h-6z"/><path fill="#52ffad" d="M378 330h6v6h-6zM786 468h12v6h-12zM180 492h30v6h-30zM132 498h24v6h-24zM234 498h6v6h-6zM474 498h6v6h-6zM492 516h6v6h-6zM462 558h6v6h-6zM462 582h6v6h-6zM456 588h6v6h-6zM420 594h6v6h-6zM360 600h6v6h-6zM456 606h6v6h-6zM456 612h6v6h-6zM456 618h6v6h-6zM156 630h6v6h-6zM462 630h6v6h-6zM174 636h6v6h-6zM186 642h6v6h-6zM468 642h6v6h-6zM468 648h6v6h-6zM474 654h6v6h-6zM330 666h6v6h-6zM480 666h6v6h-6zM486 672h6v6h-6zM258 678h6v6h-6zM492 684h6v6h-6zM498 690h6v6h-6zM504 696h6v6h-6zM510 702h6v6h-6zM516 708h12v6h-12zM522 714h12v6h-12zM528 720h12v6h-12zM528 726h18v6h-18zM534 732h18v6h-18zM540 738h12v6h-12zM540 744h18v6h-18zM540 750h18v6h-18zM546 756h12v6h-12z"/><path fill="#61ff9e" d="M384 330h6v6h-6zM348 378h6v6h-6zM360 384h6v6h-6zM684 450h6v6h-6zM786 450h6v6h-6zM168 462h54v6h-54zM804 462h6v6h-6zM132 468h60v6h-60zM816 468h6v6h-6zM846 480h6v6h-6zM846 486h12v6h-12zM498 516h6v6h-6zM912 516h6v6h-6zM258 522h6v6h-6zM486 534h6v6h-6zM486 540h6v6h-6zM486 546h6v6h-6zM480 564h6v6h-6zM480 570h6v6h-6zM480 576h6v6h-6zM480 606h6v6h-6zM480 612h6v6h-6zM480 618h6v6h-6zM486 630h6v6h-6zM492 642h6v6h-6zM498 648h6v6h-6zM504 654h6v6h-6zM534 696h12v6h-12zM594 696h30v6h-30zM612 702h18v6h-18zM618 708h12v6h-12zM618 714h18v6h-18zM618 720h18v6h-18zM624 726h12v6h-12zM624 732h12v6h-12zM624 738h18v6h-18zM624 744h18v6h-18zM624 750h18v6h-18zM630 756h12v6h-12z"/><path fill="#33ffcc" d="M348 336h6v6h-6zM384 342h6v6h-6zM480 516h6v6h-6zM246 528h6v6h-6zM234 540h12v6h-12zM228 546h12v6h-12zM258 546h6v6h-6zM228 552h12v6h-12zM222 558h12v6h-12zM222 564h6v6h-6zM216 570h12v6h-12zM216 576h12v6h-12zM456 576h6v6h-6zM216 582h6v6h-6zM216 588h6v6h-6zM294 588h6v6h-6zM216 594h6v6h-6zM216 600h6v6h-6zM210 606h12v6h-12zM210 612h6v6h-6zM372 612h6v6h-6zM210 618h6v6h-6zM210 624h6v6h-6zM210 630h6v6h-6zM384 630h6v6h-6zM210 636h6v6h-6zM210 642h6v6h-6zM210 648h6v6h-6zM384 654h6v6h-6zM222 660h6v6h-6zM324 660h6v6h-6zM288 666h6v6h-6zM342 666h6v6h-6zM270 672h6v6h-6zM354 672h6v6h-6zM366 672h6v6h-6z"/><path fill="#4affb5" d="M384 336h6v6h-6zM348 342h6v6h-6zM402 354h6v6h-6zM348 360h6v6h-6zM402 360h6v6h-6zM348 372h6v6h-6zM390 372h6v6h-6zM762 444h6v6h-6zM216 498h18v6h-18zM168 504h30v6h-30zM234 504h6v6h-6zM132 510h24v6h-24zM252 522h6v6h-6zM450 564h6v6h-6zM462 576h6v6h-6zM306 588h6v6h-6zM444 588h6v6h-6zM432 594h12v6h-12zM378 600h6v6h-6zM438 600h6v6h-6zM438 606h6v6h-6zM132 612h6v6h-6zM444 612h6v6h-6zM132 618h12v6h-12zM444 618h6v6h-6zM144 624h12v6h-12zM444 624h6v6h-6zM450 630h6v6h-6zM180 636h6v6h-6zM450 636h6v6h-6zM450 642h6v6h-6zM456 648h6v6h-6zM456 654h6v6h-6zM456 660h12v6h-12zM462 666h6v6h-6zM462 672h12v6h-12zM468 678h6v6h-6zM468 684h12v6h-12zM474 690h6v6h-6zM474 696h12v6h-12zM474 702h12v6h-12zM390 708h6v6h-6zM480 708h12v6h-12zM396 714h6v6h-6zM480 714h12v6h-12zM480 720h18v6h-18zM486 726h12v6h-12zM486 732h18v6h-18zM486 738h18v6h-18zM486 744h18v6h-18zM486 750h18v6h-18zM486 756h24v6h-24z"/><path fill="#59ffa6" d="M390 336h6v6h-6zM402 348h6v6h-6zM402 366h6v6h-6zM396 372h6v6h-6zM768 444h6v6h-6zM774 450h6v6h-6zM744 456h6v6h-6zM768 456h24v6h-24zM666 462h6v6h-6zM798 462h6v6h-6zM180 480h48v6h-48zM132 486h30v6h-30zM246 516h6v6h-6zM468 522h6v6h-6zM480 528h6v6h-6zM474 534h6v6h-6zM474 540h6v6h-6zM468 546h12v6h-12zM468 552h6v6h-6zM468 582h6v6h-6zM468 606h6v6h-6zM468 612h6v6h-6zM468 618h6v6h-6zM474 630h6v6h-6zM480 642h6v6h-6zM486 654h6v6h-6zM210 660h6v6h-6zM492 660h6v6h-6zM498 666h6v6h-6zM498 672h6v6h-6zM498 678h6v6h-6zM366 690h6v6h-6zM504 690h6v6h-6zM372 696h6v6h-6zM516 696h6v6h-6zM540 702h18v6h-18zM552 708h18v6h-18zM576 708h6v6h-6zM564 714h18v6h-18zM396 720h6v6h-6zM570 720h18v6h-18zM576 726h12v6h-12zM576 732h18v6h-18zM582 738h12v6h-12zM582 744h12v6h-12zM582 750h18v6h-18zM582 756h18v6h-18z"/><path fill="#2bffd4" d="M366 342h12v6h-12zM354 360h6v6h-6zM354 372h6v6h-6zM252 564h6v6h-6zM246 570h6v6h-6zM240 576h6v6h-6zM234 588h6v6h-6zM288 588h6v6h-6zM234 594h6v6h-6zM306 594h6v6h-6zM234 600h6v6h-6zM234 606h6v6h-6zM228 612h12v6h-12zM336 612h12v6h-12zM354 612h12v6h-12zM228 618h6v6h-6zM228 624h6v6h-6zM228 630h6v6h-6zM228 636h6v6h-6zM222 642h6v6h-6zM222 648h6v6h-6zM222 654h6v6h-6zM282 666h6v6h-6zM258 672h6v6h-6z"/><path fill="#3dffc2" d="M390 342h6v6h-6zM222 516h18v6h-18zM486 516h6v6h-6zM204 522h18v6h-18zM186 528h24v6h-24zM180 534h18v6h-18zM174 540h18v6h-18zM174 546h18v6h-18zM174 552h12v6h-12zM174 558h12v6h-12zM174 564h12v6h-12zM180 570h12v6h-12zM180 576h12v6h-12zM180 582h12v6h-12zM450 582h6v6h-6zM180 588h12v6h-12zM186 594h6v6h-6zM186 600h6v6h-6zM186 606h6v6h-6zM384 606h12v6h-12zM186 612h6v6h-6zM390 612h6v6h-6zM186 618h6v6h-6zM390 618h12v6h-12zM186 624h6v6h-6zM396 624h6v6h-6zM186 630h6v6h-6zM396 630h6v6h-6zM192 636h6v6h-6zM396 636h6v6h-6zM396 642h6v6h-6zM396 648h6v6h-6zM396 654h6v6h-6zM396 660h6v6h-6zM390 666h6v6h-6zM390 672h6v6h-6zM360 678h6v6h-6zM384 678h12v6h-12zM372 684h18v6h-18zM384 690h6v6h-6z"/><path fill="#30ffcf" d="M360 348h6v6h-6zM486 498h6v6h-6zM246 534h6v6h-6zM246 540h6v6h-6zM240 546h18v6h-18zM240 552h12v6h-12zM258 552h6v6h-6zM234 558h12v6h-12zM228 564h12v6h-12zM228 570h12v6h-12zM228 576h6v6h-6zM222 582h12v6h-12zM282 582h6v6h-6zM222 588h6v6h-6zM222 594h6v6h-6zM222 600h6v6h-6zM222 606h6v6h-6zM216 612h6v6h-6zM366 612h6v6h-6zM216 618h6v6h-6zM216 624h6v6h-6zM378 624h6v6h-6zM216 630h6v6h-6zM216 636h6v6h-6zM384 636h6v6h-6zM384 648h6v6h-6zM216 654h6v6h-6zM300 660h6v6h-6zM360 672h6v6h-6z"/><path fill="#1cffe3" d="M378 348h6v6h-6zM360 372h6v6h-6zM252 576h6v6h-6zM246 582h6v6h-6zM282 588h6v6h-6zM246 606h6v6h-6zM282 606h6v6h-6zM252 612h6v6h-6zM276 612h6v6h-6zM366 624h6v6h-6zM378 642h6v6h-6zM564 690h6v6h-6z"/><path fill="#1affe5" d="M384 348h6v6h-6zM372 366h6v6h-6zM270 576h6v6h-6zM348 624h6v6h-6zM336 636h6v6h-6zM336 642h6v6h-6zM336 648h6v6h-6zM576 684h6v6h-6zM570 696h6v6h-6z"/><path fill="#24ffdb" d="M390 348h6v6h-6zM474 504h6v6h-6zM252 528h12v6h-12zM258 570h12v6h-12zM450 570h6v6h-6zM240 588h6v6h-6zM240 594h6v6h-6zM294 594h6v6h-6zM240 600h6v6h-6zM306 600h6v6h-6zM312 606h6v6h-6zM246 612h6v6h-6zM312 612h12v6h-12zM312 618h18v6h-18zM342 618h12v6h-12zM360 618h6v6h-6zM252 624h6v6h-6zM306 624h30v6h-30zM252 630h12v6h-12zM306 630h30v6h-30zM246 636h12v6h-12zM300 636h30v6h-30zM246 642h12v6h-12zM300 642h18v6h-18zM324 642h6v6h-6zM246 648h12v6h-12zM294 648h18v6h-18zM240 654h12v6h-12zM288 654h12v6h-12zM246 660h6v6h-6zM282 660h12v6h-12zM372 660h6v6h-6zM252 666h24v6h-24zM354 666h12v6h-12z"/><path fill="#3bffc4" d="M354 354h6v6h-6zM396 366h6v6h-6zM378 372h6v6h-6zM360 378h6v6h-6zM750 444h6v6h-6zM474 516h6v6h-6zM222 522h24v6h-24zM210 528h12v6h-12zM198 534h18v6h-18zM192 540h18v6h-18zM192 546h12v6h-12zM186 552h18v6h-18zM186 558h12v6h-12zM186 564h12v6h-12zM456 564h6v6h-6zM192 570h6v6h-6zM192 576h6v6h-6zM192 582h6v6h-6zM192 588h6v6h-6zM300 588h6v6h-6zM192 594h6v6h-6zM312 594h6v6h-6zM192 600h6v6h-6zM318 600h6v6h-6zM192 606h6v6h-6zM348 606h6v6h-6zM378 606h6v6h-6zM192 612h6v6h-6zM384 612h6v6h-6zM192 618h6v6h-6zM192 624h6v6h-6zM390 624h6v6h-6zM192 630h6v6h-6zM390 630h6v6h-6zM198 642h6v6h-6zM210 654h6v6h-6zM390 654h6v6h-6zM312 660h6v6h-6zM390 660h6v6h-6zM384 666h6v6h-6zM384 672h6v6h-6zM378 678h6v6h-6z"/><path fill="#0ffff0" d="M378 354h6v6h-6zM390 354h6v6h-6zM378 360h6v6h-6zM390 360h6v6h-6zM360 366h12v6h-12zM486 504h6v6h-6zM480 510h6v6h-6zM246 594h6v6h-6z"/><path fill="#0afff5" d="M384 354h6v6h-6zM252 582h6v6h-6zM348 630h6v6h-6z"/><path fill="#26ffd9" d="M396 354h6v6h-6zM396 360h6v6h-6zM390 366h6v6h-6zM474 510h6v6h-6zM252 534h6v6h-6zM252 570h6v6h-6zM456 570h6v6h-6zM246 576h6v6h-6zM450 576h6v6h-6zM300 594h6v6h-6zM240 606h6v6h-6zM240 612h6v6h-6zM324 612h6v6h-6zM240 618h12v6h-12zM330 618h12v6h-12zM240 624h12v6h-12zM372 624h6v6h-6zM240 630h12v6h-12zM240 636h6v6h-6zM234 642h12v6h-12zM318 642h6v6h-6zM234 648h12v6h-12zM312 648h18v6h-18zM234 654h6v6h-6zM300 654h12v6h-12zM330 654h6v6h-6zM378 654h6v6h-6zM240 660h6v6h-6zM246 666h6v6h-6zM276 666h6v6h-6z"/><path fill="#0dfff2" d="M384 360h6v6h-6zM252 606h6v6h-6zM342 636h6v6h-6zM342 648h6v6h-6z"/><path fill="#47ffb8" d="M354 378h6v6h-6zM672 456h6v6h-6zM198 504h24v6h-24zM156 510h30v6h-30zM132 516h18v6h-18zM462 564h6v6h-6zM132 576h6v6h-6zM132 582h6v6h-6zM456 582h6v6h-6zM132 588h12v6h-12zM132 594h18v6h-18zM132 600h18v6h-18zM432 600h6v6h-6zM132 606h24v6h-24zM432 606h6v6h-6zM138 612h18v6h-18zM432 612h12v6h-12zM144 618h12v6h-12zM438 618h6v6h-6zM156 624h6v6h-6zM438 624h6v6h-6zM168 630h6v6h-6zM438 630h12v6h-12zM444 636h6v6h-6zM444 642h6v6h-6zM444 648h12v6h-12zM450 654h6v6h-6zM450 660h6v6h-6zM450 666h12v6h-12zM456 672h6v6h-6zM456 678h12v6h-12zM456 684h12v6h-12zM462 690h12v6h-12zM582 690h6v6h-6zM378 696h6v6h-6zM462 696h12v6h-12zM384 702h6v6h-6zM462 702h12v6h-12zM570 702h6v6h-6zM462 708h18v6h-18zM468 714h12v6h-12zM402 720h6v6h-6zM468 720h12v6h-12zM408 726h6v6h-6zM468 726h18v6h-18zM468 732h18v6h-18zM414 738h6v6h-6zM468 738h18v6h-18zM414 744h6v6h-6zM468 744h18v6h-18zM414 750h6v6h-6zM462 750h24v6h-24zM414 756h6v6h-6zM462 756h24v6h-24z"/><path fill="#4dffb3" d="M744 444h6v6h-6zM762 450h6v6h-6zM186 498h30v6h-30zM138 504h30v6h-30zM912 522h6v6h-6zM264 546h6v6h-6zM276 570h6v6h-6zM438 588h6v6h-6zM450 588h6v6h-6zM426 594h6v6h-6zM444 594h6v6h-6zM444 600h6v6h-6zM444 606h6v6h-6zM450 618h6v6h-6zM138 624h6v6h-6zM450 624h6v6h-6zM162 630h6v6h-6zM456 636h6v6h-6zM456 642h6v6h-6zM462 648h6v6h-6zM204 654h6v6h-6zM462 654h6v6h-6zM468 660h6v6h-6zM468 666h6v6h-6zM240 672h6v6h-6zM282 672h6v6h-6zM474 672h6v6h-6zM354 678h6v6h-6zM474 678h6v6h-6zM480 684h6v6h-6zM480 690h12v6h-12zM486 696h6v6h-6zM582 696h6v6h-6zM486 702h12v6h-12zM576 702h6v6h-6zM492 708h12v6h-12zM492 714h18v6h-18zM498 720h12v6h-12zM498 726h18v6h-18zM504 732h18v6h-18zM504 738h18v6h-18zM504 744h18v6h-18zM504 750h24v6h-24zM510 756h18v6h-18z"/><path fill="#00faff" d="M480 504h6v6h-6zM252 600h6v6h-6zM354 630h6v6h-6zM372 642h6v6h-6zM576 690h6v6h-6z"/><path fill="#00f7ff" d="M258 582h6v6h-6z"/><path fill="#00f5ff" d="M264 582h6v6h-6zM252 588h6v6h-6zM360 630h6v6h-6zM348 636h6v6h-6zM354 654h6v6h-6z"/><path fill="#03fffc" d="M270 582h6v6h-6z"/><path fill="#00dbff" d="M258 588h6v6h-6z"/><path fill="#00d6ff" d="M264 588h6v6h-6z"/><path fill="#00e8ff" d="M270 588h6v6h-6zM348 642h6v6h-6z"/><path fill="#05fffa" d="M276 588h6v6h-6zM270 606h6v6h-6zM366 630h6v6h-6zM372 648h6v6h-6zM348 654h6v6h-6z"/><path fill="#00f0ff" d="M252 594h6v6h-6zM360 654h6v6h-6z"/><path fill="#00d1ff" d="M258 594h6v6h-6z"/><path fill="#00c9ff" d="M264 594h6v6h-6zM366 636h6v6h-6z"/><path fill="#00e0ff" d="M270 594h6v6h-6z"/><path fill="#00ffff" d="M276 594h6v6h-6zM258 606h6v6h-6zM366 654h6v6h-6zM570 684h6v6h-6z"/><path fill="#00e3ff" d="M258 600h6v6h-6z"/><path fill="#00deff" d="M264 600h6v6h-6zM570 690h6v6h-6z"/><path fill="#00edff" d="M270 600h6v6h-6z"/><path fill="#08fff7" d="M276 600h6v6h-6zM372 636h6v6h-6zM342 642h6v6h-6z"/><path fill="#00fcff" d="M264 606h6v6h-6z"/><path fill="#00bfff" d="M354 636h6v6h-6z"/><path fill="#008cff" d="M360 636h6v6h-6z"/><path fill="#0085ff" d="M354 642h6v6h-6z"/><path fill="#001fff" d="M360 642h6v6h-6z"/><path fill="#008fff" d="M366 642h6v6h-6z"/><path fill="#00f2ff" d="M348 648h6v6h-6z"/><path fill="#00baff" d="M354 648h6v6h-6z"/><path fill="#0087ff" d="M360 648h6v6h-6z"/><path fill="#00c4ff" d="M366 648h6v6h-6z"/></g></g>
<path d="M307 738.6L340.5 108M473.2 744.5L484.4 113.1M639.6 744.5L628.4 113.1M805.8 738.6L772.3 108M154 666.4 L174.6 668.2 L195.2 669.8 L215.8 671.4 L236.4 672.9 L257 674.2 L277.6 675.5 L298.2 676.7 L318.9 677.8 L339.5 678.8 L360.2 679.8 L380.8 680.6 L401.5 681.3 L422.1 682 L442.8 682.5 L463.4 683 L484.1 683.4 L504.7 683.6 L525.4 683.8 L546.1 683.9 L566.7 683.9 L587.4 683.8 L608.1 683.6 L628.7 683.4 L649.4 683 L670 682.5 L690.7 682 L711.3 681.3 L732 680.6 L752.6 679.8 L773.3 678.8 L793.9 677.8 L814.6 676.7 L835.2 675.5 L855.8 674.2 L876.4 672.9 L897 671.4 L917.6 669.8 L938.2 668.2 L958.8 666.4M165.8 530.8 L185.8 532.5 L205.8 534.1 L225.8 535.6 L245.8 537.1 L265.8 538.4 L285.8 539.7 L305.8 540.8 L325.8 541.9 L345.9 542.9 L365.9 543.8 L386 544.6 L406 545.3 L426 545.9 L446.1 546.5 L466.2 546.9 L486.2 547.3 L506.3 547.5 L526.3 547.7 L546.4 547.8 L566.4 547.8 L586.5 547.7 L606.5 547.5 L626.6 547.3 L646.6 546.9 L666.7 546.5 L686.8 545.9 L706.8 545.3 L726.8 544.6 L746.9 543.8 L766.9 542.9 L787 541.9 L807 540.8 L827 539.7 L847 538.4 L867 537.1 L887 535.6 L907 534.1 L927 532.5 L947 530.8M177.6 395.9 L196.9 397.5 L216.3 399.1 L235.7 400.6 L255.1 401.9 L274.5 403.2 L293.9 404.5 L313.4 405.6 L332.8 406.6 L352.2 407.6 L371.7 408.4 L391.1 409.2 L410.5 409.9 L430 410.5 L449.4 411 L468.9 411.5 L488.3 411.8 L507.8 412.1 L527.2 412.3 L546.7 412.3 L566.1 412.3 L585.6 412.3 L605 412.1 L624.5 411.8 L643.9 411.5 L663.4 411 L682.8 410.5 L702.3 409.9 L721.7 409.2 L741.1 408.4 L760.6 407.6 L780 406.6 L799.4 405.6 L818.9 404.5 L838.3 403.2 L857.7 401.9 L877.1 400.6 L896.5 399.1 L915.9 397.5 L935.2 395.9M189.3 260.9 L208.1 262.5 L226.9 264 L245.7 265.5 L264.5 266.8 L283.3 268.1 L302.1 269.2 L320.9 270.3 L339.7 271.3 L358.6 272.3 L377.4 273.1 L396.2 273.9 L415.1 274.5 L433.9 275.1 L452.7 275.6 L471.6 276 L490.4 276.4 L509.3 276.6 L528.1 276.8 L547 276.9 L565.8 276.9 L584.7 276.8 L603.5 276.6 L622.4 276.4 L641.2 276 L660.1 275.6 L678.9 275.1 L697.7 274.5 L716.6 273.9 L735.4 273.1 L754.2 272.3 L773.1 271.3 L791.9 270.3 L810.7 269.2 L829.5 268.1 L848.3 266.8 L867.1 265.5 L885.9 264 L904.7 262.5 L923.5 260.9M201.1 125.3 L219.3 126.8 L237.5 128.3 L255.7 129.7 L273.9 131 L292.1 132.2 L310.3 133.3 L328.5 134.4 L346.7 135.4 L364.9 136.3 L383.2 137.1 L401.4 137.8 L419.6 138.5 L437.8 139 L456.1 139.5 L474.3 139.9 L492.6 140.2 L510.8 140.5 L529 140.7 L547.3 140.7 L565.5 140.7 L583.8 140.7 L602 140.5 L620.2 140.2 L638.5 139.9 L656.7 139.5 L675 139 L693.2 138.5 L711.4 137.8 L729.6 137.1 L747.9 136.3 L766.1 135.4 L784.3 134.4 L802.5 133.3 L820.7 132.2 L838.9 131 L857.1 129.7 L875.3 128.3 L893.5 126.8 L911.7 125.3" fill="none" stroke="#000" stroke-opacity="0.32" stroke-width="1" stroke-dasharray="2 6.2"/>
<g clip-path="url(#mc)"><path d="M714.1 309.4 L718.4 308.4 L721.8 314.5 L723.1 327.4 L720.0 327.4 L715.9 317.1ZM714.4 315.5 L718.3 315.5 L721.2 321.4 L724.1 326.2 L720.3 327.2 L716.4 323.3ZM696.9 268.9 L701.8 272.8 L706.6 278.6 L704.7 286.4 L699.8 284.4 L697.3 276.6ZM749.8 359.3 L753.3 361.2 L757.2 364.1 L755.6 368.0 L751.4 366.1ZM847.5 386.6 L853.3 386.6 L859.1 394.4 L864.0 406.1 L861.1 413.8 L857.2 411.9 L852.9 404.1 L849.0 396.3ZM863.0 309.8 L868.8 311.8 L873.1 315.7 L872.7 320.1 L869.8 320.9 L866.9 315.7ZM812.9 312.4 L816.8 314.7 L820.6 315.9 L818.3 317.8ZM728.7 467.8 L736.4 469.7 L744.1 471.7 L752.6 472.4 L752.6 475.5 L744.1 475.2 L736.4 474.0 L730.3 471.7ZM710.2 487.9 L716.4 489.7 L725.6 488.6 L734.9 487.2 L738.0 489.4 L725.6 491.7 L716.4 492.5 L711.7 491.0ZM925.6 504.0 L932.0 505.6 L943.2 506.7 L943.2 509.6 L933.6 509.6 L927.2 508.0ZM832.8 512.8 L840.8 514.4 L847.2 516.0 L850.4 519.2 L844.0 520.8 L836.0 517.6ZM258.5 330.0 L263.7 330.0 L263.3 335.1 L260.6 336.0ZM288.2 580.6 L292.0 581.8 L290.6 584.9 L288.6 583.5ZM237.1 471.7 L241.4 478.6 L245.7 483.7 L244.0 490.6 L241.4 487.1 L238.0 480.3ZM583.9 673.6 L591.1 669.5 L599.7 667.5 L600.3 668.9 L592.1 672.0 L584.9 674.4ZM542.7 630.8 L546.8 629.2 L547.9 637.0 L544.2 644.2 L541.7 641.1ZM516.0 676.1 L519.1 675.1 L521.1 677.1 L517.0 679.2ZM498.3 205.7 L505.1 204.9 L507.7 207.4 L506.0 212.6 L503.4 217.7 L500.0 221.1 L496.6 226.3 L494.8 229.7 L492.3 228.0 L491.4 221.1 L493.1 216.8 L498.3 213.4 L500.0 209.1ZM476.0 224.6 L479.4 223.7 L484.6 226.3 L488.8 228.0 L488.0 232.3 L482.8 234.8 L479.4 234.8 L476.8 231.4ZM463.1 235.7 L465.7 232.3 L470.0 231.4 L473.4 234.0 L474.3 238.3 L470.0 240.0 L464.9 240.0ZM453.7 240.0 L457.1 238.3 L462.3 238.7 L463.1 240.8 L457.1 241.3ZM500.0 240.0 L503.4 236.6 L508.6 235.7 L512.4 236.6 L511.1 240.0 L506.8 242.6 L501.7 245.1Z" fill="#663300" fill-opacity="0.9" stroke="none"/><path d="M720.6 390.9 L728.0 389.0 L737.7 385.5 L745.5 383.2 L751.4 381.2 L757.2 378.1 L763.0 375.0 L768.8 371.5 L773.7 367.2" fill="none" stroke="#663300" stroke-width="2.6" stroke-dasharray="2.5 1" stroke-linecap="round"/><path d="M258.0 324.9 L256.4 313.4 L255.9 303.1 L258.5 292.8 L263.6 283.0 L270.8 274.8 L278.5 268.4 L286.2 263.2 L296.5 257.3 L306.8 252.2" fill="none" stroke="#663300" stroke-width="2.4" stroke-dasharray="2.5 1" stroke-linecap="round"/><path d="M260.2 330.0 L260.6 336.9 L257.1 347.1 L252.0 353.1 L247.7 357.4 L246.0 364.3 L245.1 371.1 L242.6 377.1 L240.0 383.1 L238.6 389.1 L239.0 395.1 L238.3 402.0 L237.6 410.6" fill="none" stroke="#663300" stroke-width="2.6" stroke-dasharray="2.5 1" stroke-linecap="round"/><path d="M329.9 228.5 L337.7 223.4 L347.9 219.5 L355.7 216.2" fill="none" stroke="#663300" stroke-width="2.0" stroke-dasharray="2.5 1" stroke-linecap="round"/><path d="M753.4 435.4 L759.6 434.8 L765.7 436.0 L771.9 438.2 L778.1 440.1 L784.2 442.5 L790.4 444.7 L796.6 447.8 L802.8 450.5 L810.0 453.0" fill="none" stroke="#663300" stroke-width="3.0" stroke-dasharray="2.5 1" stroke-linecap="round"/><path d="M780.0 438.9 L789.6 441.6 L799.2 446.4 L807.2 452.0 L813.6 454.4 L821.6 454.9 L829.6 457.1 L837.6 460.0 L845.6 462.9 L853.6 466.4 L861.6 470.4 L869.6 475.2 L877.6 480.0 L882.4 484.0" fill="none" stroke="#663300" stroke-width="3.0" stroke-dasharray="2.5 1" stroke-linecap="round"/><path d="M812.0 456.0 L821.6 457.6 L831.2 459.7 L840.8 461.9 L850.4 465.1 L860.0 468.8" fill="none" stroke="#663300" stroke-width="2.2" stroke-dasharray="2.5 1" stroke-linecap="round"/><path d="M776.0 110.8 L770.8 113.9 L764.8 116.9 L759.7 120.4 L755.4 125.0 L752.0 129.3 L748.6 134.1 L745.1 138.7 L742.0 143.8 L739.6 148.1" fill="none" stroke="#663300" stroke-width="2.2" stroke-dasharray="2.5 1" stroke-linecap="round"/><path d="M248.0 292.2 L249.7 292.0 L249.7 287.3 L249.9 284.2 L255.1 286.8 L254.1 282.9 L255.7 280.8 L258.7 280.3 L263.1 280.8 L263.1 277.2 L262.2 274.3 L265.6 275.2 L265.4 270.2 L269.5 270.8 L271.6 270.7 L272.5 268.8 L272.1 264.8 L276.9 267.1 L277.1 264.1 L280.8 265.2 L281.6 260.1 L284.5 260.4 L286.8 260.1 L286.6 255.7 L290.5 256.8 L291.6 254.9 L292.3 252.0 L294.9 252.6 L299.0 254.2 L301.3 254.1 L302.7 250.7 L304.5 250.6 L306.2 248.1 L308.2 247.1 L312.0 249.8 L313.7 247.0 L316.9 247.2M253.9 300.1 L250.4 303.5 L252.6 304.6 L255.1 307.8 L253.7 309.6 L252.7 313.1 L254.6 314.8 L255.6 317.1 L257.7 320.4 L255.7 322.6 L256.6 325.3 L258.2 327.2M330.8 227.2 L336.7 229.6 L336.2 225.8 L339.4 226.6 L340.4 223.5 L341.0 221.2 L344.8 221.3 L344.3 216.9 L345.9 214.7 L350.3 217.5M402.4 222.5 L404.2 220.3 L406.7 224.0 L408.5 223.4 L410.6 220.5 L412.8 220.2 L415.9 223.7 L417.3 220.5 L419.6 223.2 L422.0 223.7 L425.1 221.7 L426.8 223.1 L429.7 221.8 L432.1 222.1 L433.9 220.6M778.5 106.3 L777.6 108.6 L774.6 108.3 L772.7 110.1 L772.4 112.2 L771.5 113.5 L769.3 116.1 L766.2 114.9 L765.3 117.8 L763.8 119.7 L763.2 122.7 L761.5 123.5 L759.6 124.3 L761.0 127.8 L756.6 128.5 L756.2 129.6 L754.0 131.9 L753.3 133.5 L752.5 134.7 L755.4 138.7 L753.3 140.2 L752.5 142.7 L752.3 145.0 L750.8 146.9 L750.8 148.7 L745.6 149.2 L745.2 151.6 L745.5 153.4 L744.9 155.3 L742.6 158.0 L742.1 158.8 L743.6 162.1 L743.8 164.8 L739.9 165.2 L738.7 167.7 L741.4 171.0M641.0 201.7 L644.1 202.5 L645.3 203.4 L647.9 205.2 L649.9 207.0 L652.5 206.8 L653.9 209.6 L655.9 208.3 L657.4 210.9 L660.5 212.5 L661.9 212.6 L664.3 214.2 L666.4 214.2 L668.7 215.6 L669.4 218.3 L672.2 218.4 L674.1 218.9 L676.2 220.4M696.0 281.4 L694.5 283.9 L698.0 285.4 L698.4 286.7 L699.4 288.7 L697.0 292.6 L701.1 294.0 L700.3 295.9 L702.5 298.4 L703.4 300.0 L705.5 301.6 L703.1 304.9 L704.1 306.1 L707.8 307.3 L705.1 310.1 L708.4 311.6M715.2 325.1 L718.4 324.5 L716.8 328.4 L718.4 330.4 L718.3 332.5 L719.7 333.3 L721.2 334.5 L722.0 337.2 L723.1 338.6 L725.6 339.2 L728.5 340.4 L727.2 343.0 L728.6 345.0 L730.6 346.4M731.5 359.5 L736.0 358.2 L734.0 362.2 L737.1 363.1 L737.2 364.6 L742.3 363.6 L742.5 364.1 L743.8 367.3 L745.1 368.9 L746.7 370.7 L748.9 370.9M761.4 435.7 L763.9 435.7 L765.7 437.9 L769.1 436.0 L770.1 439.8 L772.1 437.6 L773.8 438.0 L776.5 437.9 L778.0 438.6 L779.6 442.1 L782.5 440.1 L784.3 440.9 L786.2 441.5 L787.9 443.4 L790.5 443.1 L791.2 445.2 L793.9 442.9 L796.1 447.0 L798.9 444.6 L800.4 444.9 L802.4 446.9 L804.3 445.7 L805.1 448.4 L808.0 447.9 L809.4 451.2 L811.4 451.7 L813.6 452.1 L815.4 452.6 L817.2 451.7 L818.4 454.1 L820.7 455.7 L823.9 454.3 L825.5 454.2 L828.1 454.9 L829.1 457.4 L831.5 457.0 L832.6 459.2 L833.9 460.8 L836.9 459.7 L837.8 461.8 L839.8 461.8 L842.6 462.4 L845.1 461.3 L847.4 461.9 L848.0 464.1 L849.6 465.8 L850.9 466.5 L853.7 467.1 L854.2 469.0 L857.6 468.6 L858.7 469.6 L860.6 470.7 L864.0 470.6 L865.3 471.3 L866.5 474.4 L868.8 474.6 L870.6 475.1 L871.9 477.4 L873.7 477.5 L875.7 478.1 L877.2 479.7 L880.0 479.8 L881.3 480.7 L882.6 482.8 L884.9 484.0 L887.4 483.5 L889.6 482.7 L890.2 486.7 L892.7 486.6 L894.2 487.9 L896.1 487.7 L898.3 488.2 L900.7 490.1 L902.1 490.4 L904.1 491.6 L905.2 494.8 L907.4 493.4 L908.6 496.4 L910.3 496.4 L912.2 498.2 L914.6 497.8 L917.3 498.9 L918.0 501.1 L920.0 501.9 L922.7 501.6 L924.6 501.8 L926.1 504.9M542.3 618.5 L539.7 619.9 L541.5 622.7 L540.6 624.7 L539.8 626.7 L539.8 628.7 L538.6 630.9 L539.1 633.6 L538.6 634.8 L538.6 636.6 L538.0 639.6 L537.0 640.9 L538.6 643.3 L536.6 645.6 L536.0 647.9 L536.7 650.2 L536.3 651.7 L537.5 654.0 L536.6 655.5 L536.4 658.2 L537.1 659.7 L536.8 661.8 L534.2 663.2 L536.2 665.7M243.2 379.3 L242.9 382.0 L243.2 385.5 L243.2 387.8 L242.1 389.9 L240.1 391.8 L239.3 395.5 L240.2 396.8 L240.0 400.1 L239.4 402.0 L238.5 405.4 L241.7 407.3" fill="none" stroke="#663300" stroke-width="1.1" stroke-linejoin="round"/><path d="M262.6 324.9 L260.5 313.4 L258.0 303.1 L260.5 291.5 L265.7 282.5 L273.4 273.5 L283.7 264.5 L296.5 256.8 L309.4 249.1 L319.7 244.0 L327.4 236.2 L335.1 229.8 L345.4 223.4 L355.7 218.3 L365.9 215.2 L376.2 213.6 L386.5 213.6 L394.2 215.7 L401.9 218.8 L409.6 222.1 L417.4 222.9 L425.1 220.8 L432.8 218.8 L440.5 220.8M366.5 137.3 L369.8 141.1 L372.4 147.6 L373.7 151.4 L377.5 155.3 L376.2 159.1 L379.3 165.6 L376.2 166.3 L373.7 161.7 L372.4 155.3 L370.6 148.8 L368.0 142.4ZM236.9 167.4 L239.5 168.9 L237.9 171.5ZM237.4 176.1 L239.5 177.1 L238.4 178.7ZM245.1 258.1 L247.2 264.5M196.8 294.6 L200.1 298.5 L202.7 303.1 L201.4 306.9 L204.0 311.3M333.8 218.8 L337.7 213.1 L342.8 212.1 L344.9 217.0 L341.8 220.3 L345.9 223.4 L340.7 226.0 L335.6 224.9ZM367.2 213.1 L368.3 206.7 L370.6 205.4 L371.6 210.5 L369.8 214.7ZM382.6 212.1 L383.7 204.4 L385.7 203.3 L386.8 210.5 L385.0 213.1ZM399.4 209.5 L403.0 208.0 L404.5 211.6 L400.9 213.1ZM406.0 213.6 L409.6 212.3 L412.0 215.4 L408.1 217.2ZM418.6 217.0 L423.8 214.4 L428.9 215.7 L430.7 220.8 L426.3 224.7 L421.2 220.8ZM329.9 233.7 L333.0 228.5 L336.4 229.8 L338.9 226.0 L341.5 220.8M283.7 253.7 L285.0 245.2 L287.5 247.8 L290.1 244.0 L291.9 249.1 L296.5 246.0 L299.1 249.1M267.0 264.5 L270.8 262.0 L276.0 259.4 L278.5 254.2 L279.8 258.1 L282.4 255.5M249.0 291.5 L252.3 287.1 L256.7 288.9 L258.0 283.8 L261.8 279.9 L263.1 272.8 L267.0 271.0 L268.8 276.1M539.5 192.4 L541.1 184.7 L543.1 186.5 L544.1 196.3 L547.7 200.1 L556.0 198.8 L566.2 197.0 L576.5 196.3 L586.8 196.8 L594.5 197.6 L600.2 198.8 L607.4 201.4 L613.8 205.3 L617.1 210.4 L618.9 216.3 L622.3 219.9 L628.5 221.0 L633.6 217.6 L638.7 213.8 L644.9 208.6 L651.1 205.0 L657.8 204.5 L663.9 208.1 L669.1 213.2 L674.2 218.4 L679.4 224.0 L684.5 230.2 L689.6 236.1 L694.8 238.9 L697.9 244.1 L699.9 249.7 L699.4 255.9 L697.4 263.1 L696.3 270.8 L697.4 278.5 L699.9 284.2 L702.5 290.4 L706.3 297.0 L710.2 304.2 L714.3 309.9 L718.4 317.6 L723.1 327.4 L727.7 337.1 L730.0 342.3M620.7 218.9 L627.9 217.4 L635.7 214.8M697.4 273.4 L702.0 274.9 L707.1 278.0 L709.2 285.7 L705.6 290.4 L700.4 286.2 L698.4 279.8ZM630.5 177.8 L633.1 182.4 L635.7 180.3 L639.3 181.9M435.1 207.8 L440.3 211.2 L444.1 214.3 L449.3 217.4M430.0 215.6 L433.9 217.4 L439.0 216.3M779.1 108.0 L776.0 110.1 L772.5 112.1 L768.3 114.2 L764.0 116.4 L759.7 119.0 L757.1 122.4 L753.7 126.7 L750.3 131.3 L745.1 137.8 L741.7 143.3 L738.3 148.5 L734.8 156.7 L732.4 165.3 L731.4 172.1 L732.3 179.0 L734.0 187.5 L735.9 196.1 L738.3 206.4 L741.7 216.7 L746.0 227.0 L750.3 235.9 L755.4 245.0M730.7 192.0 L728.0 195.3 L729.4 200.4 L727.3 206.4 L729.7 213.3 L728.0 218.7 L730.0 223.5M728.8 225.2 L731.1 227.8 L732.4 232.1 L730.7 233.5 L729.0 230.4ZM748.9 120.4 L750.6 124.5 L752.7 127.6 L756.3 125.5 L759.2 122.4 L761.9 119.9M734.5 149.5 L736.6 154.1 L733.1 158.8 L735.7 161.8 L730.7 166.1 L731.4 170.4M684.3 230.0 L687.2 234.3 L689.5 237.4 L695.0 238.2 L698.9 243.6 L700.8 249.4 L699.8 257.2 L697.9 263.0 L696.0 268.9 L696.9 276.6 L698.9 284.4 L701.8 292.2 L705.7 300.0 L710.1 305.8 L714.8 311.2 L717.5 317.5 L720.3 323.3 L724.1 327.2 L727.1 331.5 L729.2 336.9 L731.9 341.8 L737.7 345.1 L743.6 348.6 L747.5 352.8 L750.2 358.3 L751.4 364.1 L755.2 368.0 L761.1 369.2 L766.9 368.0 L772.7 364.1 L776.6 358.3 L779.0 350.5 L780.5 342.7 L781.7 335.0 L782.1 327.2 L782.1 319.4 L780.5 311.6 L778.2 303.9 L775.1 296.1 L771.6 286.8 L767.9 276.6 L764.4 266.9 L761.8 257.2 L758.2 249.4 L753.7 240.7 L747.9 230.0M749.4 308.7 L752.9 303.1 L758.2 300.4 L762.2 303.1 L763.4 308.7 L761.5 315.5 L758.2 317.5 L754.3 315.5 L750.6 312.8ZM729.0 251.4 L731.5 251.8 L732.3 254.9 L730.0 255.3ZM741.6 245.2 L744.5 247.5 L747.5 249.0 L749.8 252.9 L751.4 251.8M739.7 263.4 L742.6 266.0 L739.7 270.8 L742.6 272.8 L744.5 277.6 L743.6 280.9M742.0 292.6 L744.0 292.2 L744.7 296.1 L742.8 297.1ZM724.1 247.5 L727.1 249.0M771.8 299.0 L774.7 298.0 L776.6 300.0M714.4 307.7 L718.3 309.7 L722.2 308.7M726.1 321.4 L728.4 318.4M812.5 311.8 L818.3 317.6 L822.2 320.1 L830.0 317.8 L839.7 314.7 L846.5 313.1 L845.5 309.8 L837.7 311.2 L830.0 312.4 L826.1 308.9 L822.2 311.2 L817.3 314.7ZM829.0 293.7 L835.8 297.2 L843.6 300.1 L851.4 302.1M845.5 305.0 L853.3 303.0 L861.1 306.9 L866.9 310.8 L873.1 313.7 L875.1 318.6 L872.0 324.4 L869.2 330.3 L868.8 339.0 L865.0 335.1 L862.2 332.6 L866.1 328.3 L866.9 322.5 L865.0 316.6 L859.1 311.8 L851.4 308.1 L846.7 307.3ZM847.5 341.9 L851.4 344.8 L854.3 348.7 L853.3 353.6 L849.4 355.5M806.6 345.8 L806.3 351.6 L809.6 357.5 L811.5 363.3M840.7 359.4 L844.0 365.2 L848.6 373.0 L853.3 378.8 L857.2 386.6 L861.5 396.3 L865.0 406.1 L861.5 413.8 L857.2 411.9 L853.3 406.1 L849.4 398.7 L845.5 390.9 L839.7 385.1 L832.3 382.0 L837.0 378.8 L839.7 373.0 L839.7 365.2ZM861.1 367.2 L865.9 366.0 L872.7 364.1 L878.6 361.0 L881.5 355.5 L884.4 348.9 L887.5 347.7 L892.2 351.6 L898.4 356.7 L902.3 361.4 L904.2 367.2 L905.0 375.3 L901.9 373.0 L899.2 367.2 L896.1 361.7 L892.2 358.6 L886.7 355.9 L880.9 361.4 L875.1 365.2 L868.8 368.2 L863.0 368.7ZM883.4 372.0 L885.4 380.8 L892.2 389.0 L899.9 398.7 L907.7 408.4 L915.5 413.8 L929.5 417.7 L921.3 414.8 L911.6 413.8M917.4 375.0 L921.7 378.8 L926.4 384.7 L929.5 388.6 L931.4 392.1 L927.5 393.6 L925.2 390.5 L921.3 384.3ZM917.4 439.1 L923.3 431.7 L929.1 427.8 L936.9 423.9M772.1 409.9 L777.5 407.6 L782.9 406.1M791.1 404.1 L796.9 411.9 L804.3 423.5M931.4 408.4 L934.9 411.9 L936.1 417.7M810.0 452.4 L802.8 449.3 L796.6 446.2 L790.4 443.1 L784.2 440.8 L778.1 438.5 L771.9 437.0 L765.7 434.7 L759.6 433.6 L753.4 434.7 L747.2 437.0 L742.6 440.1 L741.1 439.3 L738.0 437.7 L730.3 437.3 L722.5 437.3 L714.8 438.5 L707.1 441.6 L699.4 443.1 L691.7 444.7 L684.0 447.0 L676.3 449.3 L668.6 452.4 L660.8 457.0 L656.2 461.6 L653.1 466.3 L653.9 472.4 L651.6 477.1 L645.4 479.4 L639.3 481.7 L636.2 483.2 L639.3 484.8 L645.4 484.0 L649.3 486.6 L651.6 487.2 L656.2 483.2 L660.8 481.7 L667.0 479.4 L667.0 475.5 L670.1 474.0 L676.3 472.4 L682.4 470.9 L688.6 469.4 L693.2 466.3 L697.9 461.6 L702.5 457.0 L704.3 454.7 L710.2 453.9 L722.5 453.9 L731.8 454.2 L738.0 456.4 L738.9 459.5 L736.4 461.6 L730.3 462.0 L724.1 463.2 L725.6 466.3 L730.3 469.4 L736.4 471.7 L742.6 473.2 L748.8 474.0 L752.6 473.2 L753.7 467.0 L755.2 471.2 L758.0 473.2 L765.7 473.2 L775.0 473.2 L781.2 476.3 L787.3 479.4 L793.5 481.7 L799.7 484.8 L805.8 486.3 L810.0 487.2M694.8 481.7 L697.9 480.2 L704.0 479.5 L708.7 481.7 L710.2 486.3 L711.7 491.0 L708.7 494.8 L702.5 496.3 L696.3 495.6 L692.5 492.5 L691.7 490.2 L694.8 487.9 L695.6 484.8ZM710.2 487.9 L716.4 491.0 L725.6 489.7 L734.9 488.2 L744.1 487.9 L753.4 487.2 L759.6 486.6M677.8 478.6 L685.5 479.8M699.7 474.0 L702.5 470.1 L705.6 466.3M707.1 457.0 L710.2 460.1 L713.3 461.6 L716.4 460.9 L718.7 464.7M780.0 437.6 L789.6 442.4 L799.2 447.5 L807.2 453.6 L813.6 458.4 L821.6 460.0 L829.6 461.9 L837.6 464.2 L845.6 466.7 L853.6 469.9 L861.6 473.8 L869.6 477.6 L877.6 481.8 L884.0 485.0 L892.0 488.2 L900.0 490.7 L908.0 493.6 L916.0 496.2 L924.0 495.2 L930.4 497.1 L931.4 501.6 L927.2 504.8 L929.6 507.4 L936.8 508.3 L944.0 508.0M780.0 476.0 L786.4 479.5 L792.8 482.7 L800.8 484.8 L808.8 486.6 L818.4 487.2 L826.4 485.0 L831.5 484.6 L834.4 489.1 L837.0 495.5 L840.2 501.9 L844.0 507.4 L848.8 511.2 L855.2 513.8 L863.2 513.8 L871.2 512.8 L879.5 512.8 L884.3 516.3 L885.9 521.1 L882.7 525.9 L877.6 530.7 L871.5 535.5 L867.2 542.6 L876.0 541.0 L884.0 539.4 L892.0 537.8 L900.0 536.2 L908.0 534.6 L916.0 533.6 L924.0 533.9 L932.0 533.9 L940.0 534.4 L947.2 534.9M810.4 502.4 L815.5 504.8 L821.9 508.3 L828.3 511.5 L834.7 514.7 L841.1 517.0 L845.9 518.6 L850.7 517.9 L860.0 522.4 L863.2 525.6M932.8 423.5 L924.0 427.2 L918.4 432.8 L916.8 440.8 L919.2 448.8 L922.4 455.2 L925.3 460.0M791.5 552.8 L796.0 551.5M797.9 552.2 L803.7 549.6M800.8 420.0 L804.0 423.2M850.3 597.4 L850.7 594.0 L854.1 590.6 L860.6 590.1 L864.9 587.6 L870.8 587.8 L877.7 587.8 L884.6 588.2 L891.4 589.0 L896.6 588.9 L900.0 592.3 L905.1 594.4 L911.1 595.3 L915.4 595.7 L917.5 599.1 L918.8 602.6 L921.4 604.3 L917.1 605.8 L910.3 606.8 L906.0 604.7 L901.7 604.3 L900.0 605.1 L899.1 607.7 L894.8 608.4 L893.1 606.8 L891.4 607.7 L890.6 610.3 L894.0 612.0 L889.7 612.8 L886.3 611.1 L882.8 609.0 L877.7 609.0 L872.6 609.8 L869.1 607.7 L867.4 604.7 L864.0 603.4 L861.4 600.0 L859.7 598.3 L854.6 599.1ZM929.3 620.6 L929.5 621.4M262.6 325.0 L262.3 330.0 L263.7 336.9 L262.3 343.7 L258.9 350.6 L255.4 356.6 L252.0 362.6 L248.6 369.4 L246.0 376.3 L243.8 383.1 L242.1 390.0 L240.9 398.6 L240.0 405.4 L239.1 412.3 L238.6 419.1 L237.9 426.0 L237.4 432.9 L235.7 439.7 L234.0 446.6 L233.5 453.4 L234.5 460.3 L235.7 467.1 L238.3 474.0 L241.7 480.0M210.9 465.8 L214.3 463.7M216.9 462.3 L219.1 463.0M221.1 457.2 L224.9 455.1 L228.3 456.9 L227.3 461.3 L223.9 462.0ZM231.1 462.3 L232.8 461.7 L233.5 465.4 L231.8 466.3ZM218.1 450.3 L219.4 451.0 L218.7 452.4ZM236.3 470.0 L237.1 476.9 L240.6 483.7 L243.1 490.6 L245.7 499.1 L249.1 507.7 L252.6 516.3 L257.7 523.1 L262.9 530.0 L268.0 537.7 L272.3 545.4 L274.0 554.0 L275.7 562.6 L280.0 567.7 L284.3 572.9 L288.6 579.7 L293.7 583.1 L300.6 584.0 L309.1 584.9 L313.4 588.3 L316.0 591.7 L321.1 590.9 L324.6 596.9 L328.0 602.9 L333.1 605.4 L340.0 603.7 L348.6 602.0 L357.1 599.4 L364.0 597.7 L370.0 596.5M237.1 476.9 L239.7 482.0 L242.3 487.1 L245.7 485.4 L247.4 482.0 L242.3 478.6 L238.9 475.1ZM262.0 592.6 L265.4 594.3 L268.9 597.7 L270.6 602.0 L268.0 602.9 L264.6 600.3 L262.9 596.9ZM283.4 590.0 L286.0 586.9 L288.9 587.6M310.9 596.0 L313.4 594.3 L315.1 596.9 L312.6 597.7ZM322.9 615.7 L325.4 614.9 L326.3 618.3 L323.7 619.1ZM280.9 566.0 L283.1 566.9M360.0 597.9 L367.9 596.3 L375.8 598.3 L383.7 594.3 L391.5 592.3 L399.4 590.4 L407.3 589.4 L413.2 589.4 L414.2 593.3 L419.1 590.4 L425.0 587.4 L431.0 583.5 L438.8 579.5 L446.7 574.6 L452.6 569.7 L454.6 562.8 L455.6 555.9 L460.5 550.0 L461.5 541.1 L462.1 531.2 L462.5 521.4 L464.5 515.5 L468.4 511.5 L474.3 508.6 L482.2 505.6 L490.1 503.7 L498.0 502.1 L507.8 500.7 L517.7 499.3 L523.6 496.2 L531.5 494.2 L539.3 493.4 L547.2 494.8 L555.1 496.8 L561.0 497.7 L565.0 495.4 L569.9 493.8 L574.8 496.8 L578.8 501.7 L579.8 509.6 L576.8 515.5 L572.9 520.4 L566.9 527.3 L563.0 533.2 L559.1 540.1 L557.1 547.0 L556.7 552.9 L555.1 558.8 L554.1 566.7 L555.1 572.6 L552.2 582.5 L549.2 592.3 L546.2 602.2 L543.3 612.0 L540.3 621.9 L537.4 631.8 L535.4 640.0M411.2 594.3 L417.2 591.4 L425.0 588.4 L431.0 586.4 L435.9 588.0 L433.9 593.3 L429.0 596.3 L424.1 598.3 L419.1 597.3 L415.2 596.3ZM571.9 537.2 L573.8 531.2 L577.8 528.3 L580.7 528.3 L578.8 533.2 L574.8 538.1ZM561.0 497.7 L566.0 498.7 L568.9 495.8M544.3 610.1 L540.3 604.2 L539.3 596.3 L538.4 587.4 L535.4 590.4 L532.5 596.3 L528.5 602.2 L528.5 604.2 L533.4 602.2 L537.4 606.1 L534.4 618.0 L531.5 629.8 L529.9 640.0M549.2 558.8 L553.1 556.9 L557.1 560.8 L555.1 564.7 L551.2 564.7ZM551.2 569.1 L555.1 569.9 L554.1 574.6 L551.2 573.8ZM444.7 625.8 L447.7 623.9 L450.7 625.8 L447.7 629.8ZM561.0 589.4 L561.4 595.3M404.3 512.5 L407.3 514.5M414.2 538.1 L414.6 539.1M576.8 496.8 L579.8 499.7 L578.8 503.7 L580.7 506.6M547.9 600.0 L545.8 608.2 L541.7 616.5 L538.6 624.7 L536.6 632.9 L534.5 641.1 L532.4 649.4 L530.4 657.6 L527.3 665.8 L521.1 672.0 L515.0 678.1 L509.8 683.3 L510.8 687.4 L518.0 690.5 L521.1 688.4 L523.2 686.4 L529.4 690.5 L535.5 693.6 L541.7 690.5 L547.9 687.4 L553.0 687.4 L554.0 690.5 L562.3 689.5 L572.5 690.5 L582.8 690.5 L591.1 689.5 L599.3 686.4 L605.4 683.3 L611.6 683.9 L619.8 686.4 L628.1 686.0 L636.3 683.3 L642.5 684.3 L650.7 687.4 L661.0 688.4 L669.2 694.6 L677.4 700.8 L685.7 704.9 L693.9 709.0 L700.1 715.2 L695.9 719.3 L693.9 727.5 L695.9 735.7 L697.0 742.9M541.5 617.1 L538.8 623.9 L537.4 632.1 L538.8 641.5 L537.4 651.2 L535.9 659.4 L537.4 667.7 L533.3 675.9 L530.6 678.6M561.4 603.5 L559.4 607.0 L560.2 609.3ZM559.0 595.9 L558.1 597.5ZM494.4 700.8 L496.9 703.9 L502.6 702.8 L508.8 698.7 L512.9 692.5M573.6 679.4 L575.8 680.2M607.5 668.3 L610.0 666.8M539.6 721.3 L541.3 722.4 L540.7 724.6ZM488.2 741.9 L491.3 740.9M480.0 648.9 L484.1 649.4M493.4 646.9 L496.5 647.3M667.1 700.8 L671.3 698.7 L677.4 703.9 L679.5 708.0 L674.3 706.9 L669.2 704.9ZM691.8 721.3 L694.9 719.3 L695.9 725.4 L693.9 728.5ZM154.9 639.4 L159.9 642.4 L169.9 644.9 L179.8 647.3 L188.5 651.1 L194.7 658.5 L204.6 662.2 L212.1 667.2 L219.6 672.2 L229.5 674.7 L239.4 677.2 L246.9 682.1 L254.3 685.1 L261.8 685.9 L269.3 685.1 L276.7 682.1 L286.6 679.6 L296.6 677.2 L304.0 672.2 L310.3 669.7 L319.0 670.4 L328.9 672.2 L338.8 675.9 L346.3 679.6 L356.2 688.3 L363.7 694.6 L371.1 702.0 L378.6 709.5 L386.0 716.9 L393.5 724.4 L401.0 731.8 L408.4 739.3 L414.6 744.3M351.3 641.1 L356.2 638.6 L361.2 639.9 L366.2 644.9 L363.7 646.1 L358.7 642.4 L352.5 642.9ZM294.1 661.0 L296.1 656.8 L297.8 661.0ZM378.6 672.2 L383.6 668.5 L388.5 673.4 L393.5 675.9 L398.5 679.6 L403.4 683.4 L405.9 686.6M382.3 679.6 L387.3 677.7 L392.3 680.9M432.0 725.6 L434.8 728.1M440.0 221.1 L442.6 223.7 L443.4 228.0 L445.1 231.4 L448.6 234.0 L452.0 236.6 L454.6 240.0 L458.9 240.0 L463.1 236.6 L466.6 233.1 L470.0 232.3 L473.4 234.8 L476.0 238.3 L480.3 234.8 L483.7 233.1 L487.1 232.3 L491.4 233.1 L494.8 235.7 L498.3 238.3 L500.0 241.7 L500.0 245.1 L503.4 240.0 L506.8 241.7 L508.6 238.3 L512.0 236.6 L510.3 234.8 L506.8 231.4 L503.4 229.7 L500.0 229.7 L496.6 228.0 L493.1 224.6 L492.3 220.3 L494.8 216.8 L498.3 214.3 L501.7 210.8 L505.1 207.4 L506.8 204.9 L501.7 202.3 L498.3 202.7 L494.8 203.1 L491.4 204.0 L488.8 205.7 L488.0 208.3 L489.7 210.8 L493.1 212.6 L494.8 210.0 L494.8 207.4 L498.3 204.9 L500.0 201.4 L501.7 198.9 L505.1 197.1 L508.6 196.3 L512.0 195.9 L515.4 195.4 L518.8 196.3 L522.3 197.1 L525.7 197.1 L529.1 197.1 L532.5 196.7 L536.0 197.6 L538.5 198.0 L540.0 197.6 L539.2 192.4M465.7 200.1 L467.4 197.6 L470.0 198.0 L470.8 200.1 L469.1 202.3 L466.6 202.3ZM470.8 201.4 L472.6 198.4 L476.0 196.3 L479.4 196.3 L482.0 198.0 L484.6 200.6 L488.0 202.3 L486.7 204.9 L483.7 207.0 L480.3 207.8 L476.0 207.8 L472.6 206.6 L470.8 204.0ZM473.0 219.4 L474.3 216.0 L476.8 214.3 L477.7 216.8 L476.0 219.4 L473.8 220.3ZM440.0 209.1 L442.6 211.7 L445.1 214.3 L449.4 217.7M508.6 201.9 L513.7 201.4 L518.8 201.3 L524.0 201.9 L529.1 202.3 L534.3 201.9 L537.7 200.6M516.3 207.4 L517.1 211.7 L515.4 216.0 L513.7 220.3 L510.3 224.6 L506.8 227.1" fill="none" stroke="#663300" stroke-width="1.3" stroke-linejoin="round" stroke-linecap="round"/></g>
<path d="M197.6,90.6 L209.7,91.7 L221.8,92.7 L234,93.7 L246.1,94.6 L258.3,95.5 L270.4,96.4 L282.6,97.3 L294.7,98.1 L306.9,98.8 L319,99.6 L331.2,100.3 L343.4,100.9 L355.5,101.5 L367.7,102.1 L379.8,102.7 L392,103.2 L404.2,103.7 L416.4,104.1 L428.5,104.5 L440.7,104.9 L452.9,105.2 L465.1,105.5 L477.2,105.7 L489.4,106 L501.6,106.1 L513.8,106.3 L526,106.4 L538.1,106.5 L550.3,106.5 L562.5,106.5 L574.7,106.5 L586.8,106.4 L599,106.3 L611.2,106.1 L623.4,106 L635.6,105.7 L647.7,105.5 L659.9,105.2 L672.1,104.9 L684.3,104.5 L696.4,104.1 L708.6,103.7 L720.8,103.2 L733,102.7 L745.1,102.1 L757.3,101.5 L769.4,100.9 L781.6,100.3 L793.8,99.6 L805.9,98.8 L818.1,98.1 L830.2,97.3 L842.4,96.4 L854.5,95.5 L866.7,94.6 L878.8,93.7 L891,92.7 L903.1,91.7 L915.2,90.6 L915.2,90.6 L916.2,101.6 L917.2,112.6 L918.2,123.6 L919.1,134.5 L920.1,145.5 L921.1,156.4 L922.1,167.3 L923,178.3 L924,189.2 L925,200.1 L925.9,211 L926.9,221.9 L927.9,232.8 L928.8,243.7 L929.8,254.6 L930.8,265.5 L931.7,276.4 L932.7,287.2 L933.7,298.1 L934.6,309 L935.6,319.8 L936.6,330.7 L937.5,341.5 L938.5,352.4 L939.5,363.3 L940.4,374.1 L941.4,385 L942.3,395.8 L943.3,406.7 L944.3,417.5 L945.2,428.4 L946.2,439.2 L947.2,450.1 L948.1,461 L949.1,471.8 L950.1,482.7 L951,493.6 L952,504.4 L953,515.3 L953.9,526.2 L954.9,537.1 L955.9,547.9 L956.8,558.8 L957.8,569.7 L958.8,580.6 L959.7,591.5 L960.7,602.4 L961.7,613.4 L962.6,624.3 L963.6,635.2 L964.6,646.2 L965.6,657.1 L966.5,668.1 L967.5,679 L968.5,690 L969.5,701 L970.4,712 L971.4,723 L972.4,734 L972.4,734 L958.3,735.2 L944.3,736.4 L930.2,737.5 L916.1,738.6 L902,739.7 L887.9,740.7 L873.9,741.7 L859.8,742.6 L845.7,743.5 L831.6,744.4 L817.5,745.2 L803.4,745.9 L789.3,746.6 L775.2,747.3 L761.1,748 L747,748.6 L732.9,749.1 L718.7,749.6 L704.6,750.1 L690.5,750.5 L676.4,750.9 L662.3,751.2 L648.2,751.5 L634.1,751.8 L619.9,752 L605.8,752.2 L591.7,752.3 L577.6,752.4 L563.5,752.4 L549.3,752.4 L535.2,752.4 L521.1,752.3 L507,752.2 L492.9,752 L478.7,751.8 L464.6,751.5 L450.5,751.2 L436.4,750.9 L422.3,750.5 L408.2,750.1 L394.1,749.6 L379.9,749.1 L365.8,748.6 L351.7,748 L337.6,747.3 L323.5,746.6 L309.4,745.9 L295.3,745.2 L281.2,744.4 L267.1,743.5 L253,742.6 L238.9,741.7 L224.9,740.7 L210.8,739.7 L196.7,738.6 L182.6,737.5 L168.5,736.4 L154.5,735.2 L140.4,734 L140.4,734 L141.4,723 L142.4,712 L143.3,701 L144.3,690 L145.3,679 L146.3,668.1 L147.2,657.1 L148.2,646.2 L149.2,635.2 L150.2,624.3 L151.1,613.4 L152.1,602.4 L153.1,591.5 L154,580.6 L155,569.7 L156,558.8 L156.9,547.9 L157.9,537.1 L158.9,526.2 L159.8,515.3 L160.8,504.4 L161.8,493.6 L162.7,482.7 L163.7,471.8 L164.7,461 L165.6,450.1 L166.6,439.2 L167.6,428.4 L168.5,417.5 L169.5,406.7 L170.5,395.8 L171.4,385 L172.4,374.1 L173.3,363.3 L174.3,352.4 L175.3,341.5 L176.2,330.7 L177.2,319.8 L178.2,309 L179.1,298.1 L180.1,287.2 L181.1,276.4 L182,265.5 L183,254.6 L184,243.7 L184.9,232.8 L185.9,221.9 L186.9,211 L187.8,200.1 L188.8,189.2 L189.8,178.3 L190.7,167.3 L191.7,156.4 L192.7,145.5 L193.7,134.5 L194.6,123.6 L195.6,112.6 L196.6,101.6 L197.6,90.6Z M203.5,98.4 L215.4,99.4 L227.4,100.4 L239.3,101.3 L251.2,102.2 L263.2,103.1 L275.1,104 L287.1,104.8 L299,105.6 L311,106.3 L323,107 L334.9,107.7 L346.9,108.3 L358.8,108.9 L370.8,109.5 L382.8,110 L394.7,110.5 L406.7,111 L418.7,111.4 L430.7,111.8 L442.6,112.1 L454.6,112.4 L466.6,112.7 L478.5,113 L490.5,113.2 L502.5,113.4 L514.5,113.5 L526.5,113.6 L538.4,113.7 L550.4,113.7 L562.4,113.7 L574.4,113.7 L586.3,113.6 L598.3,113.5 L610.3,113.4 L622.3,113.2 L634.3,113 L646.2,112.7 L658.2,112.4 L670.2,112.1 L682.1,111.8 L694.1,111.4 L706.1,111 L718.1,110.5 L730,110 L742,109.5 L754,108.9 L765.9,108.3 L777.9,107.7 L789.8,107 L801.8,106.3 L813.8,105.6 L825.7,104.8 L837.7,104 L849.6,103.1 L861.6,102.2 L873.5,101.3 L885.4,100.4 L897.4,99.4 L909.3,98.4 L909.3,98.4 L910.2,109.1 L911.2,119.8 L912.1,130.6 L913,141.3 L914,152 L914.9,162.7 L915.8,173.4 L916.8,184.1 L917.7,194.7 L918.6,205.4 L919.6,216.1 L920.5,226.7 L921.4,237.4 L922.4,248.1 L923.3,258.7 L924.2,269.3 L925.1,280 L926.1,290.6 L927,301.2 L927.9,311.9 L928.8,322.5 L929.8,333.1 L930.7,343.7 L931.6,354.4 L932.6,365 L933.5,375.6 L934.4,386.2 L935.3,396.8 L936.3,407.5 L937.2,418.1 L938.1,428.7 L939,439.3 L940,449.9 L940.9,460.5 L941.8,471.2 L942.7,481.8 L943.7,492.4 L944.6,503.1 L945.5,513.7 L946.4,524.3 L947.4,535 L948.3,545.6 L949.2,556.3 L950.2,566.9 L951.1,577.6 L952,588.2 L953,598.9 L953.9,609.6 L954.8,620.3 L955.7,631 L956.7,641.7 L957.6,652.4 L958.5,663.1 L959.5,673.8 L960.4,684.5 L961.4,695.3 L962.3,706 L963.2,716.8 L964.2,727.5 L964.2,727.5 L950.4,728.7 L936.6,729.9 L922.8,731 L909,732 L895.2,733 L881.4,734 L867.6,734.9 L853.8,735.8 L839.9,736.7 L826.1,737.5 L812.3,738.3 L798.5,739 L784.7,739.7 L770.8,740.4 L757,741 L743.2,741.6 L729.4,742.1 L715.5,742.6 L701.7,743 L687.9,743.4 L674,743.8 L660.2,744.1 L646.4,744.4 L632.5,744.7 L618.7,744.9 L604.8,745 L591,745.1 L577.2,745.2 L563.3,745.3 L549.5,745.3 L535.6,745.2 L521.8,745.1 L508,745 L494.1,744.9 L480.3,744.7 L466.4,744.4 L452.6,744.1 L438.8,743.8 L424.9,743.4 L411.1,743 L397.3,742.6 L383.4,742.1 L369.6,741.6 L355.8,741 L342,740.4 L328.1,739.7 L314.3,739 L300.5,738.3 L286.7,737.5 L272.9,736.7 L259,735.8 L245.2,734.9 L231.4,734 L217.6,733 L203.8,732 L190,731 L176.2,729.9 L162.4,728.7 L148.6,727.5 L148.6,727.5 L149.6,716.8 L150.5,706 L151.4,695.3 L152.4,684.5 L153.3,673.8 L154.3,663.1 L155.2,652.4 L156.1,641.7 L157.1,631 L158,620.3 L158.9,609.6 L159.8,598.9 L160.8,588.2 L161.7,577.6 L162.6,566.9 L163.6,556.3 L164.5,545.6 L165.4,535 L166.4,524.3 L167.3,513.7 L168.2,503.1 L169.1,492.4 L170.1,481.8 L171,471.2 L171.9,460.5 L172.8,449.9 L173.8,439.3 L174.7,428.7 L175.6,418.1 L176.5,407.5 L177.5,396.8 L178.4,386.2 L179.3,375.6 L180.2,365 L181.2,354.4 L182.1,343.7 L183,333.1 L184,322.5 L184.9,311.9 L185.8,301.2 L186.7,290.6 L187.7,280 L188.6,269.3 L189.5,258.7 L190.4,248.1 L191.4,237.4 L192.3,226.7 L193.2,216.1 L194.2,205.4 L195.1,194.7 L196,184.1 L197,173.4 L197.9,162.7 L198.8,152 L199.8,141.3 L200.7,130.6 L201.6,119.8 L202.6,109.1 L203.5,98.4Z" fill="#fff" fill-rule="evenodd" stroke="none"/>
<polygon points="197.6,90.6 209.7,91.7 221.8,92.7 234,93.7 246.1,94.6 258.3,95.5 270.4,96.4 282.6,97.3 294.7,98.1 306.9,98.8 319,99.6 331.2,100.3 343.4,100.9 355.5,101.5 367.7,102.1 379.8,102.7 392,103.2 404.2,103.7 416.4,104.1 428.5,104.5 440.7,104.9 452.9,105.2 465.1,105.5 477.2,105.7 489.4,106 501.6,106.1 513.8,106.3 526,106.4 538.1,106.5 550.3,106.5 562.5,106.5 574.7,106.5 586.8,106.4 599,106.3 611.2,106.1 623.4,106 635.6,105.7 647.7,105.5 659.9,105.2 672.1,104.9 684.3,104.5 696.4,104.1 708.6,103.7 720.8,103.2 733,102.7 745.1,102.1 757.3,101.5 769.4,100.9 781.6,100.3 793.8,99.6 805.9,98.8 818.1,98.1 830.2,97.3 842.4,96.4 854.5,95.5 866.7,94.6 878.8,93.7 891,92.7 903.1,91.7 915.2,90.6 915.2,90.6 916.2,101.6 917.2,112.6 918.2,123.6 919.1,134.5 920.1,145.5 921.1,156.4 922.1,167.3 923,178.3 924,189.2 925,200.1 925.9,211 926.9,221.9 927.9,232.8 928.8,243.7 929.8,254.6 930.8,265.5 931.7,276.4 932.7,287.2 933.7,298.1 934.6,309 935.6,319.8 936.6,330.7 937.5,341.5 938.5,352.4 939.5,363.3 940.4,374.1 941.4,385 942.3,395.8 943.3,406.7 944.3,417.5 945.2,428.4 946.2,439.2 947.2,450.1 948.1,461 949.1,471.8 950.1,482.7 951,493.6 952,504.4 953,515.3 953.9,526.2 954.9,537.1 955.9,547.9 956.8,558.8 957.8,569.7 958.8,580.6 959.7,591.5 960.7,602.4 961.7,613.4 962.6,624.3 963.6,635.2 964.6,646.2 965.6,657.1 966.5,668.1 967.5,679 968.5,690 969.5,701 970.4,712 971.4,723 972.4,734 972.4,734 958.3,735.2 944.3,736.4 930.2,737.5 916.1,738.6 902,739.7 887.9,740.7 873.9,741.7 859.8,742.6 845.7,743.5 831.6,744.4 817.5,745.2 803.4,745.9 789.3,746.6 775.2,747.3 761.1,748 747,748.6 732.9,749.1 718.7,749.6 704.6,750.1 690.5,750.5 676.4,750.9 662.3,751.2 648.2,751.5 634.1,751.8 619.9,752 605.8,752.2 591.7,752.3 577.6,752.4 563.5,752.4 549.3,752.4 535.2,752.4 521.1,752.3 507,752.2 492.9,752 478.7,751.8 464.6,751.5 450.5,751.2 436.4,750.9 422.3,750.5 408.2,750.1 394.1,749.6 379.9,749.1 365.8,748.6 351.7,748 337.6,747.3 323.5,746.6 309.4,745.9 295.3,745.2 281.2,744.4 267.1,743.5 253,742.6 238.9,741.7 224.9,740.7 210.8,739.7 196.7,738.6 182.6,737.5 168.5,736.4 154.5,735.2 140.4,734 140.4,734 141.4,723 142.4,712 143.3,701 144.3,690 145.3,679 146.3,668.1 147.2,657.1 148.2,646.2 149.2,635.2 150.2,624.3 151.1,613.4 152.1,602.4 153.1,591.5 154,580.6 155,569.7 156,558.8 156.9,547.9 157.9,537.1 158.9,526.2 159.8,515.3 160.8,504.4 161.8,493.6 162.7,482.7 163.7,471.8 164.7,461 165.6,450.1 166.6,439.2 167.6,428.4 168.5,417.5 169.5,406.7 170.5,395.8 171.4,385 172.4,374.1 173.3,363.3 174.3,352.4 175.3,341.5 176.2,330.7 177.2,319.8 178.2,309 179.1,298.1 180.1,287.2 181.1,276.4 182,265.5 183,254.6 184,243.7 184.9,232.8 185.9,221.9 186.9,211 187.8,200.1 188.8,189.2 189.8,178.3 190.7,167.3 191.7,156.4 192.7,145.5 193.7,134.5 194.6,123.6 195.6,112.6 196.6,101.6 197.6,90.6" fill="none" stroke="#000" stroke-width="0.8"/>
<polygon points="203.5,98.4 215.4,99.4 227.4,100.4 239.3,101.3 251.2,102.2 263.2,103.1 275.1,104 287.1,104.8 299,105.6 311,106.3 323,107 334.9,107.7 346.9,108.3 358.8,108.9 370.8,109.5 382.8,110 394.7,110.5 406.7,111 418.7,111.4 430.7,111.8 442.6,112.1 454.6,112.4 466.6,112.7 478.5,113 490.5,113.2 502.5,113.4 514.5,113.5 526.5,113.6 538.4,113.7 550.4,113.7 562.4,113.7 574.4,113.7 586.3,113.6 598.3,113.5 610.3,113.4 622.3,113.2 634.3,113 646.2,112.7 658.2,112.4 670.2,112.1 682.1,111.8 694.1,111.4 706.1,111 718.1,110.5 730,110 742,109.5 754,108.9 765.9,108.3 777.9,107.7 789.8,107 801.8,106.3 813.8,105.6 825.7,104.8 837.7,104 849.6,103.1 861.6,102.2 873.5,101.3 885.4,100.4 897.4,99.4 909.3,98.4 909.3,98.4 910.2,109.1 911.2,119.8 912.1,130.6 913,141.3 914,152 914.9,162.7 915.8,173.4 916.8,184.1 917.7,194.7 918.6,205.4 919.6,216.1 920.5,226.7 921.4,237.4 922.4,248.1 923.3,258.7 924.2,269.3 925.1,280 926.1,290.6 927,301.2 927.9,311.9 928.8,322.5 929.8,333.1 930.7,343.7 931.6,354.4 932.6,365 933.5,375.6 934.4,386.2 935.3,396.8 936.3,407.5 937.2,418.1 938.1,428.7 939,439.3 940,449.9 940.9,460.5 941.8,471.2 942.7,481.8 943.7,492.4 944.6,503.1 945.5,513.7 946.4,524.3 947.4,535 948.3,545.6 949.2,556.3 950.2,566.9 951.1,577.6 952,588.2 953,598.9 953.9,609.6 954.8,620.3 955.7,631 956.7,641.7 957.6,652.4 958.5,663.1 959.5,673.8 960.4,684.5 961.4,695.3 962.3,706 963.2,716.8 964.2,727.5 964.2,727.5 950.4,728.7 936.6,729.9 922.8,731 909,732 895.2,733 881.4,734 867.6,734.9 853.8,735.8 839.9,736.7 826.1,737.5 812.3,738.3 798.5,739 784.7,739.7 770.8,740.4 757,741 743.2,741.6 729.4,742.1 715.5,742.6 701.7,743 687.9,743.4 674,743.8 660.2,744.1 646.4,744.4 632.5,744.7 618.7,744.9 604.8,745 591,745.1 577.2,745.2 563.3,745.3 549.5,745.3 535.6,745.2 521.8,745.1 508,745 494.1,744.9 480.3,744.7 466.4,744.4 452.6,744.1 438.8,743.8 424.9,743.4 411.1,743 397.3,742.6 383.4,742.1 369.6,741.6 355.8,741 342,740.4 328.1,739.7 314.3,739 300.5,738.3 286.7,737.5 272.9,736.7 259,735.8 245.2,734.9 231.4,734 217.6,733 203.8,732 190,731 176.2,729.9 162.4,728.7 148.6,727.5 148.6,727.5 149.6,716.8 150.5,706 151.4,695.3 152.4,684.5 153.3,673.8 154.3,663.1 155.2,652.4 156.1,641.7 157.1,631 158,620.3 158.9,609.6 159.8,598.9 160.8,588.2 161.7,577.6 162.6,566.9 163.6,556.3 164.5,545.6 165.4,535 166.4,524.3 167.3,513.7 168.2,503.1 169.1,492.4 170.1,481.8 171,471.2 171.9,460.5 172.8,449.9 173.8,439.3 174.7,428.7 175.6,418.1 176.5,407.5 177.5,396.8 178.4,386.2 179.3,375.6 180.2,365 181.2,354.4 182.1,343.7 183,333.1 184,322.5 184.9,311.9 185.8,301.2 186.7,290.6 187.7,280 188.6,269.3 189.5,258.7 190.4,248.1 191.4,237.4 192.3,226.7 193.2,216.1 194.2,205.4 195.1,194.7 196,184.1 197,173.4 197.9,162.7 198.8,152 199.8,141.3 200.7,130.6 201.6,119.8 202.6,109.1 203.5,98.4" fill="none" stroke="#000" stroke-width="0.8"/>
<path d="M269.2 96.3L268.7 103.5M269.2 96.3L268.7 103.5M340.9 100.8L340.5 108M340.9 100.8L340.5 108M412.7 104L412.5 111.2M412.7 104L412.5 111.2M484.5 105.9L484.4 113.1M484.5 105.9L484.4 113.1M556.4 106.5L556.4 113.7M556.4 106.5L556.4 113.7M628.3 105.9L628.4 113.1M628.3 105.9L628.4 113.1M700.1 104L700.3 111.2M700.1 104L700.3 111.2M771.9 100.8L772.3 108M771.9 100.8L772.3 108M843.6 96.3L844.1 103.5M843.6 96.3L844.1 103.5M223.5 740.6L224 733.5M223.5 740.6L224 733.5M306.6 745.8L307 738.6M306.6 745.8L307 738.6M389.8 749.5L390.1 742.3M389.8 749.5L390.1 742.3M473.1 751.7L473.2 744.5M473.1 751.7L473.2 744.5M556.4 752.4L556.4 745.3M556.4 752.4L556.4 745.3M639.7 751.7L639.6 744.5M639.7 751.7L639.6 744.5M723 749.5L722.7 742.3M723 749.5L722.7 742.3M806.2 745.8L805.8 738.6M806.2 745.8L805.8 738.6M889.3 740.6L888.8 733.5M889.3 740.6L888.8 733.5M143.4 699.8L151 700.5M143.4 699.8L151 700.5M146.5 665.7L154 666.4M146.5 665.7L154 666.4M152.5 597.8L159.9 598.5M152.5 597.8L159.9 598.5M158.5 530.2L165.8 530.8M158.5 530.2L165.8 530.8M164.5 462.7L171.7 463.3M164.5 462.7L171.7 463.3M170.5 395.3L177.6 395.9M170.5 395.3L177.6 395.9M176.5 327.8L183.4 328.4M176.5 327.8L183.4 328.4M182.5 260.3L189.3 260.9M182.5 260.3L189.3 260.9M188.5 192.6L195.2 193.2M188.5 192.6L195.2 193.2M194.5 124.7L201.1 125.3M194.5 124.7L201.1 125.3M196 107.7L202.6 108.3M196 107.7L202.6 108.3M969.4 699.8L961.8 700.5M969.4 699.8L961.8 700.5M966.3 665.7L958.8 666.4M966.3 665.7L958.8 666.4M960.3 597.8L952.9 598.5M960.3 597.8L952.9 598.5M954.3 530.2L947 530.8M954.3 530.2L947 530.8M948.3 462.7L941.1 463.3M948.3 462.7L941.1 463.3M942.3 395.3L935.2 395.9M942.3 395.3L935.2 395.9M936.3 327.8L929.4 328.4M936.3 327.8L929.4 328.4M930.3 260.3L923.5 260.9M930.3 260.3L923.5 260.9M924.3 192.6L917.6 193.2M924.3 192.6L917.6 193.2M918.3 124.7L911.7 125.3M918.3 124.7L911.7 125.3M916.8 107.7L910.2 108.3M916.8 107.7L910.2 108.3M197.6 90.6L203.5 98.4M915.2 90.6L909.3 98.4M140.4 734L148.6 727.5M972.4 734L964.2 727.5" fill="none" stroke="#000" stroke-width="0.8"/>
<path d="M268.9 99.9L340.7 104.4M412.6 107.6L484.5 109.5M556.4 110.1L628.3 109.5M700.2 107.6L772.1 104.4M843.9 99.9L909 94.8M148.3 731.1L223.7 737M306.8 742.2L389.9 745.9M473.2 748.1L556.4 748.8M639.6 748.1L722.9 745.9M806 742.2L889.1 737M144.8 727.2L147.2 700.1M150.2 666.1L156.2 598.2M162.2 530.5L168.1 463M174 395.6L180 328.1M185.9 260.6L191.9 192.9M197.8 125L199.3 108M965.6 700.1L962.6 666.1M956.6 598.2L950.6 530.5M944.7 463L938.8 395.6M932.8 328.1L926.9 260.6M920.9 192.9L915 125M913.5 108L912.6 98.1" fill="none" stroke="#000" stroke-width="1.25"/>
<path d="M196.9 97.8L198.3 82.1M141 726.9L139.7 742.4M340.5 108L341.4 92.3M307 738.6L306.1 754.3M484.4 113.1L484.7 97.4M473.2 744.5L472.9 760.2M628.4 113.1L628.1 97.4M639.6 744.5L639.9 760.2M772.3 108L771.4 92.3M805.8 738.6L806.7 754.3M915.9 97.8L914.5 82.1M971.8 726.9L973.1 742.4M154 666.4L138 665M958.8 666.4L974.8 665M165.8 530.8L150.1 529.4M947 530.8L962.7 529.4M177.6 395.9L162 394.5M935.2 395.9L950.8 394.5M189.3 260.9L174 259.6M923.5 260.9L938.8 259.6M201.1 125.3L186.1 124M911.7 125.3L926.7 124" fill="none" stroke="#000" stroke-width="1.1"/>
<g font-family="DejaVu Sans, Liberation Sans, sans-serif" font-size="20.3px" letter-spacing="0.9" fill="#000"><text transform="translate(131.2 665.4) rotate(5.08)" text-anchor="end" dy="0.36em">16°N</text><text transform="translate(143.3 529.8) rotate(5.08)" text-anchor="end" dy="0.36em">20°N</text><text transform="translate(155.3 394.9) rotate(5.08)" text-anchor="end" dy="0.36em">24°N</text><text transform="translate(167.2 260) rotate(5.08)" text-anchor="end" dy="0.36em">28°N</text><text transform="translate(179.3 124.4) rotate(5.08)" text-anchor="end" dy="0.36em">32°N</text><text transform="translate(142 749.9) rotate(5.08)" text-anchor="middle" dy="0.73em">100°W</text><text transform="translate(308.8 761.8) rotate(3.05)" text-anchor="middle" dy="0.73em">95°W</text><text transform="translate(475.8 767.7) rotate(1.02)" text-anchor="middle" dy="0.73em">90°W</text><text transform="translate(643 767.7) rotate(-1.02)" text-anchor="middle" dy="0.73em">85°W</text><text transform="translate(810 761.8) rotate(-3.05)" text-anchor="middle" dy="0.73em">80°W</text><text transform="translate(976.8 749.9) rotate(-5.08)" text-anchor="middle" dy="0.73em">75°W</text></g>
<rect x="989.5" y="89" width="34" height="665.5" fill="url(#jet)" stroke="#262626" stroke-width="1"/>
<path d="M1017.0 155.6H1023.5M1017.0 222.1H1023.5M1017.0 288.6H1023.5M1017.0 355.2H1023.5M1017.0 421.8H1023.5M1017.0 488.3H1023.5M1017.0 554.9H1023.5M1017.0 621.4H1023.5M1017.0 688H1023.5" stroke="#262626" stroke-width="1"/>
<g font-family="DejaVu Sans, Liberation Sans, sans-serif" font-size="19px" fill="#262626"><text x="1031" y="89" dy="0.36em">310</text><text x="1031" y="155.6" dy="0.36em">308</text><text x="1031" y="222.1" dy="0.36em">306</text><text x="1031" y="288.6" dy="0.36em">304</text><text x="1031" y="355.2" dy="0.36em">302</text><text x="1031" y="421.8" dy="0.36em">300</text><text x="1031" y="488.3" dy="0.36em">298</text><text x="1031" y="554.9" dy="0.36em">296</text><text x="1031" y="621.4" dy="0.36em">294</text><text x="1031" y="688" dy="0.36em">292</text><text x="1031" y="754.5" dy="0.36em">290</text></g>
</svg></body></html>
